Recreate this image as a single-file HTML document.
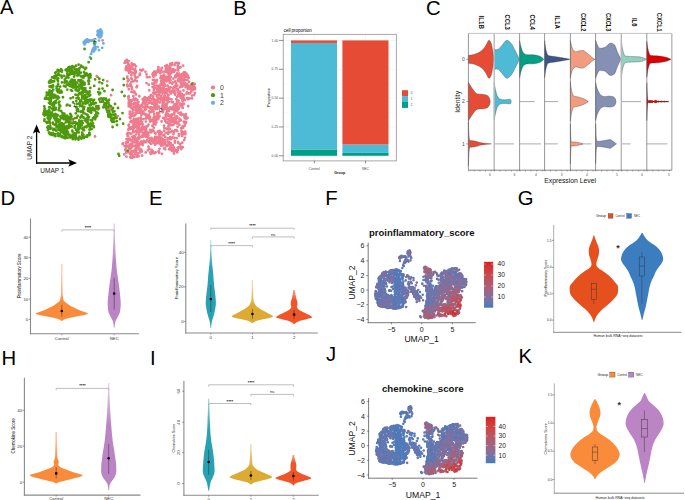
<!DOCTYPE html>
<html><head><meta charset="utf-8"><style>
html,body{margin:0;padding:0;background:#fff;width:685px;height:500px;overflow:hidden}
svg{display:block}
text{font-family:"Liberation Sans",sans-serif}
</style></head><body>
<svg width="685" height="500" viewBox="0 0 685 500" font-family='"Liberation Sans", sans-serif'>
<rect width="685" height="500" fill="#fff"/>
<text x="0" y="13.9" font-size="20.3">A</text>
<text x="233.2" y="14.5" font-size="20.3">B</text>
<text x="426" y="14.7" font-size="20.3">C</text>
<text x="0.6" y="205" font-size="20.3">D</text>
<text x="149" y="205.1" font-size="20.3">E</text>
<text x="325.3" y="205.4" font-size="20.3">F</text>
<text x="517.8" y="205.4" font-size="20.3">G</text>
<text x="1.5" y="364.8" font-size="20.3">H</text>
<text x="150" y="364.8" font-size="20.3">I</text>
<text x="326" y="361.3" font-size="20.3">J</text>
<text x="518.6" y="363.1" font-size="20.3">K</text>
<path d="M73.24 119.12h0M84.21 89.68h0M76.08 129.92h0M48.09 112.27h0M69.06 69.49h0M89.08 110.55h0M67.77 118.11h0M71.77 80.55h0M88.46 93.91h0M73.01 85.6h0M79.55 102.89h0M74.04 122.72h0M50.86 115.46h0M54.2 81.27h0M44.78 113.9h0M77.5 71.45h0M72.22 123.41h0M62.63 127.07h0M91.53 126h0M89.99 125.48h0M89.13 93.96h0M81.42 86.53h0M62.87 118.51h0M60.72 92.51h0M44.76 112.83h0M77.12 70.43h0M71.62 68.48h0M95.09 119.2h0M53.98 128.88h0M90.2 94.99h0M81.8 120.84h0M93.43 108.42h0M69.66 135.02h0M77.31 132.28h0M88.77 100.23h0M51.14 92.27h0M52.06 95.17h0M48.85 92.46h0M81.68 123.28h0M71.07 121.25h0M46.47 113.33h0M49.24 121.02h0M85.91 99.86h0M78.79 74.17h0M81.67 137.53h0M68.41 77.77h0M79.59 103.88h0M73.73 80.61h0M82.35 95.89h0M87.63 100.4h0M48.96 132.74h0M44.13 111.19h0M89.97 124.09h0M90.82 126.05h0M81.94 82.5h0M72.58 119.63h0M80.33 81.76h0M51.91 81.06h0M78.75 132.38h0M56.38 117.7h0M83.48 97.18h0M60.47 130.99h0M76.86 72.65h0M76.03 138.45h0M66.24 134.2h0M72.56 135.89h0M82.1 88.2h0M49.67 114.37h0M66.88 137.72h0M71.61 81.1h0M73 87.61h0M59.08 91.4h0M43.87 114.06h0M61.9 136.36h0M64.95 137.03h0M66.25 135.46h0M50.7 80.04h0M66.15 126.54h0M58.27 129.61h0M80.03 100.31h0M73.07 123.34h0M78.48 86.8h0M65.36 138.19h0M53.08 116.02h0M73.46 82.87h0M82.93 89.93h0M45.14 113.85h0M53.42 115.3h0M79.8 124.66h0M89.02 92.61h0M73.44 72.59h0M86.09 102.28h0M78.44 72.8h0M44.4 113.97h0M44.57 110.95h0M63.67 125.38h0M56.21 72.04h0M65.64 69.91h0M55.6 116.9h0M80.27 102.17h0M84.95 91.74h0M55.79 109.39h0M52.96 133.08h0M71.52 86.67h0M44.37 112.37h0M67.35 75.4h0M58.54 134.51h0M51.73 95.73h0M91.43 125.62h0M46.33 113.27h0M82.65 93.31h0M62.25 129.3h0M61.84 136.19h0M62.09 128.22h0M48.96 110.1h0M55.43 116.65h0M74.22 82.3h0M62.98 125.47h0M62.02 129.09h0M65.32 134.81h0M66.71 128.12h0M59.07 108.67h0M90.67 109.53h0M48.94 117.12h0M72.2 79.96h0M84.43 91.42h0M72.46 70.94h0M64.16 134.47h0M69.97 81.99h0M88.83 101.29h0M67.13 116.03h0M47.39 127.46h0M75.17 138.64h0M65.13 127.55h0M66.47 117.9h0M47.8 117.18h0M71.78 79.97h0M74.62 74.66h0M50.21 94.94h0M65.51 129.52h0M66.39 116.53h0M51.45 104.32h0M75.27 87.75h0M76.67 90.39h0M90.95 108.9h0M65.7 131.18h0M56.4 119.04h0M83.16 102.76h0M73.28 82.45h0M61.68 92.45h0M75.48 122.13h0M72.07 68.04h0M84.43 90.56h0M67.98 69.5h0M75.26 134.6h0M53.41 134.2h0M54.08 76.48h0M89.3 95.75h0M76.07 82.53h0M47.84 113.44h0M46.64 95.52h0M62.98 124.55h0M89.47 129.54h0M87.94 109.91h0M62.44 117.43h0M85.6 97.78h0M56.26 130.84h0M97.36 76.82h0M72.54 134.7h0M100.22 93.01h0M71.46 120.19h0M53.64 106.64h0M63.55 116.42h0M48.17 129.19h0M92.41 124.53h0M79.65 72.63h0M52.04 81.63h0M65.6 129.98h0M70.91 121.43h0M86.4 101.18h0M79.06 103.52h0M88.09 100.07h0M81.33 138.71h0M77.31 72.81h0M70.21 81.79h0M63.37 127.89h0M50.07 123.07h0M61.38 136.49h0M69 124.77h0M74.43 135.11h0M84.56 99.06h0M86.1 98.27h0M82.19 134.93h0M67.82 128.32h0M83.77 88.26h0M86.47 114.3h0M71.67 84.12h0M78.51 139.71h0M62.41 129.8h0M80.15 103.26h0M47.7 94.35h0M74.64 81.9h0M60.2 106.01h0M64.19 129.12h0M67.82 118.18h0M71.01 70.6h0M78.38 91.37h0M65.11 135.87h0M50.62 95.74h0M70.81 83.01h0M45.83 112.9h0M64.86 118.17h0M80.02 102.56h0M72.12 80.95h0M79.1 89.2h0M55.9 76.36h0M76.1 84.42h0M51.23 82.2h0M71.33 83.05h0M51.85 81.64h0M55.2 72.78h0M73.65 82.1h0M78.83 94.26h0M71.53 79.72h0M75.81 70.36h0M61.21 90.92h0M70.92 90.05h0M83.23 81.68h0M50.58 81.67h0M72.99 121.68h0M81.8 91.95h0M68.34 67.69h0M71.8 73.75h0M88.98 93.73h0M55.87 77.18h0M56.95 90.65h0M74.85 82.62h0M58.34 73.96h0M91.66 110.02h0M51.9 93.28h0M73.43 122.03h0M46.62 111.49h0M48.52 94.59h0M85.94 100.38h0M64.83 136.65h0M49.35 95.49h0M48.67 94.95h0M83.89 138.1h0M87.29 92.12h0M90.69 110.87h0M79.57 136.56h0M74.19 83.64h0M81.25 123.66h0M72.45 122.86h0M87.02 92.41h0M49.61 81.15h0M65.41 130.27h0M59.27 107.31h0M74.41 84.56h0M78.36 90.2h0M75.74 134.81h0M50.04 126.5h0M87.5 102.91h0M67.08 71.63h0M83.47 113.09h0M63.12 132.92h0M73.67 137.1h0M55.74 114.42h0M78.85 89.88h0M63.34 130.02h0M76.84 103.92h0M82.08 84.82h0M62.59 131.13h0M82.49 84.38h0M51.37 134.76h0M44.45 114.51h0M46.74 92.72h0M63.23 128.34h0M71.04 122.97h0M54.9 76.38h0M58.67 126.18h0M53.26 102.85h0M50.02 82.57h0M76.25 83.18h0M54.89 114.57h0M47.83 111.44h0M77.96 138.63h0M49.14 116.72h0M50.61 101.37h0M85.38 100.88h0M43.56 114.45h0M68.43 77.69h0M87.56 100.45h0M88.21 110.89h0M84.49 113.33h0M65.94 119.67h0M92.99 109.03h0M55.18 134.09h0M62.87 130.22h0M85.89 101.5h0M72.89 80.73h0M71.97 66.55h0M79.01 74.98h0M93.26 109.46h0M62.62 131.47h0M64.18 134.57h0M65.59 132.25h0M94.76 110.25h0M88.8 108.98h0M48.62 127.46h0M67.12 115.57h0M68.41 127.62h0M93.89 127.16h0M60.77 125.87h0M80.52 86.38h0M74.44 84.51h0M63.34 129.42h0M48.31 126.48h0M55.21 113.92h0M48.87 115.16h0M67.32 73.84h0M80.07 104.16h0M83.8 90.46h0M49.17 117.98h0M56.12 125.45h0M48.89 93.77h0M67.6 133.63h0M85.63 90.69h0M44.54 115.51h0M72.7 82.36h0M70.77 120.59h0M50.7 113.55h0M74.71 69.3h0M98.25 92.22h0M72.28 70.91h0M79.1 70.06h0M63.12 127.19h0M75.51 71.74h0M63.08 117.35h0M49.54 92.56h0M55.74 107.81h0M44.25 112.35h0M59.08 120.87h0M56.78 75.76h0M78.83 137.79h0M53.73 103.1h0M49.73 134.09h0M61.22 127.54h0M51.29 133.24h0M90.75 111.41h0M69.66 67.38h0M68.51 134.59h0M58.96 128.98h0M50.69 101.46h0M70.78 69.82h0M87.57 121.38h0M78.85 86.33h0M46.87 113.1h0M51.01 95.23h0M46.85 114.71h0M70.42 121.94h0M49.57 93.66h0M74.32 67.2h0M64.67 115.28h0M80.47 93.91h0M79.06 86.27h0M49.03 82.52h0M79.55 86.41h0M72.17 70.58h0M66.86 130.07h0M67.67 75.73h0M53.8 135.09h0M89.76 111.82h0M51.2 96.88h0M67.13 126.98h0M61.74 77.58h0M90.35 87.92h0M52.28 87.14h0M55.38 95.46h0M61.49 130.64h0M72.32 137.18h0M87.81 122.54h0M59.25 104.58h0M88.97 117.12h0M49.51 133.45h0M71.5 116.42h0M86.91 125.97h0M85.29 75.64h0M65.4 128.16h0M76.94 110.76h0M49.76 112.37h0M87.19 122.39h0M95.38 114.9h0M67.15 127.33h0M76.54 98.15h0M85.05 136.85h0M54.02 105.49h0M87.66 125.78h0M96.86 112.67h0M80.97 65.69h0M84.9 88.65h0M66.62 126.3h0M45.47 114.24h0M62.41 112.83h0M58.97 97.53h0M47.71 118.24h0M73.76 85.98h0M69.26 85.49h0M68.74 122.33h0M49.31 122.45h0M54.24 134.24h0M51.42 128.03h0M64.54 133.65h0M71.32 119.4h0M84.56 82.79h0M76.06 136.94h0M51.49 104.13h0M96.41 113.66h0M72.55 131.62h0M78.17 110.07h0M85.14 95.16h0M73.1 102.3h0M64.35 113.76h0M67.24 89.58h0M49.57 86.5h0M55.42 136.13h0M51.98 94.71h0M89.6 105.02h0M88.77 81.42h0M88.92 94.32h0M67.41 82.89h0M46.96 114.56h0M87.38 93.45h0M97.13 116.17h0M74.41 136.98h0M68.78 70.33h0M74.78 126.1h0M53.37 130.04h0M55.71 103.11h0M75.96 86.21h0M93.53 110.02h0M47.6 122.02h0M83.75 95.8h0M66.57 76.3h0M55.12 109.86h0M64.13 129.58h0M71.27 82.49h0M66.6 85.16h0M80.89 80.28h0M81.65 85.45h0M60.9 117.76h0M72.01 90.94h0M78.37 111.32h0M57.59 96.39h0M77.68 115.88h0M77.95 130.07h0M95.1 119.27h0M48.68 94h0M75.37 137.16h0M68.71 74.78h0M63.92 85.96h0M57.72 115.25h0M68.1 122.02h0M63.69 119.18h0M79.26 120.39h0M90.91 120.37h0M77.29 75.52h0M70.02 136.85h0M77.79 109.27h0M70.73 120.57h0M46.41 98.68h0M88.63 76.77h0M88.82 78.67h0M90.48 99.29h0M79.79 106.21h0M82.93 136.92h0M75.15 118.09h0M44.96 98.81h0M84.05 106.84h0M99.32 78.75h0M84.52 75.33h0M77.4 123.43h0M101.3 98.39h0M84.55 136.64h0M103.19 80.05h0M93.56 103.08h0M80.45 80.07h0M68.6 126.17h0M52.11 113.63h0M49.75 93.25h0M88.31 108.08h0M75.63 133.44h0M49.97 92.24h0M92.94 123.37h0M78.07 98.44h0M56.52 127.34h0M78.99 122.15h0M52.23 91.1h0M61.99 82.4h0M96.46 106.17h0M49.97 91.8h0M74.23 72.3h0M80.17 127.9h0M88.32 80.78h0M51.99 112.34h0M72.38 135.83h0M57.15 126.71h0M80.93 86.75h0M91.08 111.21h0M59.39 101.64h0M69.96 72.33h0M98.39 106.19h0M82.25 98.38h0M83.09 111.35h0M72.46 120.55h0M59.03 89.37h0M55.9 116.41h0M88.82 83.94h0M53.59 97.81h0M74.06 76.65h0M89.29 132.84h0M61.57 131.89h0M51.98 108.59h0M55.77 101.02h0M70.12 126.83h0M71.08 118.58h0M90.93 103.51h0M83.58 127.99h0M59.03 91.7h0M78.95 75.04h0M68.82 69.25h0M69.57 119.54h0M46.38 111.77h0M90.63 123.39h0M77.18 82.67h0M85.66 92.12h0M75.53 94.7h0M48.99 102.78h0M81.31 92.93h0M68.95 122.19h0M75.81 84.76h0M52.27 86.56h0M72.5 66.14h0M89.96 107.92h0M54.61 115.29h0M91.23 112.79h0M43.64 113.06h0M64.71 82.64h0M76.72 107.07h0M77.24 69.62h0M100.26 101.75h0M45.94 111.95h0M83.18 109.72h0M44.66 108.71h0M81.16 100.98h0M92.88 118.16h0M57.38 90.26h0M85.54 120.67h0M83.53 136.14h0M60.05 91.83h0M67.09 131.27h0M56.07 75.05h0M69.74 85.88h0M59.02 71.58h0M70.29 113.87h0M81.73 125.43h0M66.59 129.06h0M53.65 115.9h0M49.98 107.38h0M70.71 126.23h0M94.23 85.88h0M94.29 117.16h0M73 80.28h0M58.32 78.33h0M73.82 73.86h0M70.06 72.84h0M56.89 116.4h0M75.71 90.08h0M83.63 117.75h0M59.44 129.86h0M61.01 69.23h0M89.57 129.85h0M53.06 86.45h0M87.15 135.31h0M69.62 66.88h0M78.42 125.54h0M89.79 127.2h0M43.54 114.36h0M102.6 88.6h0M76.65 69.32h0M61.2 127.5h0M88.27 119.39h0M76.35 124.01h0M59.44 124h0M64.86 132.37h0M77.11 109.18h0M79.55 68.2h0M44.39 110.81h0M82.6 67h0M51.07 99.66h0M81.34 76.54h0M96.41 112.2h0M49.34 110.43h0M49.62 113.68h0M83.13 103.58h0M63.47 124.31h0M84.91 120.29h0M58.76 110.21h0M59.21 75.04h0M51.21 94.26h0M55.09 75.79h0M81.18 88.25h0M63.86 128.06h0M57.15 79.62h0M80.48 125.75h0M91.65 129.07h0M53.11 123.75h0M59.75 126.23h0M49.2 107.29h0M71.92 126.58h0M66.18 120.29h0M89.87 100.95h0M59.42 92.59h0M49.62 132.89h0M84.7 84.45h0M87.95 123.59h0M90.2 74.16h0M64.52 132.37h0M60.82 111.12h0M57.8 119.29h0M62.45 137.24h0M64.42 130.23h0M69.53 117.48h0M48.86 93.23h0M77.87 95.39h0M88.68 94.53h0M62.05 70.51h0M65.72 78.32h0M46.9 122.9h0M83.2 77.33h0M89.62 91.38h0M44.89 108.65h0M54.06 109.8h0M67.87 132.84h0M78.18 126.6h0M57.2 97.66h0M82.37 128.7h0M47.94 129.88h0M99.44 82.14h0M61.83 136.33h0M89.06 135.2h0M80.86 116.7h0M93.64 126.06h0M65.55 86.65h0M92.72 107.63h0M58.02 81h0M69.39 74.97h0M56.56 88.55h0M81.72 116.92h0M63.12 128.63h0M80.74 72.73h0M65.84 122.26h0M47.74 111.99h0M59.51 123.94h0M78.81 129.39h0M63.88 127.44h0M102.07 83.36h0M49.94 122.43h0M81.27 66.7h0M53.01 122.73h0M44.61 113.8h0M57.67 69.99h0M46.32 111.03h0M90.6 75.54h0M82.68 123.11h0M47.99 127.66h0M89.77 134.56h0M82.39 97.13h0M78.4 98.71h0M86.11 68.02h0M60.07 134.14h0M61.89 123.41h0M89.45 132.87h0M60.06 119.75h0M75.85 86.7h0M57.51 98.97h0M63.8 75.97h0M50.51 81.49h0M50.72 117.62h0M70.34 71.32h0M107.21 85.71h0M60.11 86.69h0M69.91 105.7h0M79.49 80.81h0M85.1 69.18h0M61.13 75.6h0M82.09 98.38h0M80.02 103.68h0M93.18 108.93h0M75.95 107.24h0M80.96 111.89h0M70.35 137.52h0M50.93 87.12h0M58.09 133.16h0M76.22 101.06h0M55.58 97.33h0M83.55 77.84h0M58.59 102.62h0M72.32 130.69h0M57.79 74.81h0M98.94 108.34h0M92.9 101.53h0M62.95 97.25h0M49.42 99.85h0M62.67 128.4h0M60.61 127.6h0M89.37 135.22h0M47.57 122.72h0M90.04 75.28h0M94.14 103.96h0M51.1 86.07h0M81.24 79.9h0M87.03 136.77h0M79.98 93.41h0M82.16 96.01h0M87.76 117.25h0M53.83 81.41h0M58.88 70.49h0M86.45 73.38h0M88.64 81.77h0M52.26 97.38h0M62.04 129.77h0M72.82 139.16h0M78.46 80.19h0M69.48 119.91h0M89.1 100.08h0M74.68 80.19h0M95.59 117.66h0M55.2 124.82h0M56.28 123.3h0M67.43 104.77h0M55.23 97.08h0M68.69 84.3h0M52.59 105.6h0M60.58 122.82h0M49.12 98.16h0M50.13 103.75h0M76.06 65.76h0M92.28 99.82h0M57.8 133.7h0M88.99 78.27h0M49.07 128.91h0M77.86 138.44h0M72.96 121.79h0M92.24 120.68h0M85.3 89.35h0M73.54 137.65h0M87.77 75.65h0M50.1 119.23h0M60.11 125.88h0M86.91 121.02h0M54.54 94.91h0M46.34 122.04h0M58.07 83.89h0M83.6 108.44h0M82.56 88.19h0M70.57 98.32h0M67.89 137.61h0M58.38 133.95h0M62.65 114.62h0M72.25 83.14h0M72.88 122.69h0M91 99.61h0M56.52 86.53h0M82.98 85.06h0M99.11 88.99h0M95.25 109.48h0M81 76.25h0M96.22 106.77h0M45.56 97.71h0M50.08 125.75h0M77.22 70.66h0M54.25 115.74h0M86.02 118.87h0M81.25 121.97h0M95.68 102.92h0M81.78 123.08h0M67.39 118.55h0M99.48 98.98h0M70.26 68.28h0M44.46 119.39h0M69.34 127.5h0M54.3 118.35h0M54.13 102.08h0M50.66 128.71h0M58.25 135.86h0M86.74 122.21h0M53.72 104.11h0M76.35 72.69h0M83.64 117.74h0M54.63 114.43h0M95.26 118.51h0M44.3 106.32h0M50.69 94.75h0M93.24 104.12h0M65.75 81.65h0M64.83 81.52h0M47.02 98.44h0M49.4 132.65h0M95.08 79.43h0M48.57 117.62h0M64.61 138.14h0M54.78 78.24h0M62.71 116.33h0M85.24 88.16h0M80.39 117.56h0M66.47 69.35h0M75.8 86.87h0M53.76 124.36h0M81.72 105.81h0M56.35 121.1h0M74.63 133.1h0M82.24 106.47h0M85.53 103.64h0M48.93 119.18h0M53.63 108.03h0M83.86 109h0M97.32 108.5h0M61.23 111.15h0M73.02 97.45h0M57.91 86.02h0M99.26 94.29h0M55.46 120.29h0M79.43 84.68h0M53.27 89.63h0M61.54 70.63h0M82.05 121.09h0M53.58 135.23h0M90.83 105.07h0M80.08 84.35h0M89.3 92.5h0M99.17 99.54h0M84.03 72.24h0M53.59 94.8h0M84.76 126.82h0M84.07 130.14h0M87.84 115.37h0M58.03 92.15h0M81.19 111.32h0M70.93 115.03h0M44.36 120.8h0M67.85 132.03h0M84.92 73.61h0M66.64 115.78h0M53.98 77.97h0M74.2 122.46h0M74.66 127.63h0M69.19 117.1h0M69.81 135.41h0M87.81 74.69h0M63.7 123.82h0M59.27 136.06h0M87.12 97.09h0M79.39 121.11h0M84.26 107.08h0M86.5 127.34h0M57.86 121.66h0M104.42 91.22h0M81.75 115.43h0M87.69 96.36h0M66.75 105.3h0M62.66 127.89h0M49.52 90.34h0M46.96 113.19h0M54.91 77.53h0M64.81 79.6h0M82.9 76.1h0M58.62 70.76h0M72.85 79.97h0M71.72 71.46h0M92.14 103.39h0M83.43 67.3h0M83.46 82.29h0M67.79 117.9h0M75.36 139.36h0M70.71 122.62h0M83.51 84.36h0M51.41 91.49h0M58.43 125.36h0M52.99 85.17h0M67.5 120.58h0M83.35 134.59h0M52.05 96.26h0M88.19 101.25h0M57 114.84h0M76.47 87.63h0M69.52 119.7h0M86.7 91.4h0M77.48 73.09h0M77.84 69.64h0M55.43 129.87h0M76.78 117.84h0M61.68 116.18h0M52.92 109.99h0M78.29 126.85h0M52.06 77.47h0M75.77 113.31h0M83.41 129.9h0M67.61 132.28h0M82.21 132.65h0M73.39 134.93h0M91.58 125.7h0M67.75 117.29h0M66.78 81.29h0M60.42 116.5h0M98.11 113.39h0M59.34 104.77h0M54.68 108.1h0M70.85 73.52h0M90.44 77.4h0M77.17 72.94h0M49.05 133.06h0M89.14 81.24h0M77.8 128h0M61.75 71.67h0M78.67 97.91h0M94.15 99.79h0M89.03 134.73h0M48.5 99.17h0M98.16 109.35h0M112.5 117.69h0M111.93 114.54h0M107.03 110.44h0M113.82 114.63h0M111.22 120.41h0M114.1 118.65h0M107.94 100.82h0M110.72 115.53h0M113.29 111.67h0M102.09 101.63h0M113.21 120.58h0M112.26 109.57h0M103.37 107.31h0M106.13 105.25h0M108.19 116.36h0M109.33 108.61h0M112.7 111.78h0M112.05 119.34h0M105.96 98.66h0M103.01 100.95h0M106.29 107.93h0M108.18 114.44h0M114.47 111.34h0M111.46 118.87h0M113.55 121.14h0M104.18 104.78h0M111.84 109.54h0M107.97 106.99h0M114.68 117.93h0M106.09 99.91h0M110.69 106.06h0M108.84 116.9h0M105.24 105.63h0M113.04 108.04h0M108.85 107.33h0M113.7 119.37h0M115.61 116.36h0M108.42 102.54h0M114.28 121.87h0M110.19 106.08h0M103.41 106.92h0M108.02 111.78h0M102.44 100.95h0M105.8 105.87h0M106.16 108.53h0M113.68 118.28h0M112.33 121.92h0M106.99 101.96h0M109.21 108.19h0M106.26 107.96h0M108.94 104.75h0M116.57 117.93h0M109.03 111.71h0M107.34 111.84h0M104.91 106.58h0M111 117.67h0M109.32 110.94h0M103.81 98.48h0M115.38 114.38h0M108.45 115.1h0M112.73 120.46h0M108.48 112.39h0M109.69 113.36h0M105.05 104.24h0M109.8 108.81h0M104.55 103.04h0M103.77 98.98h0M107.47 112.08h0M110.95 106.73h0M111.5 107.67h0M112.73 120h0M116.82 121.09h0M106.67 102.96h0M106.25 103.51h0M105.95 105.47h0" stroke="#4f9a0c" stroke-width="2.8" stroke-linecap="round" fill="none"/>
<path d="M169.17 70.51h0M157.7 87.41h0M163.34 107.89h0M161.13 141.54h0M161.67 84.03h0M181.26 79.46h0M130.72 106.66h0M145.84 127.55h0M151.96 140.48h0M126.34 143.55h0M134.19 69.58h0M192.31 89.41h0M170.6 80.35h0M170.16 71.53h0M146.05 128.5h0M149.28 100.17h0M181.49 105.22h0M158.36 99.48h0M173.88 119.94h0M180.11 93.94h0M155.67 139.75h0M130.43 118.34h0M163.33 105.93h0M168.07 70.7h0M164.06 76.59h0M130.77 105.64h0M129.55 148.87h0M174.36 119.06h0M137.75 111.32h0M180.42 77.5h0M136.48 150.27h0M135.69 72.68h0M131.62 104.14h0M167.15 99.3h0M174.26 112.72h0M162.3 139.43h0M130.81 85.07h0M158.03 137.82h0M135.91 72.1h0M164.93 78.49h0M194.79 87.76h0M186.6 75.42h0M177.36 106.64h0M135.83 71.25h0M164.89 93.48h0M154.3 103.48h0M142.39 112.49h0M146.43 101.97h0M132.93 107.87h0M146.08 129.22h0M193.64 86.74h0M147.82 133h0M155.87 117.1h0M143.9 102.78h0M165.6 98.87h0M151.33 139.85h0M148.45 135.29h0M162.64 100.38h0M155.43 102.41h0M142.04 128.03h0M145.63 106.16h0M137.07 143.9h0M154.48 102.63h0M128.67 104.06h0M154.35 102.88h0M164.58 119.07h0M162.12 90.82h0M185.28 132.48h0M172.85 120.31h0M140.18 109.11h0M164.99 71.62h0M132.33 121.59h0M142.66 112.6h0M180.73 76.9h0M144.86 126.85h0M173.6 124.53h0M169.44 79.28h0M162.66 112.21h0M159.55 136.32h0M169.02 124.22h0M130.94 107.4h0M168.84 77.82h0M144.32 113.72h0M164.95 142.73h0M167.62 119.3h0M132.46 126.81h0M150.64 140.85h0M162.63 98.26h0M156.41 122.36h0M175.77 106.56h0M131.19 78.4h0M161.24 137.72h0M164.49 89.67h0M152.15 98.66h0M176.27 77.05h0M147.64 136.07h0M134.22 150.9h0M160.92 99.9h0M129.14 105.11h0M168.67 98.72h0M175.52 75.52h0M137.34 112.63h0M159.55 70.24h0M145.92 105.29h0M131.84 79h0M166.28 89.27h0M153.49 107.52h0M166.78 81.27h0M154.08 102.62h0M138.16 144.17h0M166.46 98.46h0M163.59 142.66h0M159.7 93.06h0M157.88 97.62h0M185.59 87.33h0M195.05 88.98h0M177.68 147.7h0M162.4 142.68h0M156.45 143.33h0M131.33 100.21h0M153.03 102.93h0M181.63 131.73h0M129.83 149.28h0M142.31 110.95h0M131.78 122.2h0M154.66 141.25h0M164.24 81.32h0M166.48 106.87h0M147.06 116.35h0M128.8 67.28h0M143.99 102.2h0M179.89 75.84h0M169.24 69.13h0M152.6 109.78h0M176.28 99.18h0M158.7 107.47h0M159.31 143.51h0M159.46 92.17h0M138.54 110.87h0M154.62 121.98h0M156.75 100.22h0M166.2 91.91h0M137.14 112.47h0M143.09 111.44h0M168.75 123.88h0M127.8 142.35h0M128.86 124.74h0M169.09 72.89h0M157.02 72.23h0M186.47 86.44h0M145.78 98.79h0M134.37 126.33h0M161.41 84.63h0M156.64 142.59h0M156.34 92.02h0M161.9 107.13h0M169.29 142.08h0M167.85 144.67h0M174.3 114.09h0M181.82 95.84h0M146.65 135.52h0M147.1 100.01h0M141.36 114.12h0M166.59 104.55h0M169.73 82.79h0M136.44 113.18h0M172.53 121.51h0M157.22 119.45h0M192.84 83.34h0M167.52 101.04h0M161.01 77.8h0M175.23 111.02h0M178.6 100.54h0M164.24 105.12h0M168.8 143.94h0M128.61 79.95h0M131.04 140.61h0M170.83 115.52h0M179.03 73.75h0M172.74 121.76h0M163.99 135.09h0M162.93 80.47h0M173.07 69.36h0M165.42 97.81h0M154.02 122.18h0M183.01 97.68h0M171.22 71.78h0M146.09 135.26h0M128.62 128.76h0M167.9 98.26h0M154.51 122.12h0M154.19 103.93h0M176.57 104.99h0M140.86 128.67h0M180.48 93.46h0M133.16 137.85h0M142.82 129.48h0M157.39 100.21h0M143.89 107.4h0M132.18 139.99h0M169.96 79.57h0M175.67 106.16h0M150.4 140.9h0M179.48 94.48h0M165.15 89.03h0M159.87 142.44h0M137.24 122.53h0M130.19 105.67h0M170.32 69.18h0M143.29 103.53h0M143.34 100.65h0M183.95 73.9h0M125.34 149.75h0M164.25 100.37h0M192.65 90.04h0M158.18 117.59h0M133.95 128.15h0M175.12 94.65h0M173.68 106.07h0M148.29 107.22h0M189.8 88.66h0M130.54 102.78h0M156.55 72.5h0M153.59 124.19h0M158.75 141.52h0M150.02 102.87h0M167.98 145.58h0M180.75 79.97h0M173.76 109.91h0M155.34 118.61h0M168.91 66.55h0M136.14 148.69h0M180.36 81.65h0M164.07 105.18h0M173.95 70.6h0M153.92 138.93h0M176.9 150.08h0M154.41 105.85h0M167 69.91h0M136.23 145.77h0M160.87 88.51h0M162.2 87.83h0M177.15 100.76h0M183.83 125.85h0M162.69 93.35h0M163.6 87.52h0M159.36 98.41h0M183.21 127.65h0M160.16 143.19h0M134.7 92.78h0M180.41 114.41h0M139.02 108.16h0M141.51 115.05h0M122.58 144h0M172.76 114.57h0M153.53 98.82h0M179.08 79.57h0M132.34 114.89h0M145.73 129.42h0M184.03 103.89h0M136.61 112.8h0M178.95 107.43h0M178.24 94.95h0M184.76 100.06h0M125.76 69.49h0M150.35 140.49h0M174.12 131.38h0M165.01 140.84h0M160.43 91.56h0M137.25 138.43h0M135.94 134.39h0M160.19 87.54h0M177.4 103.52h0M152 103.05h0M154.91 93.7h0M154.44 104.3h0M128.73 103.99h0M136.13 105.81h0M158.97 140.22h0M174.55 90.74h0M166.12 80.04h0M161.81 67.9h0M145.25 134.13h0M144.6 100.14h0M181.57 98.03h0M128.4 63.91h0M164.94 71.3h0M129.55 104.19h0M151.5 137.8h0M155.59 106.05h0M169.15 76.18h0M135.37 121.03h0M157.2 101.16h0M161.14 69.81h0M170.72 65.37h0M169.18 80.44h0M163.69 81.76h0M162.09 142.18h0M166.13 122.37h0M169.71 122.92h0M172.69 131.45h0M135.11 69.12h0M176.66 62.89h0M188.26 87.44h0M181.26 128.2h0M135.03 125.69h0M166.98 122.5h0M183.27 73.91h0M131.41 81.96h0M154.88 72.72h0M194.69 83.89h0M145.94 102.17h0M156 73.09h0M156.87 96.33h0M154.13 71.57h0M182.01 106.66h0M164.82 96.21h0M188.74 77.71h0M139.71 106.37h0M179.02 79.59h0M167.09 79.08h0M134.45 120.83h0M163.59 78.47h0M154.92 102.34h0M135.66 127.15h0M184.91 137.8h0M140.73 109.23h0M175.21 150.86h0M185.32 134.22h0M150.2 119.31h0M155.53 138.64h0M173.29 106.94h0M154.06 121.83h0M126.01 61.61h0M168.14 95.47h0M164.04 76.11h0M155.41 120.74h0M163.5 79.56h0M179.31 95.78h0M136.93 145.26h0M147.31 99.7h0M131.68 101.23h0M130.42 84.18h0M153.84 107.83h0M169.48 116.38h0M173.5 134.08h0M162.4 143.51h0M131.32 114.51h0M124.52 146.07h0M135.91 104.5h0M149.15 97.08h0M139.4 108.46h0M168.61 78.51h0M181.67 74.61h0M180.32 93.82h0M184.43 84.75h0M126 151.06h0M171.42 149.77h0M182.78 75.44h0M135.01 141.33h0M162.43 141.78h0M155.68 106.81h0M164.98 100.17h0M131.31 100.29h0M146.8 126.48h0M152.15 121h0M160.23 138.66h0M171.82 125.14h0M163.44 110.55h0M135.17 146.22h0M169.91 128.79h0M134.98 137.27h0M139.38 108.26h0M166.87 77.22h0M155.36 99.82h0M180.88 77.69h0M146.85 98.14h0M157.86 100.19h0M148.73 141.75h0M165.35 107.08h0M172.4 107.41h0M173.05 124.88h0M153.79 90.05h0M162.53 76.18h0M136.67 120.76h0M177.14 96.9h0M176.6 110.77h0M154.53 105.42h0M166.61 78.28h0M146.07 118.62h0M145.12 128.82h0M148.64 132.69h0M136.96 108.04h0M159.98 98.33h0M180.67 97.74h0M159.3 142.96h0M145.29 135.7h0M161.24 89.65h0M182.61 79.77h0M173.8 109.04h0M139.99 142.92h0M137.83 119.45h0M172.16 130.84h0M133.16 107.75h0M157.09 88.49h0M157.71 107.68h0M182.39 99.92h0M145.67 104.14h0M156.92 85.71h0M177.14 63.09h0M180.86 104.21h0M137.01 106.6h0M145.12 127.4h0M178.56 76.42h0M126.73 69.39h0M183.56 74.82h0M128.79 104h0M138.38 108.34h0M158.22 119.03h0M145.1 110.01h0M178.55 113.02h0M133.31 124.89h0M152.26 99.17h0M193.61 89.05h0M176.45 88.47h0M135.08 115.23h0M159.62 132.76h0M159.49 137.56h0M184.42 74.83h0M134.08 125.73h0M142.36 126.61h0M158.34 89.95h0M176.96 101.28h0M174.5 149.19h0M183.52 97.89h0M129.75 117.51h0M138.88 110.65h0M146.56 134.01h0M186.34 84.17h0M128.78 139.07h0M131.07 116.24h0M145.16 101.8h0M178.02 90.69h0M177.98 65.98h0M157.73 91.24h0M160.9 76.37h0M175.5 110.12h0M173.16 71.62h0M184.42 76.57h0M169.79 69.8h0M164.89 97.87h0M173.26 107.48h0M175.15 77.01h0M139.46 110.1h0M166.11 76.55h0M163.74 79.1h0M141.84 110.8h0M172.51 148.34h0M128.59 69.39h0M144.96 97.3h0M136.47 119.09h0M150.55 140.52h0M154.46 118.42h0M146.18 117.81h0M153.17 96.08h0M144.41 100.88h0M155.21 121.55h0M181.59 114.49h0M145.11 136.33h0M181.96 94.11h0M178.52 108.51h0M169.11 120.62h0M133.72 127.42h0M127.51 146.26h0M154.18 102.98h0M131.16 148.02h0M159.46 98.67h0M130.44 121.88h0M160.66 142.39h0M147.25 117.61h0M142.61 107.06h0M135.6 106.7h0M145.22 98.35h0M164.55 83.87h0M143.05 99.22h0M166.95 89.4h0M155.67 152.31h0M162.77 103.07h0M137.89 119.54h0M152.66 152.98h0M136.26 113.31h0M138.36 146.78h0M130.52 104.03h0M157.24 142.47h0M172.03 117.58h0M162.05 89.76h0M130.7 128.96h0M187.16 84.09h0M148.48 98.19h0M130.68 68.02h0M182.12 135.94h0M169.04 111.06h0M126.15 147.65h0M136.05 118.78h0M147.32 135.76h0M127.12 62.52h0M127.66 141.24h0M132.51 65.69h0M146.4 131.25h0M143.97 102.95h0M178.81 95.55h0M174.2 132.05h0M131.59 143.65h0M171.11 121.59h0M130.34 69.27h0M162.11 82.9h0M182.42 105.54h0M155.39 141.3h0M157.8 99.48h0M143.5 119.13h0M148.6 98.47h0M162.32 108.99h0M153.07 121.51h0M178.52 79.25h0M146.04 115.71h0M136.07 122.65h0M134.25 103.05h0M137.45 110.46h0M162.73 106.34h0M143.28 128.06h0M154.83 119.44h0M162.18 100.43h0M132.65 64.1h0M154.37 122.19h0M174.79 122.77h0M129.62 100.62h0M153.58 111.74h0M139.08 144.87h0M160.42 78.12h0M163.76 78.45h0M155.45 103.66h0M169.67 79.51h0M161.13 80.95h0M154.47 116.37h0M126.55 152.55h0M156.51 104.15h0M133.17 115.72h0M145.6 108.78h0M162.76 71.85h0M133.84 156.91h0M155.5 109.14h0M176.48 103.65h0M145.56 101.84h0M187.3 76.56h0M183.85 72.39h0M164.92 99.81h0M182.77 74.25h0M160.18 139.94h0M169.98 69.47h0M164.29 96.16h0M138.19 108.4h0M183.21 79.07h0M152.12 121.06h0M177.48 88.57h0M187.81 89.2h0M163.24 107.02h0M169.72 116.94h0M129.62 139.97h0M156.77 116.66h0M168.08 78.34h0M163.81 98.07h0M165.88 69.23h0M182.98 103.96h0M129.05 104.29h0M135.5 119.76h0M154.91 121.33h0M165.07 92.42h0M153.75 87.99h0M185.98 75.01h0M165.4 96.78h0M170.97 124.57h0M158.77 140.52h0M158.22 116.23h0M131.49 108.1h0M129.13 65.26h0M156.72 101.71h0M162.59 144.71h0M172.79 107.89h0M191.88 90.12h0M136.56 87.27h0M183.74 84.96h0M154.19 153.16h0M161.27 137.81h0M165.08 120.04h0M157.03 106.04h0M171.08 148.68h0M159.55 71.96h0M128.82 68.06h0M135.45 138.16h0M180.2 91.61h0M164.71 77.85h0M182.18 74.22h0M173.83 118.33h0M168.94 70.37h0M156.66 102.94h0M167.5 80.7h0M168.83 68.59h0M170.14 63.88h0M154.77 105.88h0M155.5 71.6h0M144.1 102.33h0M170.9 145.8h0M158.16 142.9h0M135.62 148.86h0M135.68 140.74h0M161.29 134.1h0M163.5 90.62h0M172.36 102.1h0M182.5 126.57h0M130.36 67.46h0M167.05 72.32h0M133.87 119.07h0M182.38 135.35h0M185.99 85.88h0M192.22 85.12h0M165.37 144.39h0M128.79 102.73h0M152.39 109.87h0M130.31 144.79h0M165.45 79.23h0M152.64 152.49h0M154.77 103.26h0M152.18 103.86h0M133.43 104.4h0M125.68 146.02h0M179.26 76.72h0M170.52 65.76h0M143.92 135.39h0M155.26 117.29h0M147.24 140.26h0M161.23 142.69h0M128.96 147.06h0M158.16 92.01h0M177.89 75.83h0M137.12 86.02h0M166.24 66.96h0M181.36 74.8h0M182.7 114.49h0M165.24 140.16h0M163.37 85.06h0M180.12 95.28h0M133.59 150.93h0M129.28 67.71h0M152.8 151.18h0M171.1 69.21h0M129.99 127.38h0M170.66 125.18h0M128.65 106.35h0M161.33 95.71h0M189.98 86.4h0M131.34 108h0M137.31 156.85h0M162.11 140.77h0M141.78 135.96h0M137.59 125.47h0M133.94 124.24h0M156.26 139.91h0M186.37 76.77h0M157.24 106.86h0M131.79 64.88h0M144.53 133.15h0M156.76 106.31h0M133.38 156.32h0M174.47 108.31h0M142.19 111.68h0M180.35 103.62h0M157.3 117.83h0M134.45 92.26h0M135.22 122.43h0M171.19 73h0M144.4 135.24h0M180.49 76.72h0M163.85 107.77h0M178.24 102h0M135.65 112.66h0M135.71 114.15h0M181.52 130.58h0M146.7 100.38h0M154.47 108.25h0M178.33 102.35h0M132.28 108.08h0M183.47 97h0M166.88 81.23h0M155.98 121.09h0M137.37 108.19h0M174.74 150.57h0M128.38 129.7h0M160.79 141.23h0M134.33 138.84h0M182.58 101.2h0M135.71 124.91h0M187.03 98.18h0M167.67 141.89h0M170.19 108.53h0M128.81 97.37h0M126.8 59.89h0M135.36 121.88h0M166.51 128.66h0M140.1 124.35h0M133.84 142.38h0M145.38 141.73h0M175.09 86.95h0M154.74 122.51h0M181.49 115.02h0M147.73 107.11h0M184.53 77.82h0M148.84 84.68h0M151.11 111.93h0M130.17 152.99h0M175.72 77.07h0M153.74 101.2h0M158.9 151.76h0M139.07 121.6h0M171.9 150.68h0M186.54 93.76h0M133.5 99.44h0M155.1 133.13h0M152.54 74.77h0M194.05 95.12h0M139.65 75h0M135.57 110.09h0M150.05 129.99h0M180.24 87.2h0M163.65 78.17h0M172.65 90.45h0M136.94 131.31h0M154.66 100.63h0M177.95 63.62h0M161.55 144.34h0M175 120.18h0M171.47 99.36h0M131.33 153.75h0M172.24 83.72h0M175.46 116.63h0M172.83 82.52h0M148.91 114.8h0M179.44 124.87h0M167.69 132.34h0M178.08 142.09h0M160.82 140.82h0M170.78 77.02h0M169.26 123.63h0M130.47 144.13h0M131.73 154.87h0M168.55 115.71h0M185.77 114.16h0M128.66 96.23h0M159.18 117.06h0M181.35 105.96h0M163.15 139.72h0M157.23 89.87h0M170.5 149.03h0M133.19 130.53h0M132.3 157.86h0M132.28 108.49h0M141.32 149.67h0M157.08 102.26h0M147.68 126.05h0M178.17 70.56h0M171.13 93.41h0M159.5 148.79h0M130.05 154.11h0M174.6 104.35h0M126.12 142.5h0M177.75 80.75h0M138.25 104.75h0M152.94 79.96h0M170.79 91.71h0M140.79 137.19h0M156.48 104.03h0M134.78 76.15h0M130.53 121.82h0M167.84 139.3h0M178.21 122.71h0M155.5 133.64h0M157.81 70.19h0M166.43 68.31h0M176.42 130.07h0M157.91 88.79h0M151.46 149.88h0M139.57 122.37h0M162.77 103.45h0M125.44 61.26h0M159.35 134.2h0M138.35 155.79h0M155.09 144.84h0M171.24 114.73h0M173.58 151.17h0M135.06 92.87h0M148.63 117.98h0M138.99 134.64h0M170 137.14h0M170.09 67.47h0M132.18 136.78h0M147.25 106.47h0M149.09 102.76h0M150.28 152.34h0M167.59 129.21h0M162.67 92.69h0M160.8 142.59h0M164.65 105.63h0M133.39 116.09h0M162.73 139.07h0M164.3 117.86h0M184.83 83.44h0M185.81 123.07h0M178.66 121.53h0M191.29 84.58h0M178.62 108.89h0M163.16 107.38h0M183.83 95.21h0M178.92 134.17h0M135.13 80.44h0M168.63 74.51h0M154.69 99.62h0M132.54 68.44h0M127.43 86.25h0M153.82 127.65h0M172.95 102.08h0M134.75 64.55h0M123.08 143.48h0M138.58 111.43h0M156.95 80.03h0M151.17 132.34h0M127.73 81.47h0M134.18 64.8h0M156.65 104.96h0M169.49 88.33h0M178.52 62.99h0M146.51 100.54h0M185.24 118.49h0M137.03 139.33h0M174.91 81.51h0M139.59 110.39h0M165.22 149.3h0M185.04 131.53h0M131.48 75.35h0M130.88 133.74h0M166.29 108.94h0M164 74.62h0M143.93 140.88h0M137.29 99.82h0M157.13 113.24h0M169.23 120.05h0M186.15 121.92h0M187.5 117.98h0M151.19 143.96h0M177.97 89.01h0M183.52 90.56h0M177.04 73.37h0M147.3 104.72h0M154.28 79.89h0M164.43 148.08h0M169.46 89.01h0M130.72 68.82h0M174.86 142.69h0M147.83 150.27h0M179.12 118.62h0M169.14 138.63h0M124.66 62.91h0M163.15 100.59h0M140.83 105.71h0M134.94 69.13h0M176.24 111.14h0M132.85 112.92h0M182.29 86.58h0M166.47 146.01h0M156.81 117.97h0M125.63 61.62h0M173.35 88.23h0M177.66 68.75h0M133.98 98.8h0M136.54 111.21h0M134.98 70.12h0M146.99 136.91h0M135.99 94.49h0M134.52 157.05h0M166.9 65.2h0M159.91 87.91h0M130.21 71.46h0M132.89 126.41h0M153.54 131.01h0M181.02 84.07h0M150.14 117h0M170.52 93.14h0M179.97 119.1h0M186.39 73.65h0M145.46 71.83h0M140.52 120.87h0M159.71 85.38h0M184.67 117.89h0M180.63 86.52h0M140.64 117.73h0M128.25 64.76h0M175.17 130.17h0M173.34 78.7h0M130.83 100.4h0M191.3 91.49h0M168.67 101.73h0M138.19 118.67h0M188.55 98.88h0M135.52 107.38h0M127.97 132.84h0M156.04 88.13h0M128.79 89.27h0M144.29 114.02h0M135.05 145.69h0M138.65 156.21h0M167.04 98.68h0M176.93 123.6h0M189.88 88.37h0M160.58 96.5h0M152.87 83.66h0M180.26 144.21h0M180.13 113.79h0M167.18 93.5h0M169.62 91.33h0M128.25 96.81h0M166.16 103.9h0M131.56 147.24h0M153.63 117.67h0M137.08 132.21h0M177.68 66.09h0M174.63 65.1h0M142.76 124.41h0M166.32 67.67h0M167.73 138.37h0M156.96 142.71h0M135.02 153.72h0M159.79 102.52h0M137.59 77.22h0M173.01 91.52h0M159.53 90.71h0M138.6 121.58h0M173.56 119.91h0M139.42 96.24h0M162.02 153.82h0M128.08 136.31h0M142.68 142.45h0M185.13 80.17h0M144.69 97.16h0M152.66 119.67h0M142.73 145.07h0M153.83 143h0M177.05 116.4h0M173.91 86.98h0M174.79 140.87h0M168.22 109.08h0M188.28 98.72h0M131.26 75.17h0M168.41 95.26h0M173.8 151.93h0M141.34 131.37h0M155.07 136.87h0M153.16 93.21h0M188.92 85.86h0M174.01 153.56h0M136.39 113.3h0M194.91 93.1h0M182.83 147.07h0M149.61 118.44h0M157.06 80.27h0M186.4 118.6h0M136.5 155.34h0M148.38 146.56h0M180.55 67.32h0M175.03 105.09h0M163.56 143.05h0M149.35 119.37h0M163.03 117.81h0M182.88 76.39h0M168.08 98.01h0M143.34 142.79h0M153.09 96.59h0M172.82 148.4h0M157.88 86.01h0M138.77 138.34h0M182.07 86.48h0M147.32 116.18h0M171.22 63.5h0M191.76 86.95h0M134.48 74.33h0M160.33 73.3h0M129.01 133.23h0M131.99 89.04h0M162.84 145.35h0M170.23 107.36h0M129.96 116.96h0M187.74 85.84h0M153.04 141.91h0M182.72 107.96h0M170.4 68.55h0M181.35 94.93h0M167.43 145.37h0M166.12 117h0M158.53 151.39h0M138.68 148.1h0M180.82 112.64h0M158.36 114.92h0M135.1 100.13h0M131.62 151.22h0M177.5 90.53h0M166.12 115.36h0M184.68 116.89h0M125.93 67.7h0M170.75 87.3h0M182.28 75.78h0M184.24 75.23h0M194.09 86.69h0M155.22 102.58h0M127.13 84.71h0M167.01 111.43h0M153.44 76.69h0M154.54 85.52h0M153.13 75.11h0M134.63 106.98h0M163.07 102.58h0M170.59 146.65h0M127.31 76.73h0M161.13 145.63h0M126.38 66.51h0M157.26 95.08h0M143.81 101.36h0M170.88 119.19h0M146.47 83.03h0M130.99 154.79h0M150.13 119.54h0M152.98 73.19h0M177.69 74.83h0M138.08 128.89h0M178.39 142.99h0M138.35 137.49h0M139.21 132.7h0M142.84 133.23h0M161.47 84.68h0M175.43 63.07h0M126.59 139.13h0M179.79 75.61h0M159.73 131h0M182.44 82.52h0M133.33 96.23h0M179.42 67.48h0M133.03 141.82h0M164.97 143.18h0M180.13 119.59h0M133.93 91.39h0M131.63 63.36h0M165.2 66.08h0M149.09 111.3h0M178.98 63.32h0M139.1 126.35h0M188.81 93.46h0M124.23 154.4h0M145.86 121.54h0M138.39 101.88h0M161.57 121.41h0M136.55 146.92h0M165.74 133.03h0M145.65 106.12h0M139.79 128.81h0M150.51 108.74h0M126.47 156.7h0M129.8 138.55h0M148.6 137.84h0M132.26 121.08h0M146.83 132.86h0M168.95 119.6h0M158.75 106.55h0M183.52 76.7h0M128.45 98.28h0M173.65 69.44h0M176.91 122.98h0M168.97 69.9h0M164.47 83.91h0M159.55 135.54h0M174.01 150.58h0M132.7 107.7h0M176.8 118.05h0M139.84 144.87h0M185.74 77.2h0M148.52 124.54h0M170.98 143.5h0M177.56 126.82h0M164.26 127.8h0M169.45 98.63h0M136.24 144.54h0M155.65 75.15h0M175.43 93.02h0M159.24 152.76h0M150.29 143.07h0M145.79 109.28h0M186.97 92.45h0M128.85 100.22h0M171.92 109.29h0M152.6 86.84h0M170.68 132.22h0M175.78 120.4h0M134.66 74.33h0M163.82 76.9h0M138.51 137.31h0M139.78 148.77h0M158.49 98.93h0M151.13 107.32h0M155.46 124.39h0M138.23 118.74h0M135.7 98.56h0M142.55 111.59h0M188.17 106.24h0M146.4 114.7h0M184.4 116.75h0M134.44 103.15h0M165.68 85.59h0M162.94 108.7h0M175.21 70.47h0M135.97 139.09h0M133.05 128.89h0M189.08 81.82h0M181.36 149.01h0M167.66 85.67h0M157.49 117.71h0M159.54 115.96h0M179.02 147.49h0M142.14 105.13h0M179.84 76.04h0M133.81 136.25h0M128.37 70.76h0M165.53 114.99h0M177.49 110.03h0M170.89 63.89h0M176.18 83.48h0M166.49 112.9h0M189.9 93.46h0M125.36 61.9h0M153.8 92.29h0M158.41 67.27h0M165.95 71.49h0M163.21 82.76h0M163.22 135.31h0M136.95 127.79h0M157 104.67h0M130.01 85.57h0M154.83 81.19h0M159.25 87.6h0M136.47 143.08h0M156.35 140.72h0M137.68 141.37h0M183.99 132.14h0M185.92 116.55h0M146.86 126.37h0M128.61 125.6h0M182.77 134.33h0M184.79 125.53h0M185.19 123.23h0M183.83 121.94h0M165.28 121h0M165.93 91.93h0M136.07 152.54h0M140.63 122.51h0M141.79 151.4h0M145.79 103.91h0M141.28 143.81h0M145.48 105.76h0M129.61 144.53h0M137.33 127.84h0M168.76 131.65h0M172.66 120.38h0M129.51 85.53h0M139.22 138.87h0M142.65 103.28h0M127.98 70.53h0M154.24 142.25h0M167.73 108.06h0M131.87 72.66h0M184.04 121.77h0M171.35 125.18h0M150.51 101.16h0M169.07 149.26h0M134.63 123.12h0M142.41 136.54h0M136.91 81.13h0M139.42 121.63h0M146.17 114.46h0M184.55 123.07h0M167.96 102.28h0M162.68 104.49h0M192 98.4h0M177.79 150.07h0M136.69 102.96h0M130.39 101.97h0M130.12 157.11h0M139.46 149.64h0M185.16 72.39h0M169.58 69.19h0M177.2 131.19h0M169.46 149.34h0M158.66 94.78h0M142.18 155.53h0M168.52 90.83h0M131.34 133.59h0M168.8 87.4h0M130.82 116.47h0M168.29 110.76h0M127.36 67.81h0M154.14 100.45h0M174.33 137.81h0M168.35 126.51h0M156.3 82.54h0M172.73 149.96h0M187.33 79.95h0M166.09 89.34h0M135.63 78.2h0M172.84 145.38h0M182.5 85.26h0M130.99 145.6h0M157.27 108.9h0M132.74 152.11h0M187.75 75.56h0M164.44 92.58h0M184.09 80.68h0M133.44 115.82h0M129.67 113.9h0M132.62 112.21h0M144.64 129.27h0M145.73 136.52h0M171.19 139.22h0M136.29 130.72h0M150.04 121.52h0M132.85 109.93h0M164.1 91.35h0M136.22 131.16h0M134.99 137.28h0M192.85 88.03h0M143.88 136.26h0M130.75 127.61h0M164.33 92.92h0M135.54 149.2h0M150.27 139.65h0M168.2 133.73h0M140.99 119.25h0M153.9 83.34h0M176.4 108.44h0M142.05 122.22h0M140.26 69.9h0M175.02 104.73h0M166.57 106.24h0M169.79 77.63h0M176.75 138.05h0M173.8 71.94h0M155.38 92.9h0M180.47 104.48h0M134.13 131.85h0M128.46 152.19h0M160.75 87.93h0M161.74 132.44h0M146.57 74.36h0M133.17 155.65h0M154.61 74.8h0M135.94 66.33h0M156.55 136.84h0M192.03 95.54h0M191.57 88.86h0M175.08 108.73h0M177.54 105.9h0M128.63 61.09h0M161.63 78.5h0M154.73 118.09h0M149.92 112.35h0M170.24 148.02h0M157.29 101.18h0M177.19 152.37h0M177.33 85.69h0M140.75 111.93h0M165.22 136.96h0M169.74 137.92h0M149.27 90.45h0M133.61 145.78h0M174.06 92.64h0M166.42 107.4h0M133.69 81.14h0M138.8 123.57h0M150.59 107.43h0M184.15 140.08h0M126.67 146.65h0M184.62 114.83h0M139.86 152.38h0M125.85 70.09h0M158.48 68.91h0M145.63 152.47h0M169.85 74.02h0M183.9 83.62h0M141.34 110.05h0M182.83 147.12h0M164.15 148.59h0M134.87 141.6h0M178.31 81.14h0M178.51 63.37h0M143.09 69.65h0M138.99 106.05h0M144.63 131.99h0M163.92 109.18h0M182.93 85.7h0M129.14 148.07h0M139.88 73.63h0M133.12 145.58h0M159.1 92.02h0M193.74 86.15h0M150.84 95.07h0M181.79 134.39h0M150.87 95.58h0M175.12 85.77h0M171.56 102h0M154.15 140.42h0M159.1 141.6h0M164.02 125.71h0M181.76 133.17h0M127.65 135.97h0M137.97 108.48h0M133.11 92.22h0M141.55 70.64h0M160.86 83.62h0M139.62 131.07h0M189.53 98.47h0M143.08 113.14h0M178.82 135.84h0M149.56 77.18h0M134.51 99.84h0M159.25 112.54h0M133.1 109.04h0M142.67 99.26h0M183.14 65.6h0M162.21 89.92h0M182.27 142.69h0M139 112.72h0M167.27 97.8h0M153.22 75.84h0M163.74 102.44h0M137.05 142.92h0M141.41 141.33h0M183.5 90.45h0M129.1 72.77h0M159.9 71.71h0M135.21 71.12h0M152.49 130.17h0M178.7 80.4h0M137.25 148.11h0M164.23 130.65h0M157.55 91.44h0M166.55 103.66h0M180.1 104.64h0M152.24 83.57h0M180.55 146.51h0M145.67 142.23h0M150.68 153.94h0M174.04 118.96h0M147.02 77.16h0M149.86 97.71h0M187.83 99.35h0M160.42 90.61h0M127.3 78.18h0M154.26 114.05h0M133.52 72.95h0M131.8 87.41h0M131.47 91.87h0M130.92 157.71h0M178.35 92.58h0M183.87 72.78h0M174.11 108.78h0M162.46 105.56h0M126.14 152.29h0M168.31 114.49h0M172.16 63.17h0M131.85 121.1h0M157.82 131.49h0M173.95 147.41h0M129.86 111.74h0M167.55 97.68h0M147.53 133.88h0M172.6 137.39h0M135.08 138.91h0M132.85 69.15h0M171.99 64.81h0M180.82 120.46h0M133.2 131.89h0M127.11 133.98h0M131.82 86.94h0M157.42 115.37h0M137.97 153.28h0M152.39 125.96h0M149.06 148.52h0M172.05 91.54h0" stroke="#ef7b8f" stroke-width="2.8" stroke-linecap="round" fill="none"/>
<path d="M100.04 36.62h0M97.87 34.97h0M100.36 29.65h0M99.36 35.98h0M100.48 29.64h0M101.41 35.78h0M97.33 34.89h0M100.64 30.26h0M100.4 37.45h0M98.83 37.16h0M98.51 36.1h0M99.7 33.9h0M101.58 31.3h0M98.19 32.26h0M100.89 29.87h0M97.86 32.52h0M99.6 33.94h0M99.56 33.96h0M100.48 32.65h0M99.77 34.33h0M99.95 33.24h0M98.39 31.03h0M98.65 35.88h0M98.15 33.81h0M100.42 34.77h0M98.96 33.29h0M100.97 36.59h0M98.28 30.7h0M102.05 33.39h0M97.63 31.14h0M84.59 41.49h0M84.57 44.39h0M85 41.02h0M93.04 40.76h0M92.04 40.43h0M85.9 40.13h0M83.83 41.88h0M89.62 40.34h0M91.07 40.81h0M88.52 41.74h0M88.21 40.25h0M86.37 42.05h0M83.94 43.46h0M87.33 40.79h0M86.7 40.61h0M83.81 42.97h0M93.39 40.04h0M93.35 40.7h0M85.11 43.44h0M84.42 43.45h0M87.28 41.19h0M87.26 39.36h0M94.89 45.17h0M89.95 57.14h0M95.51 49.25h0M94.53 46.7h0M91.03 53.9h0M93.27 48.4h0M94.34 49.58h0M94.24 50.69h0M92.34 50.97h0M92.7 49.56h0M95.09 47.13h0M94.17 48.29h0M92.13 51.4h0M94.67 46.92h0M97.65 47.1h0M93.33 51.72h0M99 40.6h0M103.4 43.4h0M102.2 47.8h0M99 50.2h0M95.5 42.5h0" stroke="#6aaee0" stroke-width="2.8" stroke-linecap="round" fill="none"/>
<path d="M84.6 49h0M94.2 43.4h0M91 58.6h0M88.6 62.2h0M78.6 64.6h0M123.8 78.9h0M123.8 85.2h0M112.6 90h0M121.8 92h0M124.5 96h0M122.5 113.1h0M123.1 123.7h0M112.6 127h0M127.7 150.6h0M118.5 153.9h0M119.2 155.8h0M192.1 83.9h0M109 100h0M115 104h0M118 108h0M120 119h0M117 125h0" stroke="#4f9a0c" stroke-width="2.8" stroke-linecap="round" fill="none"/>
<path d="M102.6 40.4h0M107.2 81.3h0M111.1 95.2h0M110.3 108.5h0M117.9 116.1h0M72 120.9h0M95 136.5h0M96.7 76.2h0" stroke="#ef7b8f" stroke-width="2.8" stroke-linecap="round" fill="none"/>
<text x="160.6" y="112" font-size="6" text-anchor="middle" fill="#111">0</text>
<text x="74.5" y="106.7" font-size="6" text-anchor="middle" fill="#111">1</text>
<text x="95" y="41.7" font-size="6" text-anchor="middle" fill="#111">2</text>
<circle cx="213" cy="87.5" r="2.1" fill="#ef7b8f"/>
<text x="220" y="89.95" font-size="6.9" fill="#3a3a3a">0</text>
<circle cx="213" cy="95.15" r="2.1" fill="#4f9a0c"/>
<text x="220" y="97.6" font-size="6.9" fill="#3a3a3a">1</text>
<circle cx="213" cy="102.8" r="2.1" fill="#6aaee0"/>
<text x="220" y="105.25" font-size="6.9" fill="#3a3a3a">2</text>
<line x1="36.6" y1="163.6" x2="36.6" y2="131" stroke="#000" stroke-width="1.3"/>
<line x1="36" y1="163" x2="70" y2="163" stroke="#000" stroke-width="1.3"/>
<path d="M36.6 124.6 L32.9 133.4 L36.6 131.4 L40.3 133.4Z" fill="#000"/>
<path d="M77 163 L68.2 159.3 L70.2 163 L68.2 166.7Z" fill="#000"/>
<text transform="translate(31.9,147.7) rotate(-90)" font-size="6.5" text-anchor="middle" fill="#222">UMAP 2</text>
<text x="52.4" y="173" font-size="6.5" text-anchor="middle" fill="#222">UMAP 1</text>
<rect x="283.2" y="34.3" width="113.1" height="126.6" fill="#fff"/>
<line x1="283.2" y1="141.38" x2="396.3" y2="141.38" stroke="#f2f2f2" stroke-width="0.3"/>
<line x1="283.2" y1="112.53" x2="396.3" y2="112.53" stroke="#f2f2f2" stroke-width="0.3"/>
<line x1="283.2" y1="83.68" x2="396.3" y2="83.68" stroke="#f2f2f2" stroke-width="0.3"/>
<line x1="283.2" y1="54.83" x2="396.3" y2="54.83" stroke="#f2f2f2" stroke-width="0.3"/>
<line x1="283.2" y1="155.8" x2="396.3" y2="155.8" stroke="#e8e8e8" stroke-width="0.5"/>
<line x1="283.2" y1="126.95" x2="396.3" y2="126.95" stroke="#e8e8e8" stroke-width="0.5"/>
<line x1="283.2" y1="98.1" x2="396.3" y2="98.1" stroke="#e8e8e8" stroke-width="0.5"/>
<line x1="283.2" y1="69.25" x2="396.3" y2="69.25" stroke="#e8e8e8" stroke-width="0.5"/>
<line x1="283.2" y1="40.4" x2="396.3" y2="40.4" stroke="#e8e8e8" stroke-width="0.5"/>
<line x1="314.3" y1="34.3" x2="314.3" y2="160.9" stroke="#e8e8e8" stroke-width="0.5"/>
<line x1="365.5" y1="34.3" x2="365.5" y2="160.9" stroke="#e8e8e8" stroke-width="0.5"/>
<rect x="291" y="149.45" width="46" height="6.35" fill="#00a087"/>
<rect x="291" y="42.94" width="46" height="106.51" fill="#4dbbd5"/>
<rect x="291" y="40.4" width="46" height="2.54" fill="#e64b35"/>
<rect x="342.4" y="152.92" width="46.1" height="2.88" fill="#00a087"/>
<rect x="342.4" y="144.49" width="46.1" height="8.42" fill="#4dbbd5"/>
<rect x="342.4" y="40.4" width="46.1" height="104.09" fill="#e64b35"/>
<rect x="283.2" y="34.3" width="113.1" height="126.6" fill="none" stroke="#8c8c8c" stroke-width="0.75"/>
<text x="283.7" y="32" font-size="4.6" textLength="28" lengthAdjust="spacingAndGlyphs">cell proportion</text>
<text x="278.2" y="41.6" font-size="3.4" text-anchor="end" fill="#4d4d4d">1.00</text>
<line x1="279" y1="40.4" x2="283.2" y2="40.4" stroke="#333" stroke-width="0.55"/>
<text x="278.2" y="70.45" font-size="3.4" text-anchor="end" fill="#4d4d4d">0.75</text>
<line x1="279" y1="69.25" x2="283.2" y2="69.25" stroke="#333" stroke-width="0.55"/>
<text x="278.2" y="99.3" font-size="3.4" text-anchor="end" fill="#4d4d4d">0.50</text>
<line x1="279" y1="98.1" x2="283.2" y2="98.1" stroke="#333" stroke-width="0.55"/>
<text x="278.2" y="128.15" font-size="3.4" text-anchor="end" fill="#4d4d4d">0.25</text>
<line x1="279" y1="126.95" x2="283.2" y2="126.95" stroke="#333" stroke-width="0.55"/>
<text x="278.2" y="157" font-size="3.4" text-anchor="end" fill="#4d4d4d">0.00</text>
<line x1="279" y1="155.8" x2="283.2" y2="155.8" stroke="#333" stroke-width="0.55"/>
<line x1="314.3" y1="160.9" x2="314.3" y2="163.4" stroke="#333" stroke-width="0.55"/>
<text x="314.3" y="169.6" font-size="3.4" text-anchor="middle" fill="#4d4d4d">Control</text>
<line x1="365.5" y1="160.9" x2="365.5" y2="163.4" stroke="#333" stroke-width="0.55"/>
<text x="365.5" y="169.6" font-size="3.4" text-anchor="middle" fill="#4d4d4d">NEC</text>
<text x="339.7" y="174" font-size="3.6" text-anchor="middle" font-weight="bold" fill="#111">Group</text>
<text transform="translate(269.8,97.5) rotate(-90)" font-size="4.1" text-anchor="middle" fill="#111">Proportion</text>
<rect x="402" y="90.2" width="6" height="5.9" fill="#e64b35"/>
<text x="410.8" y="94.2" font-size="3" fill="#4d4d4d">0</text>
<rect x="402" y="96.1" width="6" height="5.9" fill="#4dbbd5"/>
<text x="410.8" y="100.1" font-size="3" fill="#4d4d4d">1</text>
<rect x="402" y="102" width="6" height="5.9" fill="#00a087"/>
<text x="410.8" y="106" font-size="3" fill="#4d4d4d">2</text>
<line x1="468.4" y1="33.4" x2="671.8" y2="33.4" stroke="#9a9a9a" stroke-width="0.6"/>
<path d="M468.4 55.3 L468.83 55.28 L469.26 55.26 L469.69 55.22 L470.12 55.17 L470.55 55.12 L470.98 55.06 L471.41 54.99 L471.84 54.92 L472.27 54.85 L472.71 54.77 L473.14 54.66 L473.57 54.55 L474 54.42 L474.43 54.28 L474.86 54.14 L475.29 53.98 L475.72 53.82 L476.15 53.65 L476.58 53.47 L477.01 53.3 L477.44 53.11 L477.87 52.91 L478.3 52.7 L478.73 52.48 L479.16 52.25 L479.59 52 L480.02 51.73 L480.45 51.45 L480.88 51.15 L481.32 50.84 L481.75 50.51 L482.18 50.15 L482.61 49.74 L483.04 49.28 L483.47 48.78 L483.9 48.24 L484.33 47.67 L484.76 47.08 L485.19 46.47 L485.62 45.85 L486.05 45.23 L486.48 44.47 L486.91 43.56 L487.34 42.6 L487.77 41.7 L488.2 40.95 L488.63 40.45 L489.06 40.3 L489.49 40.5 L489.93 40.93 L490.36 41.55 L490.79 42.28 L491.22 43.36 L491.65 45.04 L492.08 47.17 L492.51 49.58 L492.94 52.18 L493.37 55.48 L493.8 59.3 L493.8 59.3 L493.37 63.12 L492.94 66.42 L492.51 69.02 L492.08 71.43 L491.65 73.56 L491.22 75.24 L490.79 76.32 L490.36 77.05 L489.93 77.67 L489.49 78.1 L489.06 78.3 L488.63 78.15 L488.2 77.65 L487.77 76.9 L487.34 76 L486.91 75.04 L486.48 74.13 L486.05 73.37 L485.62 72.75 L485.19 72.13 L484.76 71.52 L484.33 70.93 L483.9 70.36 L483.47 69.82 L483.04 69.32 L482.61 68.86 L482.18 68.45 L481.75 68.09 L481.32 67.76 L480.88 67.45 L480.45 67.15 L480.02 66.87 L479.59 66.6 L479.16 66.35 L478.73 66.12 L478.3 65.9 L477.87 65.69 L477.44 65.49 L477.01 65.3 L476.58 65.13 L476.15 64.95 L475.72 64.78 L475.29 64.62 L474.86 64.46 L474.43 64.32 L474 64.18 L473.57 64.05 L473.14 63.94 L472.71 63.83 L472.27 63.75 L471.84 63.68 L471.41 63.61 L470.98 63.54 L470.55 63.48 L470.12 63.43 L469.69 63.38 L469.26 63.34 L468.83 63.32 L468.4 63.3Z" fill="#e64b35" stroke="#333" stroke-width="0.35" stroke-linejoin="round"/>
<path d="M468.4 82.2 L468.77 82.85 L469.14 83.5 L469.51 84.13 L469.88 84.75 L470.25 85.35 L470.62 85.95 L470.99 86.55 L471.36 87.15 L471.73 87.74 L472.09 88.3 L472.46 88.83 L472.83 89.32 L473.2 89.78 L473.57 90.25 L473.94 90.73 L474.31 91.21 L474.68 91.67 L475.05 92.12 L475.42 92.53 L475.79 92.91 L476.16 93.24 L476.53 93.52 L476.9 93.73 L477.27 93.87 L477.64 93.94 L478.01 94 L478.38 94.06 L478.75 94.1 L479.12 94.14 L479.48 94.18 L479.85 94.21 L480.22 94.23 L480.59 94.26 L480.96 94.28 L481.33 94.3 L481.7 94.32 L482.07 94.35 L482.44 94.37 L482.81 94.4 L483.18 94.44 L483.55 94.48 L483.92 94.53 L484.29 94.58 L484.66 94.65 L485.03 94.72 L485.4 94.81 L485.77 94.91 L486.14 95.04 L486.51 95.18 L486.87 95.34 L487.24 95.52 L487.61 95.73 L487.98 96.02 L488.35 96.4 L488.72 96.89 L489.09 97.5 L489.46 98.25 L489.83 99.68 L490.2 101.6 L490.2 101.6 L489.83 103.52 L489.46 104.95 L489.09 105.7 L488.72 106.31 L488.35 106.8 L487.98 107.18 L487.61 107.47 L487.24 107.68 L486.87 107.86 L486.51 108.02 L486.14 108.16 L485.77 108.29 L485.4 108.39 L485.03 108.48 L484.66 108.55 L484.29 108.62 L483.92 108.67 L483.55 108.72 L483.18 108.76 L482.81 108.8 L482.44 108.83 L482.07 108.85 L481.7 108.88 L481.33 108.9 L480.96 108.92 L480.59 108.94 L480.22 108.97 L479.85 108.99 L479.48 109.02 L479.12 109.06 L478.75 109.1 L478.38 109.14 L478.01 109.2 L477.64 109.26 L477.27 109.33 L476.9 109.47 L476.53 109.68 L476.16 109.96 L475.79 110.29 L475.42 110.67 L475.05 111.08 L474.68 111.53 L474.31 111.99 L473.94 112.47 L473.57 112.95 L473.2 113.42 L472.83 113.88 L472.46 114.37 L472.09 114.9 L471.73 115.46 L471.36 116.05 L470.99 116.65 L470.62 117.25 L470.25 117.85 L469.88 118.45 L469.51 119.07 L469.14 119.7 L468.77 120.35 L468.4 121Z" fill="#e64b35" stroke="#333" stroke-width="0.35" stroke-linejoin="round"/>
<path d="M468.4 121.9 L468.79 132.4 L469.18 137.83 L469.56 140.37 L469.95 140.48 L470.34 140.54 L470.73 140.58 L471.12 140.6 L471.51 140.63 L471.89 140.65 L472.28 140.69 L472.67 140.74 L473.06 140.79 L473.45 140.85 L473.83 140.91 L474.22 140.97 L474.61 141.04 L475 141.11 L475.39 141.19 L475.77 141.27 L476.16 141.35 L476.55 141.43 L476.94 141.54 L477.33 141.65 L477.72 141.78 L478.1 141.91 L478.49 142.05 L478.88 142.18 L479.27 142.31 L479.66 142.42 L480.04 142.52 L480.43 142.61 L480.82 142.68 L481.21 142.74 L481.6 142.81 L481.98 142.87 L482.37 142.92 L482.76 142.97 L483.15 143.02 L483.54 143.07 L483.93 143.12 L484.31 143.16 L484.7 143.21 L485.09 143.25 L485.48 143.3 L485.87 143.34 L486.25 143.38 L486.64 143.43 L487.03 143.47 L487.42 143.51 L487.81 143.56 L488.19 143.6 L488.58 143.64 L488.97 143.68 L489.36 143.72 L489.75 143.76 L490.14 143.79 L490.52 143.83 L490.91 143.87 L491.3 143.9 L491.3 143.9 L490.91 143.93 L490.52 143.97 L490.14 144.01 L489.75 144.04 L489.36 144.08 L488.97 144.12 L488.58 144.16 L488.19 144.2 L487.81 144.24 L487.42 144.29 L487.03 144.33 L486.64 144.37 L486.25 144.42 L485.87 144.46 L485.48 144.5 L485.09 144.55 L484.7 144.59 L484.31 144.64 L483.93 144.68 L483.54 144.73 L483.15 144.78 L482.76 144.83 L482.37 144.88 L481.98 144.93 L481.6 144.99 L481.21 145.06 L480.82 145.12 L480.43 145.19 L480.04 145.28 L479.66 145.38 L479.27 145.49 L478.88 145.62 L478.49 145.75 L478.1 145.89 L477.72 146.02 L477.33 146.15 L476.94 146.26 L476.55 146.37 L476.16 146.45 L475.77 146.53 L475.39 146.61 L475 146.69 L474.61 146.76 L474.22 146.83 L473.83 146.89 L473.45 146.95 L473.06 147.01 L472.67 147.06 L472.28 147.11 L471.89 147.15 L471.51 147.17 L471.12 147.2 L470.73 147.22 L470.34 147.26 L469.95 147.32 L469.56 147.43 L469.18 149.97 L468.79 155.4 L468.4 165.9Z" fill="#e64b35" stroke="#333" stroke-width="0.35" stroke-linejoin="round"/>
<text transform="translate(481.7,22.2) rotate(90)" font-size="6.6" text-anchor="middle" font-weight="bold" fill="#111" textLength="13.4" lengthAdjust="spacingAndGlyphs" dominant-baseline="central">IL1B</text>
<path d="M494.2 48.3 L494.63 48.85 L495.05 49.31 L495.48 49.64 L495.91 49.79 L496.34 49.78 L496.76 49.7 L497.19 49.59 L497.62 49.44 L498.04 49.28 L498.47 49.06 L498.9 48.74 L499.33 48.34 L499.75 47.89 L500.18 47.4 L500.61 46.89 L501.03 46.38 L501.46 45.88 L501.89 45.41 L502.32 44.97 L502.74 44.46 L503.17 43.92 L503.6 43.36 L504.02 42.79 L504.45 42.24 L504.88 41.72 L505.31 41.25 L505.73 40.86 L506.16 40.56 L506.59 40.37 L507.01 40.3 L507.44 40.36 L507.87 40.51 L508.29 40.74 L508.72 41.05 L509.15 41.41 L509.58 41.81 L510 42.24 L510.43 42.7 L510.86 43.15 L511.28 43.62 L511.71 44.2 L512.14 44.86 L512.57 45.59 L512.99 46.38 L513.42 47.2 L513.85 48.05 L514.27 48.9 L514.7 49.73 L515.13 50.54 L515.56 51.36 L515.98 52.19 L516.41 53.04 L516.84 53.91 L517.26 54.78 L517.69 55.66 L518.12 56.55 L518.55 57.45 L518.97 58.37 L519.4 59.3 L519.4 59.3 L518.97 60.23 L518.55 61.15 L518.12 62.05 L517.69 62.94 L517.26 63.82 L516.84 64.69 L516.41 65.56 L515.98 66.41 L515.56 67.24 L515.13 68.06 L514.7 68.87 L514.27 69.7 L513.85 70.55 L513.42 71.4 L512.99 72.22 L512.57 73.01 L512.14 73.74 L511.71 74.4 L511.28 74.98 L510.86 75.45 L510.43 75.9 L510 76.36 L509.58 76.79 L509.15 77.19 L508.72 77.55 L508.29 77.86 L507.87 78.09 L507.44 78.24 L507.01 78.3 L506.59 78.23 L506.16 78.04 L505.73 77.74 L505.31 77.35 L504.88 76.88 L504.45 76.36 L504.02 75.81 L503.6 75.24 L503.17 74.68 L502.74 74.14 L502.32 73.63 L501.89 73.19 L501.46 72.72 L501.03 72.22 L500.61 71.71 L500.18 71.2 L499.75 70.71 L499.33 70.26 L498.9 69.86 L498.47 69.54 L498.04 69.32 L497.62 69.16 L497.19 69.01 L496.76 68.9 L496.34 68.82 L495.91 68.81 L495.48 68.96 L495.05 69.29 L494.63 69.75 L494.2 70.3Z" fill="#4dbbd5" stroke="#333" stroke-width="0.35" stroke-linejoin="round"/>
<path d="M494.2 83 L494.49 84.67 L494.78 86.26 L495.06 87.75 L495.35 89.13 L495.64 90.36 L495.93 91.5 L496.22 92.61 L496.51 93.67 L496.79 94.64 L497.08 95.49 L497.37 96.18 L497.66 96.69 L497.95 97.1 L498.23 97.48 L498.52 97.82 L498.81 98.12 L499.1 98.4 L499.39 98.63 L499.67 98.83 L499.96 98.99 L500.25 99.12 L500.54 99.23 L500.83 99.34 L501.12 99.44 L501.4 99.53 L501.69 99.61 L501.98 99.68 L502.27 99.74 L502.56 99.78 L502.84 99.8 L503.13 99.8 L503.42 99.8 L503.71 99.8 L504 99.8 L504.28 99.8 L504.57 99.8 L504.86 99.8 L505.15 99.8 L505.44 99.8 L505.73 99.8 L506.01 99.8 L506.3 99.8 L506.59 99.76 L506.88 99.69 L507.17 99.6 L507.45 99.5 L507.74 99.41 L508.03 99.34 L508.32 99.3 L508.61 99.3 L508.89 99.31 L509.18 99.33 L509.47 99.35 L509.76 99.39 L510.05 99.44 L510.34 99.5 L510.62 99.58 L510.91 100.15 L511.2 101.6 L511.2 101.6 L510.91 103.05 L510.62 103.62 L510.34 103.7 L510.05 103.76 L509.76 103.81 L509.47 103.85 L509.18 103.87 L508.89 103.89 L508.61 103.9 L508.32 103.9 L508.03 103.86 L507.74 103.79 L507.45 103.7 L507.17 103.6 L506.88 103.51 L506.59 103.44 L506.3 103.4 L506.01 103.4 L505.73 103.4 L505.44 103.4 L505.15 103.4 L504.86 103.4 L504.57 103.4 L504.28 103.4 L504 103.4 L503.71 103.4 L503.42 103.4 L503.13 103.4 L502.84 103.4 L502.56 103.42 L502.27 103.46 L501.98 103.52 L501.69 103.59 L501.4 103.67 L501.12 103.76 L500.83 103.86 L500.54 103.97 L500.25 104.08 L499.96 104.21 L499.67 104.37 L499.39 104.57 L499.1 104.8 L498.81 105.08 L498.52 105.38 L498.23 105.72 L497.95 106.1 L497.66 106.51 L497.37 107.02 L497.08 107.71 L496.79 108.56 L496.51 109.53 L496.22 110.59 L495.93 111.7 L495.64 112.84 L495.35 114.07 L495.06 115.45 L494.78 116.94 L494.49 118.53 L494.2 120.2Z" fill="#4dbbd5" stroke="#333" stroke-width="0.35" stroke-linejoin="round"/>
<line x1="494.2" y1="143.9" x2="514" y2="143.9" stroke="#444" stroke-width="0.45"/>
<text transform="translate(507.3,22.2) rotate(90)" font-size="6.6" text-anchor="middle" font-weight="bold" fill="#111" textLength="15.3" lengthAdjust="spacingAndGlyphs" dominant-baseline="central">CCL3</text>
<path d="M519.6 40.7 L520.01 42.78 L520.42 44.69 L520.83 46.37 L521.24 47.74 L521.65 49.01 L522.06 50.2 L522.47 51.24 L522.88 52.09 L523.29 52.69 L523.7 53.07 L524.11 53.41 L524.52 53.71 L524.93 53.99 L525.34 54.22 L525.75 54.41 L526.16 54.56 L526.57 54.66 L526.98 54.7 L527.39 54.71 L527.8 54.72 L528.21 54.73 L528.62 54.74 L529.03 54.74 L529.44 54.75 L529.85 54.75 L530.26 54.76 L530.67 54.76 L531.08 54.76 L531.49 54.77 L531.91 54.77 L532.32 54.78 L532.73 54.79 L533.14 54.8 L533.55 54.83 L533.96 54.86 L534.37 54.9 L534.78 54.95 L535.19 55.01 L535.6 55.08 L536.01 55.15 L536.42 55.24 L536.83 55.33 L537.24 55.42 L537.65 55.53 L538.06 55.64 L538.47 55.75 L538.88 55.86 L539.29 56 L539.7 56.16 L540.11 56.37 L540.52 56.6 L540.93 56.85 L541.34 57.12 L541.75 57.4 L542.16 57.72 L542.57 58.07 L542.98 58.46 L543.39 58.87 L543.8 59.3 L543.8 59.3 L543.39 59.73 L542.98 60.14 L542.57 60.53 L542.16 60.88 L541.75 61.2 L541.34 61.48 L540.93 61.75 L540.52 62 L540.11 62.23 L539.7 62.44 L539.29 62.6 L538.88 62.74 L538.47 62.85 L538.06 62.96 L537.65 63.07 L537.24 63.18 L536.83 63.27 L536.42 63.36 L536.01 63.45 L535.6 63.52 L535.19 63.59 L534.78 63.65 L534.37 63.7 L533.96 63.74 L533.55 63.77 L533.14 63.8 L532.73 63.81 L532.32 63.82 L531.91 63.83 L531.49 63.83 L531.08 63.84 L530.67 63.84 L530.26 63.84 L529.85 63.85 L529.44 63.85 L529.03 63.86 L528.62 63.86 L528.21 63.87 L527.8 63.88 L527.39 63.89 L526.98 63.9 L526.57 63.94 L526.16 64.04 L525.75 64.19 L525.34 64.38 L524.93 64.61 L524.52 64.89 L524.11 65.19 L523.7 65.53 L523.29 65.91 L522.88 66.51 L522.47 67.36 L522.06 68.4 L521.65 69.59 L521.24 70.86 L520.83 72.23 L520.42 73.91 L520.01 75.82 L519.6 77.9Z" fill="#00a087" stroke="#333" stroke-width="0.35" stroke-linejoin="round"/>
<line x1="519.6" y1="101.6" x2="534.6" y2="101.6" stroke="#444" stroke-width="0.45"/>
<line x1="519.6" y1="143.9" x2="541" y2="143.9" stroke="#444" stroke-width="0.45"/>
<text transform="translate(532.5,22.2) rotate(90)" font-size="6.6" text-anchor="middle" font-weight="bold" fill="#111" textLength="15.3" lengthAdjust="spacingAndGlyphs" dominant-baseline="central">CCL4</text>
<path d="M544.6 40.7 L545.02 44 L545.45 46.93 L545.87 49.31 L546.29 51.03 L546.72 52.56 L547.14 53.86 L547.57 54.82 L547.99 55.3 L548.41 55.46 L548.84 55.6 L549.26 55.72 L549.68 55.82 L550.11 55.91 L550.53 55.98 L550.96 56.05 L551.38 56.1 L551.8 56.15 L552.23 56.2 L552.65 56.25 L553.07 56.29 L553.5 56.34 L553.92 56.4 L554.35 56.46 L554.77 56.53 L555.19 56.6 L555.62 56.67 L556.04 56.74 L556.46 56.81 L556.89 56.88 L557.31 56.95 L557.74 57.01 L558.16 57.08 L558.58 57.15 L559.01 57.21 L559.43 57.28 L559.85 57.35 L560.28 57.41 L560.7 57.48 L561.13 57.55 L561.55 57.62 L561.97 57.69 L562.4 57.76 L562.82 57.84 L563.24 57.91 L563.67 57.99 L564.09 58.06 L564.52 58.14 L564.94 58.22 L565.36 58.29 L565.79 58.37 L566.21 58.45 L566.63 58.53 L567.06 58.61 L567.48 58.69 L567.91 58.77 L568.33 58.85 L568.75 58.93 L569.18 59.02 L569.6 59.1 L569.6 59.5 L569.18 59.58 L568.75 59.67 L568.33 59.75 L567.91 59.83 L567.48 59.91 L567.06 59.99 L566.63 60.07 L566.21 60.15 L565.79 60.23 L565.36 60.31 L564.94 60.38 L564.52 60.46 L564.09 60.54 L563.67 60.61 L563.24 60.69 L562.82 60.76 L562.4 60.84 L561.97 60.91 L561.55 60.98 L561.13 61.05 L560.7 61.12 L560.28 61.19 L559.85 61.25 L559.43 61.32 L559.01 61.39 L558.58 61.45 L558.16 61.52 L557.74 61.59 L557.31 61.65 L556.89 61.72 L556.46 61.79 L556.04 61.86 L555.62 61.93 L555.19 62 L554.77 62.07 L554.35 62.14 L553.92 62.2 L553.5 62.26 L553.07 62.31 L552.65 62.35 L552.23 62.4 L551.8 62.45 L551.38 62.5 L550.96 62.55 L550.53 62.62 L550.11 62.69 L549.68 62.78 L549.26 62.88 L548.84 63 L548.41 63.14 L547.99 63.3 L547.57 63.78 L547.14 64.74 L546.72 66.04 L546.29 67.57 L545.87 69.29 L545.45 71.67 L545.02 74.6 L544.6 77.9Z" fill="#3c5488" stroke="#333" stroke-width="0.35" stroke-linejoin="round"/>
<line x1="544.6" y1="101.6" x2="558" y2="101.6" stroke="#444" stroke-width="0.45"/>
<line x1="544.6" y1="143.9" x2="557.8" y2="143.9" stroke="#444" stroke-width="0.45"/>
<text transform="translate(557.9,22.2) rotate(90)" font-size="6.6" text-anchor="middle" font-weight="bold" fill="#111" textLength="13.4" lengthAdjust="spacingAndGlyphs" dominant-baseline="central">IL1A</text>
<path d="M570.4 40.7 L570.82 42.83 L571.23 44.67 L571.65 46.19 L572.07 47.59 L572.48 48.73 L572.9 49.44 L573.32 49.97 L573.74 50.45 L574.15 50.87 L574.57 51.22 L574.99 51.48 L575.4 51.65 L575.82 51.7 L576.24 51.67 L576.65 51.59 L577.07 51.48 L577.49 51.34 L577.91 51.2 L578.32 51.06 L578.74 50.93 L579.16 50.84 L579.57 50.78 L579.99 50.73 L580.41 50.68 L580.82 50.63 L581.24 50.59 L581.66 50.55 L582.07 50.53 L582.49 50.51 L582.91 50.5 L583.33 50.54 L583.74 50.7 L584.16 50.94 L584.58 51.25 L584.99 51.59 L585.41 51.93 L585.83 52.25 L586.24 52.54 L586.66 52.84 L587.08 53.16 L587.49 53.48 L587.91 53.81 L588.33 54.15 L588.75 54.49 L589.16 54.84 L589.58 55.21 L590 55.6 L590.41 55.99 L590.83 56.39 L591.25 56.76 L591.66 57.12 L592.08 57.44 L592.5 57.74 L592.92 58.03 L593.33 58.31 L593.75 58.58 L594.17 58.84 L594.58 59.08 L595 59.3 L595 59.3 L594.58 59.52 L594.17 59.76 L593.75 60.02 L593.33 60.29 L592.92 60.57 L592.5 60.86 L592.08 61.16 L591.66 61.48 L591.25 61.84 L590.83 62.21 L590.41 62.61 L590 63 L589.58 63.39 L589.16 63.76 L588.75 64.11 L588.33 64.45 L587.91 64.79 L587.49 65.12 L587.08 65.44 L586.66 65.76 L586.24 66.06 L585.83 66.35 L585.41 66.67 L584.99 67.01 L584.58 67.35 L584.16 67.66 L583.74 67.9 L583.33 68.06 L582.91 68.1 L582.49 68.09 L582.07 68.07 L581.66 68.05 L581.24 68.01 L580.82 67.97 L580.41 67.92 L579.99 67.87 L579.57 67.82 L579.16 67.76 L578.74 67.67 L578.32 67.54 L577.91 67.4 L577.49 67.26 L577.07 67.12 L576.65 67.01 L576.24 66.93 L575.82 66.9 L575.4 66.95 L574.99 67.12 L574.57 67.38 L574.15 67.73 L573.74 68.15 L573.32 68.63 L572.9 69.16 L572.48 69.87 L572.07 71.01 L571.65 72.41 L571.23 73.93 L570.82 75.77 L570.4 77.9Z" fill="#f39b7f" stroke="#333" stroke-width="0.35" stroke-linejoin="round"/>
<path d="M570.4 82.2 L570.7 84.73 L571 87.08 L571.29 89.09 L571.59 90.57 L571.89 91.7 L572.19 92.75 L572.49 93.71 L572.79 94.54 L573.08 95.22 L573.38 95.73 L573.68 96.04 L573.98 96.16 L574.28 96.25 L574.58 96.31 L574.87 96.36 L575.17 96.41 L575.47 96.45 L575.77 96.49 L576.07 96.54 L576.37 96.59 L576.66 96.66 L576.96 96.72 L577.26 96.79 L577.56 96.86 L577.86 96.93 L578.16 97 L578.45 97.07 L578.75 97.15 L579.05 97.22 L579.35 97.3 L579.65 97.38 L579.95 97.47 L580.24 97.55 L580.54 97.64 L580.84 97.74 L581.14 97.83 L581.44 97.93 L581.74 98.03 L582.03 98.13 L582.33 98.24 L582.63 98.35 L582.93 98.47 L583.23 98.59 L583.53 98.71 L583.82 98.84 L584.12 98.97 L584.42 99.11 L584.72 99.25 L585.02 99.41 L585.32 99.57 L585.61 99.73 L585.91 99.91 L586.21 100.09 L586.51 100.28 L586.81 100.47 L587.11 100.67 L587.4 100.88 L587.7 101.09 L588 101.3 L588 101.9 L587.7 102.11 L587.4 102.32 L587.11 102.53 L586.81 102.73 L586.51 102.92 L586.21 103.11 L585.91 103.29 L585.61 103.47 L585.32 103.63 L585.02 103.79 L584.72 103.95 L584.42 104.09 L584.12 104.23 L583.82 104.36 L583.53 104.49 L583.23 104.61 L582.93 104.73 L582.63 104.85 L582.33 104.96 L582.03 105.07 L581.74 105.17 L581.44 105.27 L581.14 105.37 L580.84 105.46 L580.54 105.56 L580.24 105.65 L579.95 105.73 L579.65 105.82 L579.35 105.9 L579.05 105.98 L578.75 106.05 L578.45 106.13 L578.16 106.2 L577.86 106.27 L577.56 106.34 L577.26 106.41 L576.96 106.48 L576.66 106.54 L576.37 106.61 L576.07 106.66 L575.77 106.71 L575.47 106.75 L575.17 106.79 L574.87 106.84 L574.58 106.89 L574.28 106.95 L573.98 107.04 L573.68 107.16 L573.38 107.47 L573.08 107.98 L572.79 108.66 L572.49 109.49 L572.19 110.45 L571.89 111.5 L571.59 112.63 L571.29 114.11 L571 116.12 L570.7 118.47 L570.4 121Z" fill="#f39b7f" stroke="#333" stroke-width="0.35" stroke-linejoin="round"/>
<line x1="570.4" y1="143.9" x2="591.4" y2="143.9" stroke="#444" stroke-width="0.45"/>
<path d="M570.4 123.9 L570.6 131.84 L570.81 137.51 L571.01 139.94 L571.21 141.4 L571.42 141.9 L571.62 141.9 L571.82 141.9 L572.03 141.9 L572.23 141.9 L572.43 141.9 L572.64 141.9 L572.84 141.9 L573.04 141.9 L573.25 141.9 L573.45 141.9 L573.65 141.9 L573.86 141.9 L574.06 141.9 L574.26 141.9 L574.47 141.9 L574.67 141.9 L574.87 141.91 L575.08 141.93 L575.28 141.94 L575.48 141.97 L575.69 141.99 L575.89 142.02 L576.09 142.05 L576.3 142.08 L576.5 142.12 L576.71 142.16 L576.91 142.2 L577.11 142.24 L577.32 142.29 L577.52 142.34 L577.72 142.38 L577.93 142.43 L578.13 142.48 L578.33 142.53 L578.54 142.58 L578.74 142.62 L578.94 142.67 L579.15 142.72 L579.35 142.76 L579.55 142.81 L579.76 142.85 L579.96 142.89 L580.16 142.93 L580.37 142.97 L580.57 143.01 L580.77 143.05 L580.98 143.1 L581.18 143.14 L581.38 143.18 L581.59 143.22 L581.79 143.27 L581.99 143.31 L582.2 143.36 L582.4 143.4 L582.4 144.4 L582.2 144.44 L581.99 144.49 L581.79 144.53 L581.59 144.58 L581.38 144.62 L581.18 144.66 L580.98 144.7 L580.77 144.75 L580.57 144.79 L580.37 144.83 L580.16 144.87 L579.96 144.91 L579.76 144.95 L579.55 144.99 L579.35 145.04 L579.15 145.08 L578.94 145.13 L578.74 145.18 L578.54 145.22 L578.33 145.27 L578.13 145.32 L577.93 145.37 L577.72 145.42 L577.52 145.46 L577.32 145.51 L577.11 145.56 L576.91 145.6 L576.71 145.64 L576.5 145.68 L576.3 145.72 L576.09 145.75 L575.89 145.78 L575.69 145.81 L575.48 145.83 L575.28 145.86 L575.08 145.87 L574.87 145.89 L574.67 145.9 L574.47 145.9 L574.26 145.9 L574.06 145.9 L573.86 145.9 L573.65 145.9 L573.45 145.9 L573.25 145.9 L573.04 145.9 L572.84 145.9 L572.64 145.9 L572.43 145.9 L572.23 145.9 L572.03 145.9 L571.82 145.9 L571.62 145.9 L571.42 145.9 L571.21 146.4 L571.01 147.86 L570.81 150.29 L570.6 155.96 L570.4 163.9Z" fill="#f39b7f" stroke="#333" stroke-width="0.35" stroke-linejoin="round"/>
<text transform="translate(583.4,22.2) rotate(90)" font-size="6.6" text-anchor="middle" font-weight="bold" fill="#111" textLength="18.5" lengthAdjust="spacingAndGlyphs" dominant-baseline="central">CXCL2</text>
<path d="M595.6 40.3 L596.03 41.57 L596.46 42.76 L596.89 43.83 L597.32 44.77 L597.75 45.58 L598.18 46.38 L598.61 47.15 L599.04 47.78 L599.47 48.2 L599.91 48.3 L600.34 48.29 L600.77 48.26 L601.2 48.21 L601.63 48.15 L602.06 48.08 L602.49 48 L602.92 47.91 L603.35 47.82 L603.78 47.71 L604.21 47.6 L604.64 47.49 L605.07 47.32 L605.5 47.06 L605.93 46.73 L606.36 46.35 L606.79 45.93 L607.22 45.49 L607.65 45.04 L608.08 44.61 L608.52 44.2 L608.95 43.83 L609.38 43.52 L609.81 43.29 L610.24 43.14 L610.67 43.1 L611.1 43.13 L611.53 43.21 L611.96 43.34 L612.39 43.5 L612.82 43.69 L613.25 43.92 L613.68 44.17 L614.11 44.44 L614.54 44.84 L614.97 45.53 L615.4 46.47 L615.83 47.57 L616.26 48.78 L616.69 50.03 L617.13 51.24 L617.56 52.34 L617.99 53.3 L618.42 54.21 L618.85 55.1 L619.28 55.98 L619.71 56.84 L620.14 57.68 L620.57 58.5 L621 59.3 L621 59.3 L620.57 60.1 L620.14 60.92 L619.71 61.76 L619.28 62.62 L618.85 63.5 L618.42 64.39 L617.99 65.3 L617.56 66.26 L617.13 67.36 L616.69 68.57 L616.26 69.82 L615.83 71.03 L615.4 72.13 L614.97 73.07 L614.54 73.76 L614.11 74.16 L613.68 74.43 L613.25 74.68 L612.82 74.91 L612.39 75.1 L611.96 75.26 L611.53 75.39 L611.1 75.47 L610.67 75.5 L610.24 75.46 L609.81 75.31 L609.38 75.08 L608.95 74.77 L608.52 74.4 L608.08 73.99 L607.65 73.56 L607.22 73.11 L606.79 72.67 L606.36 72.25 L605.93 71.87 L605.5 71.54 L605.07 71.28 L604.64 71.11 L604.21 71 L603.78 70.89 L603.35 70.78 L602.92 70.69 L602.49 70.6 L602.06 70.52 L601.63 70.45 L601.2 70.39 L600.77 70.34 L600.34 70.31 L599.91 70.3 L599.47 70.4 L599.04 70.82 L598.61 71.45 L598.18 72.22 L597.75 73.02 L597.32 73.83 L596.89 74.77 L596.46 75.84 L596.03 77.03 L595.6 78.3Z" fill="#8491b4" stroke="#333" stroke-width="0.35" stroke-linejoin="round"/>
<path d="M595.6 82.6 L595.95 84.03 L596.29 85.42 L596.64 86.72 L596.98 87.9 L597.33 88.93 L597.67 89.77 L598.02 90.53 L598.37 91.25 L598.71 91.94 L599.06 92.59 L599.4 93.19 L599.75 93.74 L600.09 94.23 L600.44 94.66 L600.79 95.01 L601.13 95.29 L601.48 95.5 L601.82 95.7 L602.17 95.88 L602.52 96.05 L602.86 96.2 L603.21 96.34 L603.55 96.45 L603.9 96.53 L604.24 96.58 L604.59 96.6 L604.94 96.59 L605.28 96.57 L605.63 96.53 L605.97 96.48 L606.32 96.43 L606.66 96.37 L607.01 96.31 L607.36 96.26 L607.7 96.2 L608.05 96.16 L608.39 96.13 L608.74 96.11 L609.08 96.1 L609.43 96.11 L609.78 96.13 L610.12 96.16 L610.47 96.19 L610.81 96.24 L611.16 96.3 L611.51 96.36 L611.85 96.43 L612.2 96.5 L612.54 96.59 L612.89 96.68 L613.23 96.82 L613.58 97 L613.93 97.23 L614.27 97.51 L614.62 97.86 L614.96 98.27 L615.31 98.81 L615.65 100.03 L616 101.6 L616 101.6 L615.65 103.17 L615.31 104.39 L614.96 104.93 L614.62 105.34 L614.27 105.69 L613.93 105.97 L613.58 106.2 L613.23 106.38 L612.89 106.52 L612.54 106.61 L612.2 106.7 L611.85 106.77 L611.51 106.84 L611.16 106.9 L610.81 106.96 L610.47 107.01 L610.12 107.04 L609.78 107.07 L609.43 107.09 L609.08 107.1 L608.74 107.09 L608.39 107.07 L608.05 107.04 L607.7 107 L607.36 106.94 L607.01 106.89 L606.66 106.83 L606.32 106.77 L605.97 106.72 L605.63 106.67 L605.28 106.63 L604.94 106.61 L604.59 106.6 L604.24 106.62 L603.9 106.67 L603.55 106.75 L603.21 106.86 L602.86 107 L602.52 107.15 L602.17 107.32 L601.82 107.5 L601.48 107.7 L601.13 107.91 L600.79 108.19 L600.44 108.54 L600.09 108.97 L599.75 109.46 L599.4 110.01 L599.06 110.61 L598.71 111.26 L598.37 111.95 L598.02 112.67 L597.67 113.43 L597.33 114.27 L596.98 115.3 L596.64 116.48 L596.29 117.78 L595.95 119.17 L595.6 120.6Z" fill="#8491b4" stroke="#333" stroke-width="0.35" stroke-linejoin="round"/>
<path d="M595.6 123.9 L595.96 134.08 L596.31 138.63 L596.67 140.44 L597.02 141.27 L597.38 141.3 L597.74 141.29 L598.09 141.28 L598.45 141.26 L598.8 141.24 L599.16 141.21 L599.52 141.19 L599.87 141.16 L600.23 141.13 L600.58 141.1 L600.94 141.07 L601.29 141.03 L601.65 140.98 L602.01 140.93 L602.36 140.87 L602.72 140.81 L603.07 140.75 L603.43 140.69 L603.79 140.62 L604.14 140.56 L604.5 140.49 L604.85 140.43 L605.21 140.36 L605.57 140.31 L605.92 140.25 L606.28 140.18 L606.63 140.11 L606.99 140.04 L607.35 139.96 L607.7 139.89 L608.06 139.82 L608.41 139.76 L608.77 139.7 L609.13 139.66 L609.48 139.62 L609.84 139.6 L610.19 139.6 L610.55 139.67 L610.91 139.81 L611.26 140 L611.62 140.23 L611.97 140.47 L612.33 140.72 L612.68 140.95 L613.04 141.21 L613.4 141.49 L613.75 141.79 L614.11 142.09 L614.46 142.4 L614.82 142.69 L615.18 142.95 L615.53 143.2 L615.89 143.45 L616.24 143.68 L616.6 143.9 L616.6 143.9 L616.24 144.12 L615.89 144.35 L615.53 144.6 L615.18 144.85 L614.82 145.11 L614.46 145.4 L614.11 145.71 L613.75 146.01 L613.4 146.31 L613.04 146.59 L612.68 146.85 L612.33 147.08 L611.97 147.33 L611.62 147.57 L611.26 147.8 L610.91 147.99 L610.55 148.13 L610.19 148.2 L609.84 148.2 L609.48 148.18 L609.13 148.14 L608.77 148.1 L608.41 148.04 L608.06 147.98 L607.7 147.91 L607.35 147.84 L606.99 147.76 L606.63 147.69 L606.28 147.62 L605.92 147.55 L605.57 147.49 L605.21 147.44 L604.85 147.37 L604.5 147.31 L604.14 147.24 L603.79 147.18 L603.43 147.11 L603.07 147.05 L602.72 146.99 L602.36 146.93 L602.01 146.87 L601.65 146.82 L601.29 146.77 L600.94 146.73 L600.58 146.7 L600.23 146.67 L599.87 146.64 L599.52 146.61 L599.16 146.59 L598.8 146.56 L598.45 146.54 L598.09 146.52 L597.74 146.51 L597.38 146.5 L597.02 146.53 L596.67 147.36 L596.31 149.17 L595.96 153.72 L595.6 163.9Z" fill="#8491b4" stroke="#333" stroke-width="0.35" stroke-linejoin="round"/>
<text transform="translate(608.85,22.2) rotate(90)" font-size="6.6" text-anchor="middle" font-weight="bold" fill="#111" textLength="18.5" lengthAdjust="spacingAndGlyphs" dominant-baseline="central">CXCL3</text>
<path d="M621.3 40.3 L621.73 43.78 L622.15 46.9 L622.58 49.38 L623.01 51.04 L623.44 52.48 L623.86 53.75 L624.29 54.79 L624.72 55.52 L625.14 55.88 L625.57 55.98 L626 56.05 L626.43 56.12 L626.85 56.18 L627.28 56.23 L627.71 56.28 L628.13 56.31 L628.56 56.35 L628.99 56.37 L629.42 56.4 L629.84 56.42 L630.27 56.45 L630.7 56.47 L631.12 56.49 L631.55 56.51 L631.98 56.53 L632.41 56.55 L632.83 56.57 L633.26 56.58 L633.69 56.6 L634.11 56.61 L634.54 56.62 L634.97 56.63 L635.39 56.64 L635.82 56.65 L636.25 56.67 L636.68 56.68 L637.1 56.7 L637.53 56.72 L637.96 56.74 L638.38 56.76 L638.81 56.79 L639.24 56.82 L639.67 56.87 L640.09 56.94 L640.52 57.02 L640.95 57.12 L641.37 57.23 L641.8 57.34 L642.23 57.47 L642.66 57.6 L643.08 57.73 L643.51 57.87 L643.94 58.03 L644.36 58.2 L644.79 58.4 L645.22 58.61 L645.65 58.83 L646.07 59.06 L646.5 59.3 L646.5 59.3 L646.07 59.54 L645.65 59.77 L645.22 59.99 L644.79 60.2 L644.36 60.4 L643.94 60.57 L643.51 60.73 L643.08 60.87 L642.66 61 L642.23 61.13 L641.8 61.26 L641.37 61.37 L640.95 61.48 L640.52 61.58 L640.09 61.66 L639.67 61.73 L639.24 61.78 L638.81 61.81 L638.38 61.84 L637.96 61.86 L637.53 61.88 L637.1 61.9 L636.68 61.92 L636.25 61.93 L635.82 61.95 L635.39 61.96 L634.97 61.97 L634.54 61.98 L634.11 61.99 L633.69 62 L633.26 62.02 L632.83 62.03 L632.41 62.05 L631.98 62.07 L631.55 62.09 L631.12 62.11 L630.7 62.13 L630.27 62.15 L629.84 62.18 L629.42 62.2 L628.99 62.23 L628.56 62.25 L628.13 62.29 L627.71 62.32 L627.28 62.37 L626.85 62.42 L626.43 62.48 L626 62.55 L625.57 62.62 L625.14 62.72 L624.72 63.08 L624.29 63.81 L623.86 64.85 L623.44 66.12 L623.01 67.56 L622.58 69.22 L622.15 71.7 L621.73 74.82 L621.3 78.3Z" fill="#91d1c2" stroke="#333" stroke-width="0.35" stroke-linejoin="round"/>
<line x1="621.3" y1="101.6" x2="641" y2="101.6" stroke="#444" stroke-width="0.45"/>
<line x1="621.3" y1="143.9" x2="630.6" y2="143.9" stroke="#444" stroke-width="0.45"/>
<text transform="translate(634.45,22.2) rotate(90)" font-size="6.6" text-anchor="middle" font-weight="bold" fill="#111" textLength="8.6" lengthAdjust="spacingAndGlyphs" dominant-baseline="central">IL6</text>
<path d="M646.8 41.3 L647.21 44.32 L647.63 47.03 L648.04 49.24 L648.45 50.84 L648.87 52.23 L649.28 53.48 L649.69 54.48 L650.11 55.12 L650.52 55.32 L650.94 55.39 L651.35 55.45 L651.76 55.5 L652.18 55.54 L652.59 55.57 L653 55.6 L653.42 55.63 L653.83 55.65 L654.24 55.67 L654.66 55.69 L655.07 55.71 L655.48 55.72 L655.9 55.74 L656.31 55.76 L656.73 55.78 L657.14 55.81 L657.55 55.84 L657.97 55.88 L658.38 55.92 L658.79 55.97 L659.21 56.01 L659.62 56.07 L660.03 56.12 L660.45 56.18 L660.86 56.24 L661.27 56.3 L661.69 56.37 L662.1 56.43 L662.52 56.51 L662.93 56.58 L663.34 56.66 L663.76 56.74 L664.17 56.83 L664.58 56.92 L665 57.01 L665.41 57.1 L665.82 57.21 L666.24 57.32 L666.65 57.44 L667.06 57.58 L667.48 57.72 L667.89 57.87 L668.31 58.03 L668.72 58.19 L669.13 58.37 L669.55 58.54 L669.96 58.73 L670.37 58.91 L670.79 59.11 L671.2 59.3 L671.2 59.3 L670.79 59.49 L670.37 59.69 L669.96 59.87 L669.55 60.06 L669.13 60.23 L668.72 60.41 L668.31 60.57 L667.89 60.73 L667.48 60.88 L667.06 61.02 L666.65 61.16 L666.24 61.28 L665.82 61.39 L665.41 61.5 L665 61.59 L664.58 61.68 L664.17 61.77 L663.76 61.86 L663.34 61.94 L662.93 62.02 L662.52 62.09 L662.1 62.17 L661.69 62.23 L661.27 62.3 L660.86 62.36 L660.45 62.42 L660.03 62.48 L659.62 62.53 L659.21 62.59 L658.79 62.63 L658.38 62.68 L657.97 62.72 L657.55 62.76 L657.14 62.79 L656.73 62.82 L656.31 62.84 L655.9 62.86 L655.48 62.88 L655.07 62.89 L654.66 62.91 L654.24 62.93 L653.83 62.95 L653.42 62.97 L653 63 L652.59 63.03 L652.18 63.06 L651.76 63.1 L651.35 63.15 L650.94 63.21 L650.52 63.28 L650.11 63.48 L649.69 64.12 L649.28 65.12 L648.87 66.37 L648.45 67.76 L648.04 69.36 L647.63 71.57 L647.21 74.28 L646.8 77.3Z" fill="#dc0000" stroke="#333" stroke-width="0.35" stroke-linejoin="round"/>
<line x1="646.8" y1="101.6" x2="668.5" y2="101.6" stroke="#444" stroke-width="0.45"/>
<path d="M646.8 82.6 L647.17 92.27 L647.54 98.18 L647.9 99.87 L648.27 100.72 L648.64 100.82 L649.01 100.84 L649.37 100.87 L649.74 100.89 L650.11 100.91 L650.48 100.93 L650.85 100.95 L651.21 100.97 L651.58 100.99 L651.95 101.01 L652.32 101.03 L652.68 101.05 L653.05 101.06 L653.42 101.08 L653.79 101.09 L654.16 101.11 L654.52 101.12 L654.89 101.13 L655.26 101.15 L655.63 101.16 L655.99 101.17 L656.36 101.18 L656.73 101.19 L657.1 101.2 L657.47 101.21 L657.83 101.21 L658.2 101.22 L658.57 101.23 L658.94 101.24 L659.31 101.24 L659.67 101.25 L660.04 101.25 L660.41 101.26 L660.78 101.26 L661.14 101.27 L661.51 101.27 L661.88 101.28 L662.25 101.28 L662.62 101.28 L662.98 101.29 L663.35 101.29 L663.72 101.29 L664.09 101.29 L664.45 101.29 L664.82 101.29 L665.19 101.3 L665.56 101.3 L665.93 101.3 L666.29 101.3 L666.66 101.3 L667.03 101.3 L667.4 101.3 L667.76 101.3 L668.13 101.3 L668.5 101.3 L668.5 101.9 L668.13 101.9 L667.76 101.9 L667.4 101.9 L667.03 101.9 L666.66 101.9 L666.29 101.9 L665.93 101.9 L665.56 101.9 L665.19 101.9 L664.82 101.91 L664.45 101.91 L664.09 101.91 L663.72 101.91 L663.35 101.91 L662.98 101.91 L662.62 101.92 L662.25 101.92 L661.88 101.92 L661.51 101.93 L661.14 101.93 L660.78 101.94 L660.41 101.94 L660.04 101.95 L659.67 101.95 L659.31 101.96 L658.94 101.96 L658.57 101.97 L658.2 101.98 L657.83 101.99 L657.47 101.99 L657.1 102 L656.73 102.01 L656.36 102.02 L655.99 102.03 L655.63 102.04 L655.26 102.05 L654.89 102.07 L654.52 102.08 L654.16 102.09 L653.79 102.11 L653.42 102.12 L653.05 102.14 L652.68 102.15 L652.32 102.17 L651.95 102.19 L651.58 102.21 L651.21 102.23 L650.85 102.25 L650.48 102.27 L650.11 102.29 L649.74 102.31 L649.37 102.33 L649.01 102.36 L648.64 102.38 L648.27 102.48 L647.9 103.33 L647.54 105.02 L647.17 110.93 L646.8 120.6Z" fill="#dc0000" stroke="#333" stroke-width="0.35" stroke-linejoin="round"/>
<line x1="646.8" y1="143.9" x2="667.4" y2="143.9" stroke="#444" stroke-width="0.45"/>
<text transform="translate(659.7,22.2) rotate(90)" font-size="6.6" text-anchor="middle" font-weight="bold" fill="#111" textLength="18.8" lengthAdjust="spacingAndGlyphs" dominant-baseline="central">CXCL1</text>
<circle cx="650" cy="101.6" r="1.4" fill="#dc0000" stroke="#333" stroke-width="0.25"/>
<circle cx="652" cy="101.6" r="1.2" fill="#dc0000" stroke="#333" stroke-width="0.25"/>
<circle cx="655.6" cy="101.6" r="1.5" fill="#dc0000" stroke="#333" stroke-width="0.25"/>
<circle cx="658.3" cy="101.6" r="0.8" fill="#dc0000" stroke="#333" stroke-width="0.25"/>
<circle cx="661.3" cy="101.6" r="0.7" fill="#dc0000" stroke="#333" stroke-width="0.25"/>
<circle cx="664.3" cy="101.6" r="0.6" fill="#dc0000" stroke="#333" stroke-width="0.25"/>
<line x1="468.4" y1="33.4" x2="468.4" y2="170.2" stroke="#6a6a6a" stroke-width="0.7"/>
<line x1="494.2" y1="33.4" x2="494.2" y2="170.2" stroke="#b8b8b8" stroke-width="1.4"/>
<line x1="519.6" y1="33.4" x2="519.6" y2="170.2" stroke="#6a6a6a" stroke-width="0.7"/>
<line x1="544.6" y1="33.4" x2="544.6" y2="170.2" stroke="#6a6a6a" stroke-width="0.7"/>
<line x1="570.4" y1="33.4" x2="570.4" y2="170.2" stroke="#6a6a6a" stroke-width="0.7"/>
<line x1="595.6" y1="33.4" x2="595.6" y2="170.2" stroke="#6a6a6a" stroke-width="0.7"/>
<line x1="621.3" y1="33.4" x2="621.3" y2="170.2" stroke="#b8b8b8" stroke-width="1.4"/>
<line x1="646.8" y1="33.4" x2="646.8" y2="170.2" stroke="#6a6a6a" stroke-width="0.7"/>
<line x1="671.8" y1="33.4" x2="671.8" y2="170.2" stroke="#b8b8b8" stroke-width="1.4"/>
<line x1="468.4" y1="170.2" x2="671.8" y2="170.2" stroke="#333" stroke-width="0.6"/>
<line x1="468.7" y1="170.2" x2="468.7" y2="171.5" stroke="#333" stroke-width="0.4"/>
<line x1="474.3" y1="170.2" x2="474.3" y2="171.5" stroke="#333" stroke-width="0.4"/>
<line x1="479.9" y1="170.2" x2="479.9" y2="171.5" stroke="#333" stroke-width="0.4"/>
<line x1="485.5" y1="170.2" x2="485.5" y2="171.5" stroke="#333" stroke-width="0.4"/>
<line x1="491.1" y1="170.2" x2="491.1" y2="171.5" stroke="#333" stroke-width="0.4"/>
<line x1="494.5" y1="170.2" x2="494.5" y2="171.5" stroke="#333" stroke-width="0.4"/>
<line x1="500.1" y1="170.2" x2="500.1" y2="171.5" stroke="#333" stroke-width="0.4"/>
<line x1="505.7" y1="170.2" x2="505.7" y2="171.5" stroke="#333" stroke-width="0.4"/>
<line x1="511.3" y1="170.2" x2="511.3" y2="171.5" stroke="#333" stroke-width="0.4"/>
<line x1="516.9" y1="170.2" x2="516.9" y2="171.5" stroke="#333" stroke-width="0.4"/>
<line x1="519.9" y1="170.2" x2="519.9" y2="171.5" stroke="#333" stroke-width="0.4"/>
<line x1="525.5" y1="170.2" x2="525.5" y2="171.5" stroke="#333" stroke-width="0.4"/>
<line x1="531.1" y1="170.2" x2="531.1" y2="171.5" stroke="#333" stroke-width="0.4"/>
<line x1="536.7" y1="170.2" x2="536.7" y2="171.5" stroke="#333" stroke-width="0.4"/>
<line x1="542.3" y1="170.2" x2="542.3" y2="171.5" stroke="#333" stroke-width="0.4"/>
<line x1="544.9" y1="170.2" x2="544.9" y2="171.5" stroke="#333" stroke-width="0.4"/>
<line x1="550.5" y1="170.2" x2="550.5" y2="171.5" stroke="#333" stroke-width="0.4"/>
<line x1="556.1" y1="170.2" x2="556.1" y2="171.5" stroke="#333" stroke-width="0.4"/>
<line x1="561.7" y1="170.2" x2="561.7" y2="171.5" stroke="#333" stroke-width="0.4"/>
<line x1="567.3" y1="170.2" x2="567.3" y2="171.5" stroke="#333" stroke-width="0.4"/>
<line x1="570.7" y1="170.2" x2="570.7" y2="171.5" stroke="#333" stroke-width="0.4"/>
<line x1="576.3" y1="170.2" x2="576.3" y2="171.5" stroke="#333" stroke-width="0.4"/>
<line x1="581.9" y1="170.2" x2="581.9" y2="171.5" stroke="#333" stroke-width="0.4"/>
<line x1="587.5" y1="170.2" x2="587.5" y2="171.5" stroke="#333" stroke-width="0.4"/>
<line x1="593.1" y1="170.2" x2="593.1" y2="171.5" stroke="#333" stroke-width="0.4"/>
<line x1="595.9" y1="170.2" x2="595.9" y2="171.5" stroke="#333" stroke-width="0.4"/>
<line x1="601.5" y1="170.2" x2="601.5" y2="171.5" stroke="#333" stroke-width="0.4"/>
<line x1="607.1" y1="170.2" x2="607.1" y2="171.5" stroke="#333" stroke-width="0.4"/>
<line x1="612.7" y1="170.2" x2="612.7" y2="171.5" stroke="#333" stroke-width="0.4"/>
<line x1="618.3" y1="170.2" x2="618.3" y2="171.5" stroke="#333" stroke-width="0.4"/>
<line x1="621.6" y1="170.2" x2="621.6" y2="171.5" stroke="#333" stroke-width="0.4"/>
<line x1="627.2" y1="170.2" x2="627.2" y2="171.5" stroke="#333" stroke-width="0.4"/>
<line x1="632.8" y1="170.2" x2="632.8" y2="171.5" stroke="#333" stroke-width="0.4"/>
<line x1="638.4" y1="170.2" x2="638.4" y2="171.5" stroke="#333" stroke-width="0.4"/>
<line x1="644" y1="170.2" x2="644" y2="171.5" stroke="#333" stroke-width="0.4"/>
<line x1="647.1" y1="170.2" x2="647.1" y2="171.5" stroke="#333" stroke-width="0.4"/>
<line x1="652.7" y1="170.2" x2="652.7" y2="171.5" stroke="#333" stroke-width="0.4"/>
<line x1="658.3" y1="170.2" x2="658.3" y2="171.5" stroke="#333" stroke-width="0.4"/>
<line x1="663.9" y1="170.2" x2="663.9" y2="171.5" stroke="#333" stroke-width="0.4"/>
<line x1="669.5" y1="170.2" x2="669.5" y2="171.5" stroke="#333" stroke-width="0.4"/>
<text x="490" y="175.8" font-size="3.3" text-anchor="middle" fill="#4d4d4d">6</text>
<text x="514.4" y="175.8" font-size="3.3" text-anchor="middle" fill="#4d4d4d">6</text>
<text x="535.8" y="175.8" font-size="3.3" text-anchor="middle" fill="#4d4d4d">4</text>
<text x="561.6" y="175.8" font-size="3.3" text-anchor="middle" fill="#4d4d4d">3</text>
<text x="587" y="175.8" font-size="3.3" text-anchor="middle" fill="#4d4d4d">4</text>
<text x="617" y="175.8" font-size="3.3" text-anchor="middle" fill="#4d4d4d">5</text>
<text x="642" y="175.8" font-size="3.3" text-anchor="middle" fill="#4d4d4d">4</text>
<text x="668.9" y="175.8" font-size="3.3" text-anchor="middle" fill="#4d4d4d">5</text>
<text x="570.1" y="183.3" font-size="6.8" text-anchor="middle" fill="#111">Expression Level</text>
<text x="464.8" y="61.1" font-size="5" text-anchor="end" fill="#4d4d4d">0</text>
<line x1="466" y1="59.3" x2="468.4" y2="59.3" stroke="#333" stroke-width="0.4"/>
<text x="464.8" y="103.4" font-size="5" text-anchor="end" fill="#4d4d4d">2</text>
<line x1="466" y1="101.6" x2="468.4" y2="101.6" stroke="#333" stroke-width="0.4"/>
<text x="464.8" y="145.7" font-size="5" text-anchor="end" fill="#4d4d4d">1</text>
<line x1="466" y1="143.9" x2="468.4" y2="143.9" stroke="#333" stroke-width="0.4"/>
<text transform="translate(460.4,101.8) rotate(-90)" font-size="6.8" text-anchor="middle" fill="#111">Identity</text>
<line x1="30.5" y1="218.4" x2="30.5" y2="334.35" stroke="#8a8a8a" stroke-width="1.1"/>
<line x1="29.95" y1="333.8" x2="138.9" y2="333.8" stroke="#8a8a8a" stroke-width="1.1"/>
<line x1="28.7" y1="237.2" x2="30.5" y2="237.2" stroke="#444" stroke-width="0.5"/>
<text x="28.3" y="238.78" font-size="4.4" text-anchor="end" fill="#333">40</text>
<line x1="28.7" y1="257.6" x2="30.5" y2="257.6" stroke="#444" stroke-width="0.5"/>
<text x="28.3" y="259.18" font-size="4.4" text-anchor="end" fill="#333">30</text>
<line x1="28.7" y1="278.4" x2="30.5" y2="278.4" stroke="#444" stroke-width="0.5"/>
<text x="28.3" y="279.98" font-size="4.4" text-anchor="end" fill="#333">20</text>
<line x1="28.7" y1="299.1" x2="30.5" y2="299.1" stroke="#444" stroke-width="0.5"/>
<text x="28.3" y="300.68" font-size="4.4" text-anchor="end" fill="#333">10</text>
<line x1="28.7" y1="319.3" x2="30.5" y2="319.3" stroke="#444" stroke-width="0.5"/>
<text x="28.3" y="320.88" font-size="4.4" text-anchor="end" fill="#333">0</text>
<line x1="61.8" y1="333.8" x2="61.8" y2="335.3" stroke="#444" stroke-width="0.5"/>
<text x="61.8" y="339.9" font-size="4.3" text-anchor="middle" fill="#333">Control</text>
<line x1="114.2" y1="333.8" x2="114.2" y2="335.3" stroke="#444" stroke-width="0.5"/>
<text x="114.2" y="339.9" font-size="4.3" text-anchor="middle" fill="#333">NEC</text>
<text transform="translate(21.4,276) rotate(-90)" font-size="4.6" text-anchor="middle" fill="#111" textLength="44.7" lengthAdjust="spacingAndGlyphs">Proinflammatory Score</text>
<defs><linearGradient id="vf1" gradientUnits="userSpaceOnUse" x1="0" y1="275" x2="0" y2="302"><stop offset="0" stop-color="#f98b3a" stop-opacity="0.5"/><stop offset="1" stop-color="#f98b3a"/></linearGradient></defs>
<path d="M61.2 264.1 L61.2 265.06 L61.2 266.02 L61.2 266.98 L61.2 267.94 L61.2 268.91 L61.2 269.87 L61.2 270.83 L61.2 271.79 L61.2 272.75 L61.19 273.71 L61.19 274.67 L61.19 275.63 L61.19 276.59 L61.19 277.55 L61.19 278.52 L61.18 279.48 L61.18 280.44 L61.18 281.4 L61.17 282.36 L61.17 283.32 L61.17 284.28 L61.16 285.24 L61.16 286.2 L61.15 287.16 L61.14 288.13 L61.14 289.09 L61.13 290.05 L61.13 291.01 L61.12 291.97 L61.11 292.93 L61.1 293.89 L61.05 294.85 L60.86 295.81 L60.64 296.77 L60.48 297.74 L60.33 298.7 L60.14 299.66 L59.85 300.62 L59.06 301.58 L57.83 302.54 L56.54 303.5 L55.18 304.46 L53.67 305.42 L52.04 306.38 L50.28 307.35 L48.32 308.31 L46.22 309.27 L44.06 310.23 L41.43 311.19 L38.41 312.15 L36.1 313.11 L35.72 314.07 L39.18 315.03 L44.64 315.99 L49.54 316.96 L54.62 317.92 L58.03 318.88 L60.06 319.84 L61 320.8 L62.6 320.8 L63.54 319.84 L65.57 318.88 L68.98 317.92 L74.06 316.96 L78.96 315.99 L84.42 315.03 L87.88 314.07 L87.5 313.11 L85.19 312.15 L82.17 311.19 L79.54 310.23 L77.38 309.27 L75.28 308.31 L73.32 307.35 L71.56 306.38 L69.93 305.42 L68.42 304.46 L67.06 303.5 L65.77 302.54 L64.54 301.58 L63.75 300.62 L63.46 299.66 L63.27 298.7 L63.12 297.74 L62.96 296.77 L62.74 295.81 L62.55 294.85 L62.5 293.89 L62.49 292.93 L62.48 291.97 L62.47 291.01 L62.47 290.05 L62.46 289.09 L62.46 288.13 L62.45 287.16 L62.44 286.2 L62.44 285.24 L62.43 284.28 L62.43 283.32 L62.43 282.36 L62.42 281.4 L62.42 280.44 L62.42 279.48 L62.41 278.52 L62.41 277.55 L62.41 276.59 L62.41 275.63 L62.41 274.67 L62.41 273.71 L62.4 272.75 L62.4 271.79 L62.4 270.83 L62.4 269.87 L62.4 268.91 L62.4 267.94 L62.4 266.98 L62.4 266.02 L62.4 265.06 L62.4 264.1Z" fill="url(#vf1)"/>
<defs><linearGradient id="vf2" gradientUnits="userSpaceOnUse" x1="0" y1="230" x2="0" y2="262"><stop offset="0" stop-color="#bb84c5" stop-opacity="0.5"/><stop offset="1" stop-color="#bb84c5"/></linearGradient></defs>
<path d="M113.7 223.4 L113.67 225.17 L113.64 226.93 L113.61 228.7 L113.57 230.46 L113.53 232.23 L113.48 234 L113.44 235.76 L113.39 237.53 L113.34 239.29 L113.28 241.06 L113.23 242.83 L113.17 244.59 L113.11 246.36 L113.05 248.13 L112.97 249.89 L112.9 251.66 L112.82 253.42 L112.73 255.19 L112.63 256.96 L112.52 258.72 L112.41 260.49 L112.28 262.25 L112.15 264.02 L112 265.79 L111.84 267.55 L111.67 269.32 L111.48 271.08 L111.24 272.85 L110.98 274.62 L110.7 276.38 L110.42 278.15 L110.17 279.92 L109.93 281.68 L109.69 283.45 L109.46 285.21 L109.23 286.98 L109.01 288.75 L108.81 290.51 L108.63 292.28 L108.44 294.04 L108.24 295.81 L108.05 297.58 L107.89 299.34 L107.77 301.11 L107.71 302.87 L107.71 304.64 L107.79 306.41 L107.92 308.17 L108.1 309.94 L108.37 311.71 L109.01 313.47 L109.85 315.24 L110.69 317 L111.68 318.77 L112.64 320.54 L113.15 322.3 L113.48 324.07 L113.71 325.83 L113.8 327.6 L114.6 327.6 L114.69 325.83 L114.92 324.07 L115.25 322.3 L115.76 320.54 L116.72 318.77 L117.71 317 L118.55 315.24 L119.39 313.47 L120.03 311.71 L120.3 309.94 L120.48 308.17 L120.61 306.41 L120.69 304.64 L120.69 302.87 L120.63 301.11 L120.51 299.34 L120.35 297.58 L120.16 295.81 L119.96 294.04 L119.77 292.28 L119.59 290.51 L119.39 288.75 L119.17 286.98 L118.94 285.21 L118.71 283.45 L118.47 281.68 L118.23 279.92 L117.98 278.15 L117.7 276.38 L117.42 274.62 L117.16 272.85 L116.92 271.08 L116.73 269.32 L116.56 267.55 L116.4 265.79 L116.25 264.02 L116.12 262.25 L115.99 260.49 L115.88 258.72 L115.77 256.96 L115.67 255.19 L115.58 253.42 L115.5 251.66 L115.43 249.89 L115.35 248.13 L115.29 246.36 L115.23 244.59 L115.17 242.83 L115.12 241.06 L115.06 239.29 L115.01 237.53 L114.96 235.76 L114.92 234 L114.87 232.23 L114.83 230.46 L114.79 228.7 L114.76 226.93 L114.73 225.17 L114.7 223.4Z" fill="url(#vf2)"/>
<line x1="61.8" y1="304.7" x2="61.8" y2="316.6" stroke="#222" stroke-width="0.45"/>
<circle cx="61.8" cy="311" r="1.3" fill="#000"/>
<line x1="114.2" y1="277.8" x2="114.2" y2="309.6" stroke="#222" stroke-width="0.45"/>
<circle cx="114.2" cy="293.6" r="1.3" fill="#000"/>
<path d="M61.8 231.7V229.9H114.2V231.7" fill="none" stroke="#a3a3a3" stroke-width="0.7"/>
<text x="88" y="228.9" font-size="4.2" text-anchor="middle" font-weight="bold" fill="#111">****</text>
<line x1="24.4" y1="377.8" x2="24.4" y2="495.65" stroke="#8a8a8a" stroke-width="1.1"/>
<line x1="23.85" y1="495.1" x2="140.5" y2="495.1" stroke="#8a8a8a" stroke-width="1.1"/>
<line x1="22.6" y1="410.3" x2="24.4" y2="410.3" stroke="#444" stroke-width="0.5"/>
<text x="22.2" y="411.88" font-size="4.4" text-anchor="end" fill="#333">40</text>
<line x1="22.6" y1="446.1" x2="24.4" y2="446.1" stroke="#444" stroke-width="0.5"/>
<text x="22.2" y="447.68" font-size="4.4" text-anchor="end" fill="#333">20</text>
<line x1="22.6" y1="482.2" x2="24.4" y2="482.2" stroke="#444" stroke-width="0.5"/>
<text x="22.2" y="483.78" font-size="4.4" text-anchor="end" fill="#333">0</text>
<line x1="56.2" y1="495.1" x2="56.2" y2="496.6" stroke="#444" stroke-width="0.5"/>
<text x="56.2" y="500.4" font-size="4.3" text-anchor="middle" fill="#333">Control</text>
<line x1="108.7" y1="495.1" x2="108.7" y2="496.6" stroke="#444" stroke-width="0.5"/>
<text x="108.7" y="500.4" font-size="4.3" text-anchor="middle" fill="#333">NEC</text>
<text transform="translate(14.6,435.9) rotate(-90)" font-size="4.6" text-anchor="middle" fill="#111" textLength="35.2" lengthAdjust="spacingAndGlyphs">Chemokine Score</text>
<defs><linearGradient id="vf3" gradientUnits="userSpaceOnUse" x1="0" y1="440" x2="0" y2="460"><stop offset="0" stop-color="#f98b3a" stop-opacity="0.5"/><stop offset="1" stop-color="#f98b3a"/></linearGradient></defs>
<path d="M55.4 432.3 L55.4 433.17 L55.4 434.04 L55.4 434.9 L55.39 435.77 L55.39 436.64 L55.39 437.51 L55.38 438.37 L55.38 439.24 L55.37 440.11 L55.37 440.98 L55.36 441.85 L55.35 442.71 L55.34 443.58 L55.33 444.45 L55.32 445.32 L55.31 446.18 L55.3 447.05 L55.29 447.92 L55.28 448.79 L55.26 449.66 L55.25 450.52 L55.23 451.39 L55.21 452.26 L55.2 453.13 L55.17 453.99 L55.13 454.86 L55.07 455.73 L55 456.6 L54.91 457.47 L54.8 458.33 L54.65 459.2 L54.22 460.07 L53.81 460.94 L53.65 461.81 L53.61 462.67 L53.92 463.54 L54.2 464.41 L53.93 465.28 L53.28 466.14 L52.18 467.01 L50.53 467.88 L48.42 468.75 L46.17 469.62 L43.94 470.48 L41.58 471.35 L39.15 472.22 L36.11 473.09 L32.75 473.95 L30.28 474.82 L29.84 475.69 L31.6 476.56 L34.66 477.43 L38.08 478.29 L41.36 479.16 L45.02 480.03 L48.68 480.9 L52.37 481.76 L54.75 482.63 L55.7 483.5 L56.7 483.5 L57.65 482.63 L60.03 481.76 L63.72 480.9 L67.38 480.03 L71.04 479.16 L74.32 478.29 L77.74 477.43 L80.8 476.56 L82.56 475.69 L82.12 474.82 L79.65 473.95 L76.29 473.09 L73.25 472.22 L70.82 471.35 L68.46 470.48 L66.23 469.62 L63.98 468.75 L61.87 467.88 L60.22 467.01 L59.12 466.14 L58.47 465.28 L58.2 464.41 L58.48 463.54 L58.79 462.67 L58.75 461.81 L58.59 460.94 L58.18 460.07 L57.75 459.2 L57.6 458.33 L57.49 457.47 L57.4 456.6 L57.33 455.73 L57.27 454.86 L57.23 453.99 L57.2 453.13 L57.19 452.26 L57.17 451.39 L57.15 450.52 L57.14 449.66 L57.12 448.79 L57.11 447.92 L57.1 447.05 L57.09 446.18 L57.08 445.32 L57.07 444.45 L57.06 443.58 L57.05 442.71 L57.04 441.85 L57.03 440.98 L57.03 440.11 L57.02 439.24 L57.02 438.37 L57.01 437.51 L57.01 436.64 L57.01 435.77 L57 434.9 L57 434.04 L57 433.17 L57 432.3Z" fill="url(#vf3)"/>
<defs><linearGradient id="vf4" gradientUnits="userSpaceOnUse" x1="0" y1="390" x2="0" y2="425"><stop offset="0" stop-color="#bb84c5" stop-opacity="0.45"/><stop offset="1" stop-color="#bb84c5"/></linearGradient></defs>
<path d="M108.2 383 L108.16 384.81 L108.12 386.62 L108.07 388.44 L108.02 390.25 L107.96 392.06 L107.9 393.87 L107.83 395.68 L107.76 397.49 L107.69 399.31 L107.61 401.12 L107.54 402.93 L107.46 404.74 L107.37 406.55 L107.28 408.37 L107.18 410.18 L107.07 411.99 L106.96 413.8 L106.84 415.61 L106.72 417.43 L106.6 419.24 L106.47 421.05 L106.34 422.86 L106.2 424.67 L106.06 426.48 L105.92 428.3 L105.77 430.11 L105.61 431.92 L105.45 433.73 L105.27 435.54 L105.09 437.36 L104.89 439.17 L104.68 440.98 L104.44 442.79 L104.17 444.6 L103.87 446.42 L103.57 448.23 L103.27 450.04 L102.97 451.85 L102.69 453.66 L102.43 455.47 L102.18 457.29 L101.92 459.1 L101.66 460.91 L101.44 462.72 L101.27 464.53 L101.19 466.35 L101.14 468.16 L101.11 469.97 L101.11 471.78 L101.42 473.59 L101.99 475.41 L102.79 477.22 L104.02 479.03 L105.33 480.84 L106.82 482.65 L107.61 484.46 L107.97 486.28 L108.21 488.09 L108.3 489.9 L109.1 489.9 L109.19 488.09 L109.43 486.28 L109.79 484.46 L110.58 482.65 L112.07 480.84 L113.38 479.03 L114.61 477.22 L115.41 475.41 L115.98 473.59 L116.29 471.78 L116.29 469.97 L116.26 468.16 L116.21 466.35 L116.13 464.53 L115.96 462.72 L115.74 460.91 L115.48 459.1 L115.22 457.29 L114.97 455.47 L114.71 453.66 L114.43 451.85 L114.13 450.04 L113.83 448.23 L113.53 446.42 L113.23 444.6 L112.96 442.79 L112.72 440.98 L112.51 439.17 L112.31 437.36 L112.13 435.54 L111.95 433.73 L111.79 431.92 L111.63 430.11 L111.48 428.3 L111.34 426.48 L111.2 424.67 L111.06 422.86 L110.93 421.05 L110.8 419.24 L110.68 417.43 L110.56 415.61 L110.44 413.8 L110.33 411.99 L110.22 410.18 L110.12 408.37 L110.03 406.55 L109.94 404.74 L109.86 402.93 L109.79 401.12 L109.71 399.31 L109.64 397.49 L109.57 395.68 L109.5 393.87 L109.44 392.06 L109.38 390.25 L109.33 388.44 L109.28 386.62 L109.24 384.81 L109.2 383Z" fill="url(#vf4)"/>
<line x1="56.2" y1="467.4" x2="56.2" y2="478.6" stroke="#222" stroke-width="0.45"/>
<circle cx="56.2" cy="473.4" r="1.3" fill="#000"/>
<line x1="108.7" y1="444" x2="108.7" y2="473.9" stroke="#222" stroke-width="0.45"/>
<circle cx="108.7" cy="458.3" r="1.3" fill="#000"/>
<path d="M56.2 390.2V388.4H108.7V390.2" fill="none" stroke="#a3a3a3" stroke-width="0.7"/>
<text x="82.45" y="387.4" font-size="4.2" text-anchor="middle" font-weight="bold" fill="#111">****</text>
<line x1="185.8" y1="223.4" x2="185.8" y2="333.55" stroke="#8a8a8a" stroke-width="1.1"/>
<line x1="185.25" y1="333" x2="317.8" y2="333" stroke="#8a8a8a" stroke-width="1.1"/>
<line x1="184" y1="252.3" x2="185.8" y2="252.3" stroke="#444" stroke-width="0.5"/>
<text x="183.6" y="253.88" font-size="4.4" text-anchor="end" fill="#333">40</text>
<line x1="184" y1="286.9" x2="185.8" y2="286.9" stroke="#444" stroke-width="0.5"/>
<text x="183.6" y="288.48" font-size="4.4" text-anchor="end" fill="#333">20</text>
<line x1="184" y1="321.4" x2="185.8" y2="321.4" stroke="#444" stroke-width="0.5"/>
<text x="183.6" y="322.98" font-size="4.4" text-anchor="end" fill="#333">0</text>
<line x1="210.8" y1="333" x2="210.8" y2="334.5" stroke="#444" stroke-width="0.5"/>
<text x="210.8" y="339.1" font-size="4.3" text-anchor="middle" fill="#333">0</text>
<line x1="252.4" y1="333" x2="252.4" y2="334.5" stroke="#444" stroke-width="0.5"/>
<text x="252.4" y="339.1" font-size="4.3" text-anchor="middle" fill="#333">1</text>
<line x1="294.1" y1="333" x2="294.1" y2="334.5" stroke="#444" stroke-width="0.5"/>
<text x="294.1" y="339.1" font-size="4.3" text-anchor="middle" fill="#333">2</text>
<text transform="translate(177.6,278.2) rotate(-90)" font-size="4.4" text-anchor="middle" fill="#111" textLength="42.3" lengthAdjust="spacingAndGlyphs">Proinflammatory Score</text>
<defs><linearGradient id="vf5" gradientUnits="userSpaceOnUse" x1="0" y1="245" x2="0" y2="268"><stop offset="0" stop-color="#28a2b2" stop-opacity="0.5"/><stop offset="1" stop-color="#28a2b2"/></linearGradient></defs>
<path d="M210.4 240 L210.39 241.49 L210.38 242.98 L210.35 244.47 L210.32 245.97 L210.27 247.46 L210.23 248.95 L210.18 250.44 L210.12 251.93 L210.06 253.42 L210 254.92 L209.93 256.41 L209.85 257.9 L209.75 259.39 L209.64 260.88 L209.52 262.37 L209.39 263.86 L209.27 265.36 L209.13 266.85 L208.98 268.34 L208.83 269.83 L208.67 271.32 L208.51 272.81 L208.36 274.31 L208.23 275.8 L208.11 277.29 L208 278.78 L207.89 280.27 L207.78 281.76 L207.66 283.25 L207.52 284.75 L207.37 286.24 L207.19 287.73 L207 289.22 L206.8 290.71 L206.61 292.2 L206.43 293.69 L206.28 295.19 L206.14 296.68 L205.99 298.17 L205.85 299.66 L205.75 301.15 L205.7 302.64 L205.74 304.14 L205.87 305.63 L206.09 307.12 L206.35 308.61 L206.63 310.1 L206.91 311.59 L207.24 313.08 L207.62 314.58 L208.04 316.07 L208.47 317.56 L209.02 319.05 L209.5 320.54 L209.8 322.03 L210.06 323.53 L210.29 325.02 L210.44 326.51 L210.5 328 L211.1 328 L211.16 326.51 L211.31 325.02 L211.54 323.53 L211.8 322.03 L212.1 320.54 L212.58 319.05 L213.13 317.56 L213.56 316.07 L213.98 314.58 L214.36 313.08 L214.69 311.59 L214.97 310.1 L215.25 308.61 L215.51 307.12 L215.73 305.63 L215.86 304.14 L215.9 302.64 L215.85 301.15 L215.75 299.66 L215.61 298.17 L215.46 296.68 L215.32 295.19 L215.17 293.69 L214.99 292.2 L214.8 290.71 L214.6 289.22 L214.41 287.73 L214.23 286.24 L214.08 284.75 L213.94 283.25 L213.82 281.76 L213.71 280.27 L213.6 278.78 L213.49 277.29 L213.37 275.8 L213.24 274.31 L213.09 272.81 L212.93 271.32 L212.77 269.83 L212.62 268.34 L212.47 266.85 L212.33 265.36 L212.21 263.86 L212.08 262.37 L211.96 260.88 L211.85 259.39 L211.75 257.9 L211.67 256.41 L211.6 254.92 L211.54 253.42 L211.48 251.93 L211.42 250.44 L211.37 248.95 L211.33 247.46 L211.28 245.97 L211.25 244.47 L211.22 242.98 L211.21 241.49 L211.2 240Z" fill="url(#vf5)"/>
<defs><linearGradient id="vf6" gradientUnits="userSpaceOnUse" x1="0" y1="285" x2="0" y2="306"><stop offset="0" stop-color="#ddaa33" stop-opacity="0.5"/><stop offset="1" stop-color="#ddaa33"/></linearGradient></defs>
<path d="M251.9 280 L251.9 280.73 L251.9 281.46 L251.89 282.19 L251.89 282.92 L251.88 283.64 L251.88 284.37 L251.87 285.1 L251.86 285.83 L251.85 286.56 L251.83 287.29 L251.82 288.02 L251.8 288.75 L251.79 289.47 L251.77 290.2 L251.75 290.93 L251.72 291.66 L251.7 292.39 L251.67 293.12 L251.65 293.85 L251.62 294.58 L251.59 295.31 L251.55 296.03 L251.52 296.76 L251.48 297.49 L251.44 298.22 L251.4 298.95 L251.34 299.68 L251.21 300.41 L251.04 301.14 L250.81 301.86 L250.55 302.59 L250.24 303.32 L249.9 304.05 L249.52 304.78 L249.05 305.51 L248.32 306.24 L247.4 306.97 L246.36 307.69 L245.26 308.42 L244.17 309.15 L243 309.88 L241.72 310.61 L240.37 311.34 L239.03 312.07 L237.74 312.8 L236.43 313.53 L234.92 314.25 L233.45 314.98 L232.3 315.71 L231.72 316.44 L232.56 317.17 L235.39 317.9 L238.85 318.63 L241.8 319.36 L244.93 320.08 L247.8 320.81 L249.67 321.54 L250.91 322.27 L251.6 323 L253.2 323 L253.89 322.27 L255.13 321.54 L257 320.81 L259.87 320.08 L263 319.36 L265.95 318.63 L269.41 317.9 L272.24 317.17 L273.08 316.44 L272.5 315.71 L271.35 314.98 L269.88 314.25 L268.37 313.53 L267.06 312.8 L265.77 312.07 L264.43 311.34 L263.08 310.61 L261.8 309.88 L260.63 309.15 L259.54 308.42 L258.44 307.69 L257.4 306.97 L256.48 306.24 L255.75 305.51 L255.28 304.78 L254.9 304.05 L254.56 303.32 L254.25 302.59 L253.99 301.86 L253.76 301.14 L253.59 300.41 L253.46 299.68 L253.4 298.95 L253.36 298.22 L253.32 297.49 L253.28 296.76 L253.25 296.03 L253.21 295.31 L253.18 294.58 L253.15 293.85 L253.13 293.12 L253.1 292.39 L253.08 291.66 L253.05 290.93 L253.03 290.2 L253.01 289.47 L253 288.75 L252.98 288.02 L252.97 287.29 L252.95 286.56 L252.94 285.83 L252.93 285.1 L252.92 284.37 L252.92 283.64 L252.91 282.92 L252.91 282.19 L252.9 281.46 L252.9 280.73 L252.9 280Z" fill="url(#vf6)"/>
<defs><linearGradient id="vf7" gradientUnits="userSpaceOnUse" x1="0" y1="291" x2="0" y2="300"><stop offset="0" stop-color="#f05528" stop-opacity="0.6"/><stop offset="1" stop-color="#f05528"/></linearGradient></defs>
<path d="M293.3 290 L293.24 290.58 L293.18 291.15 L293.11 291.73 L293.03 292.31 L292.95 292.88 L292.86 293.46 L292.76 294.03 L292.67 294.61 L292.57 295.19 L292.46 295.76 L292.33 296.34 L292.21 296.92 L292.07 297.49 L291.93 298.07 L291.79 298.64 L291.64 299.22 L291.47 299.8 L291.29 300.37 L291.12 300.95 L290.98 301.53 L290.89 302.1 L290.82 302.68 L290.76 303.25 L290.72 303.83 L290.7 304.41 L290.79 304.98 L291.03 305.56 L291.25 306.14 L291.29 306.71 L291.16 307.29 L290.93 307.86 L290.63 308.44 L290.18 309.02 L289.47 309.59 L288.61 310.17 L287.7 310.75 L286.59 311.32 L285.36 311.9 L284.15 312.47 L282.95 313.05 L281.72 313.63 L280.52 314.2 L279.46 314.78 L278.53 315.36 L277.56 315.93 L276.71 316.51 L276.19 317.08 L276.33 317.66 L278.04 318.24 L280.4 318.81 L282.63 319.39 L285.12 319.97 L287.23 320.54 L288.89 321.12 L290.36 321.69 L291.56 322.27 L292.45 322.85 L293.14 323.42 L293.6 324 L294.6 324 L295.06 323.42 L295.75 322.85 L296.64 322.27 L297.84 321.69 L299.31 321.12 L300.97 320.54 L303.08 319.97 L305.57 319.39 L307.8 318.81 L310.16 318.24 L311.87 317.66 L312.01 317.08 L311.49 316.51 L310.64 315.93 L309.67 315.36 L308.74 314.78 L307.68 314.2 L306.48 313.63 L305.25 313.05 L304.05 312.47 L302.84 311.9 L301.61 311.32 L300.5 310.75 L299.59 310.17 L298.73 309.59 L298.02 309.02 L297.57 308.44 L297.27 307.86 L297.04 307.29 L296.91 306.71 L296.95 306.14 L297.17 305.56 L297.41 304.98 L297.5 304.41 L297.48 303.83 L297.44 303.25 L297.38 302.68 L297.31 302.1 L297.22 301.53 L297.08 300.95 L296.91 300.37 L296.73 299.8 L296.56 299.22 L296.41 298.64 L296.27 298.07 L296.13 297.49 L295.99 296.92 L295.87 296.34 L295.74 295.76 L295.63 295.19 L295.53 294.61 L295.44 294.03 L295.34 293.46 L295.25 292.88 L295.17 292.31 L295.09 291.73 L295.02 291.15 L294.96 290.58 L294.9 290Z" fill="url(#vf7)"/>
<line x1="210.8" y1="285" x2="210.8" y2="312" stroke="#222" stroke-width="0.45"/>
<circle cx="210.8" cy="299" r="1.3" fill="#000"/>
<line x1="252.4" y1="309" x2="252.4" y2="319" stroke="#222" stroke-width="0.45"/>
<circle cx="252.4" cy="314" r="1.3" fill="#000"/>
<line x1="294.1" y1="310" x2="294.1" y2="319" stroke="#222" stroke-width="0.45"/>
<circle cx="294.1" cy="314.6" r="1.3" fill="#000"/>
<path d="M210.8 230V228.2H294.1V230" fill="none" stroke="#a3a3a3" stroke-width="0.7"/>
<text x="252.45" y="227.2" font-size="4.2" text-anchor="middle" font-weight="bold" fill="#111">****</text>
<path d="M252.4 238.7V236.9H294.1V238.7" fill="none" stroke="#a3a3a3" stroke-width="0.7"/>
<text x="273.25" y="235.9" font-size="4.2" text-anchor="middle" fill="#111">ns</text>
<path d="M210.8 247.4V245.6H252.4V247.4" fill="none" stroke="#a3a3a3" stroke-width="0.7"/>
<text x="231.6" y="244.6" font-size="4.2" text-anchor="middle" font-weight="bold" fill="#111">****</text>
<line x1="183.9" y1="381" x2="183.9" y2="495.85" stroke="#8a8a8a" stroke-width="1.1"/>
<line x1="183.35" y1="495.3" x2="318.7" y2="495.3" stroke="#8a8a8a" stroke-width="1.1"/>
<line x1="182.1" y1="391.2" x2="183.9" y2="391.2" stroke="#444" stroke-width="0.5"/>
<text transform="translate(180.3,391.2) rotate(-90)" font-size="4.3" text-anchor="middle" fill="#333">60</text>
<line x1="182.1" y1="422.3" x2="183.9" y2="422.3" stroke="#444" stroke-width="0.5"/>
<text transform="translate(180.3,422.3) rotate(-90)" font-size="4.3" text-anchor="middle" fill="#333">40</text>
<line x1="182.1" y1="452.7" x2="183.9" y2="452.7" stroke="#444" stroke-width="0.5"/>
<text transform="translate(180.3,452.7) rotate(-90)" font-size="4.3" text-anchor="middle" fill="#333">20</text>
<line x1="182.1" y1="483.5" x2="183.9" y2="483.5" stroke="#444" stroke-width="0.5"/>
<text transform="translate(180.3,483.5) rotate(-90)" font-size="4.3" text-anchor="middle" fill="#333">0</text>
<line x1="208.7" y1="495.3" x2="208.7" y2="496.8" stroke="#444" stroke-width="0.5"/>
<text x="208.7" y="500.6" font-size="4.3" text-anchor="middle" fill="#333">0</text>
<line x1="250.9" y1="495.3" x2="250.9" y2="496.8" stroke="#444" stroke-width="0.5"/>
<text x="250.9" y="500.6" font-size="4.3" text-anchor="middle" fill="#333">1</text>
<line x1="293.4" y1="495.3" x2="293.4" y2="496.8" stroke="#444" stroke-width="0.5"/>
<text x="293.4" y="500.6" font-size="4.3" text-anchor="middle" fill="#333">2</text>
<text transform="translate(175.3,438.1) rotate(-90)" font-size="3.9" text-anchor="middle" fill="#222" textLength="28.8" lengthAdjust="spacingAndGlyphs">Chemokine Score</text>
<defs><linearGradient id="vf8" gradientUnits="userSpaceOnUse" x1="0" y1="403" x2="0" y2="430"><stop offset="0" stop-color="#28a2b2" stop-opacity="0.5"/><stop offset="1" stop-color="#28a2b2"/></linearGradient></defs>
<path d="M208.2 398.7 L208.16 400.26 L208.13 401.82 L208.09 403.38 L208.04 404.94 L208 406.51 L207.95 408.07 L207.91 409.63 L207.86 411.19 L207.81 412.75 L207.76 414.31 L207.7 415.87 L207.65 417.43 L207.6 418.99 L207.55 420.55 L207.5 422.12 L207.44 423.68 L207.38 425.24 L207.32 426.8 L207.24 428.36 L207.17 429.92 L207.08 431.48 L206.98 433.04 L206.86 434.6 L206.7 436.16 L206.52 437.73 L206.32 439.29 L206.11 440.85 L205.9 442.41 L205.66 443.97 L205.4 445.53 L205.11 447.09 L204.83 448.65 L204.56 450.21 L204.33 451.77 L204.13 453.34 L203.94 454.9 L203.77 456.46 L203.6 458.02 L203.46 459.58 L203.33 461.14 L203.22 462.7 L203.11 464.26 L203 465.82 L202.91 467.38 L202.84 468.95 L202.8 470.51 L202.86 472.07 L203.2 473.63 L203.74 475.19 L204.34 476.75 L204.97 478.31 L205.78 479.87 L206.51 481.43 L206.96 482.99 L207.29 484.56 L207.57 486.12 L207.86 487.68 L208.14 489.24 L208.4 490.8 L209 490.8 L209.26 489.24 L209.54 487.68 L209.83 486.12 L210.11 484.56 L210.44 482.99 L210.89 481.43 L211.62 479.87 L212.43 478.31 L213.06 476.75 L213.66 475.19 L214.2 473.63 L214.54 472.07 L214.6 470.51 L214.56 468.95 L214.49 467.38 L214.4 465.82 L214.29 464.26 L214.18 462.7 L214.07 461.14 L213.94 459.58 L213.8 458.02 L213.63 456.46 L213.46 454.9 L213.27 453.34 L213.07 451.77 L212.84 450.21 L212.57 448.65 L212.29 447.09 L212 445.53 L211.74 443.97 L211.5 442.41 L211.29 440.85 L211.08 439.29 L210.88 437.73 L210.7 436.16 L210.54 434.6 L210.42 433.04 L210.32 431.48 L210.23 429.92 L210.16 428.36 L210.08 426.8 L210.02 425.24 L209.96 423.68 L209.9 422.12 L209.85 420.55 L209.8 418.99 L209.75 417.43 L209.7 415.87 L209.64 414.31 L209.59 412.75 L209.54 411.19 L209.49 409.63 L209.45 408.07 L209.4 406.51 L209.36 404.94 L209.31 403.38 L209.27 401.82 L209.24 400.26 L209.2 398.7Z" fill="url(#vf8)"/>
<defs><linearGradient id="vf9" gradientUnits="userSpaceOnUse" x1="0" y1="448" x2="0" y2="467"><stop offset="0" stop-color="#ddaa33" stop-opacity="0.5"/><stop offset="1" stop-color="#ddaa33"/></linearGradient></defs>
<path d="M250.2 444.3 L250.2 444.98 L250.2 445.66 L250.19 446.34 L250.19 447.02 L250.18 447.7 L250.17 448.38 L250.16 449.06 L250.15 449.74 L250.14 450.42 L250.12 451.1 L250.11 451.78 L250.09 452.46 L250.07 453.14 L250.04 453.82 L250.02 454.49 L249.99 455.17 L249.96 455.85 L249.93 456.53 L249.89 457.21 L249.86 457.89 L249.82 458.57 L249.77 459.25 L249.73 459.93 L249.68 460.61 L249.63 461.29 L249.58 461.97 L249.52 462.65 L249.46 463.33 L249.4 464.01 L249.25 464.69 L248.94 465.37 L248.51 466.05 L247.97 466.73 L247.35 467.41 L246.66 468.09 L245.93 468.77 L245.01 469.45 L243.77 470.13 L242.33 470.81 L240.82 471.49 L239.36 472.17 L237.97 472.85 L236.35 473.53 L234.62 474.21 L232.94 474.88 L231.47 475.56 L230.35 476.24 L229.76 476.92 L229.97 477.6 L231.46 478.28 L233.8 478.96 L236.47 479.64 L238.97 480.32 L241.63 481 L244.55 481.68 L247.03 482.36 L248.58 483.04 L249.73 483.72 L250.4 484.4 L251.4 484.4 L252.07 483.72 L253.22 483.04 L254.77 482.36 L257.25 481.68 L260.17 481 L262.83 480.32 L265.33 479.64 L268 478.96 L270.34 478.28 L271.83 477.6 L272.04 476.92 L271.45 476.24 L270.33 475.56 L268.86 474.88 L267.18 474.21 L265.45 473.53 L263.83 472.85 L262.44 472.17 L260.98 471.49 L259.47 470.81 L258.03 470.13 L256.79 469.45 L255.87 468.77 L255.14 468.09 L254.45 467.41 L253.83 466.73 L253.29 466.05 L252.86 465.37 L252.55 464.69 L252.4 464.01 L252.34 463.33 L252.28 462.65 L252.22 461.97 L252.17 461.29 L252.12 460.61 L252.07 459.93 L252.03 459.25 L251.98 458.57 L251.94 457.89 L251.91 457.21 L251.87 456.53 L251.84 455.85 L251.81 455.17 L251.78 454.49 L251.76 453.82 L251.73 453.14 L251.71 452.46 L251.69 451.78 L251.68 451.1 L251.66 450.42 L251.65 449.74 L251.64 449.06 L251.63 448.38 L251.62 447.7 L251.61 447.02 L251.61 446.34 L251.6 445.66 L251.6 444.98 L251.6 444.3Z" fill="url(#vf9)"/>
<defs><linearGradient id="vf10" gradientUnits="userSpaceOnUse" x1="0" y1="456" x2="0" y2="463"><stop offset="0" stop-color="#f05528" stop-opacity="0.6"/><stop offset="1" stop-color="#f05528"/></linearGradient></defs>
<path d="M292.6 454.9 L292.55 455.42 L292.48 455.94 L292.41 456.46 L292.33 456.98 L292.24 457.5 L292.14 458.02 L292.04 458.54 L291.93 459.06 L291.81 459.58 L291.66 460.1 L291.5 460.62 L291.34 461.14 L291.19 461.66 L291.06 462.18 L290.92 462.71 L290.78 463.23 L290.65 463.75 L290.56 464.27 L290.51 464.79 L290.5 465.31 L290.5 465.83 L290.5 466.35 L290.5 466.87 L290.5 467.39 L290.53 467.91 L290.63 468.43 L290.74 468.95 L290.8 469.47 L290.68 469.99 L290.35 470.51 L289.88 471.03 L289.35 471.55 L288.61 472.07 L287.61 472.59 L286.48 473.11 L285.33 473.63 L284.08 474.15 L282.7 474.67 L281.3 475.19 L280.02 475.71 L278.91 476.23 L277.75 476.75 L276.65 477.27 L275.81 477.79 L275.41 478.32 L275.9 478.84 L277.49 479.36 L279.68 479.88 L281.94 480.4 L283.77 480.92 L285.49 481.44 L287.26 481.96 L288.92 482.48 L290.31 483 L291.29 483.52 L291.92 484.04 L292.47 484.56 L292.85 485.08 L293 485.6 L293.8 485.6 L293.95 485.08 L294.33 484.56 L294.88 484.04 L295.51 483.52 L296.49 483 L297.88 482.48 L299.54 481.96 L301.31 481.44 L303.03 480.92 L304.86 480.4 L307.12 479.88 L309.31 479.36 L310.9 478.84 L311.39 478.32 L310.99 477.79 L310.15 477.27 L309.05 476.75 L307.89 476.23 L306.78 475.71 L305.5 475.19 L304.1 474.67 L302.72 474.15 L301.47 473.63 L300.32 473.11 L299.19 472.59 L298.19 472.07 L297.45 471.55 L296.92 471.03 L296.45 470.51 L296.12 469.99 L296 469.47 L296.06 468.95 L296.17 468.43 L296.27 467.91 L296.3 467.39 L296.3 466.87 L296.3 466.35 L296.3 465.83 L296.3 465.31 L296.29 464.79 L296.24 464.27 L296.15 463.75 L296.02 463.23 L295.88 462.71 L295.74 462.18 L295.61 461.66 L295.46 461.14 L295.3 460.62 L295.14 460.1 L294.99 459.58 L294.87 459.06 L294.76 458.54 L294.66 458.02 L294.56 457.5 L294.47 456.98 L294.39 456.46 L294.32 455.94 L294.25 455.42 L294.2 454.9Z" fill="url(#vf10)"/>
<line x1="208.7" y1="449.6" x2="208.7" y2="474.8" stroke="#222" stroke-width="0.45"/>
<circle cx="208.7" cy="462" r="1.3" fill="#000"/>
<line x1="250.9" y1="471" x2="250.9" y2="480" stroke="#222" stroke-width="0.45"/>
<circle cx="250.9" cy="475.5" r="1.3" fill="#000"/>
<line x1="293.4" y1="472" x2="293.4" y2="481" stroke="#222" stroke-width="0.45"/>
<circle cx="293.4" cy="476" r="1.3" fill="#000"/>
<path d="M208.7 386.6V384.8H293.4V386.6" fill="none" stroke="#a3a3a3" stroke-width="0.7"/>
<text x="251.05" y="383.8" font-size="4.2" text-anchor="middle" font-weight="bold" fill="#111">****</text>
<path d="M250.9 396.2V394.4H293.4V396.2" fill="none" stroke="#a3a3a3" stroke-width="0.7"/>
<text x="272.15" y="393.4" font-size="4.2" text-anchor="middle" fill="#111">ns</text>
<path d="M208.7 405.3V403.5H250.9V405.3" fill="none" stroke="#a3a3a3" stroke-width="0.7"/>
<text x="229.8" y="402.5" font-size="4.2" text-anchor="middle" font-weight="bold" fill="#111">****</text>
<line x1="553.7" y1="225" x2="553.7" y2="332.8" stroke="#b0b0b0" stroke-width="1"/>
<line x1="553.2" y1="332.3" x2="681.5" y2="332.3" stroke="#8a8a8a" stroke-width="1"/>
<line x1="551.9" y1="240.4" x2="553.7" y2="240.4" stroke="#444" stroke-width="0.5"/>
<text x="551.7" y="241.59" font-size="3.3" text-anchor="end" fill="#333">1.5</text>
<line x1="551.9" y1="267.3" x2="553.7" y2="267.3" stroke="#444" stroke-width="0.5"/>
<text x="551.7" y="268.49" font-size="3.3" text-anchor="end" fill="#333">1.0</text>
<line x1="551.9" y1="293.8" x2="553.7" y2="293.8" stroke="#444" stroke-width="0.5"/>
<text x="551.7" y="294.99" font-size="3.3" text-anchor="end" fill="#333">0.5</text>
<line x1="551.9" y1="320.1" x2="553.7" y2="320.1" stroke="#444" stroke-width="0.5"/>
<text x="551.7" y="321.29" font-size="3.3" text-anchor="end" fill="#333">0.0</text>
<text x="618" y="337.2" font-size="3.5" text-anchor="middle" fill="#222">Human bulk RNA−seq datasets</text>
<text transform="translate(547.2,278) rotate(-90)" font-size="3.9" text-anchor="middle" fill="#222" textLength="37.2" lengthAdjust="spacingAndGlyphs">Proinflammatory Score</text>
<text x="595.9" y="217.1" font-size="3.6" fill="#222">Group</text>
<rect x="608.2" y="213.6" width="4.8" height="4.6" fill="#e6501f" stroke="#333" stroke-width="0.3"/>
<text x="615.4" y="216.9" font-size="2.9" fill="#333">Control</text>
<rect x="626.7" y="213.6" width="4.8" height="4.6" fill="#3c7dbf" stroke="#333" stroke-width="0.3"/>
<text x="633.9" y="216.9" font-size="2.9" fill="#333">NEC</text>
<path d="M593.6 235.3 L593.18 236.77 L592.72 238.24 L592.2 239.71 L591.62 241.18 L590.96 242.66 L590.35 244.13 L589.8 245.6 L589.32 247.07 L589 248.54 L588.76 250.01 L588.71 251.48 L588.82 252.95 L589.01 254.43 L589.29 255.9 L589.76 257.37 L590.25 258.84 L590.73 260.31 L591.17 261.78 L591.39 263.25 L591.49 264.72 L591.08 266.19 L589.73 267.67 L587.96 269.14 L585.68 270.61 L583.55 272.08 L581.48 273.55 L579.64 275.02 L577.96 276.49 L576.44 277.96 L575.04 279.44 L573.76 280.91 L572.61 282.38 L571.36 283.85 L570.26 285.32 L569.71 286.79 L569.7 288.26 L569.7 289.73 L569.7 291.21 L569.95 292.68 L570.43 294.15 L571.11 295.62 L572.21 297.09 L573.51 298.56 L574.86 300.03 L576.4 301.5 L578.05 302.97 L579.71 304.45 L581.45 305.92 L583.2 307.39 L584.86 308.86 L586.47 310.33 L587.88 311.8 L589.14 313.27 L590.31 314.74 L591.31 316.22 L592.08 317.69 L592.72 319.16 L593.24 320.63 L593.6 322.1 L594.2 322.1 L594.56 320.63 L595.08 319.16 L595.72 317.69 L596.49 316.22 L597.49 314.74 L598.66 313.27 L599.92 311.8 L601.33 310.33 L602.94 308.86 L604.6 307.39 L606.35 305.92 L608.09 304.45 L609.75 302.97 L611.4 301.5 L612.94 300.03 L614.29 298.56 L615.59 297.09 L616.69 295.62 L617.37 294.15 L617.85 292.68 L618.1 291.21 L618.1 289.73 L618.1 288.26 L618.09 286.79 L617.54 285.32 L616.44 283.85 L615.19 282.38 L614.04 280.91 L612.76 279.44 L611.36 277.96 L609.84 276.49 L608.16 275.02 L606.32 273.55 L604.25 272.08 L602.12 270.61 L599.84 269.14 L598.07 267.67 L596.72 266.19 L596.31 264.72 L596.41 263.25 L596.63 261.78 L597.07 260.31 L597.55 258.84 L598.04 257.37 L598.51 255.9 L598.79 254.43 L598.98 252.95 L599.09 251.48 L599.04 250.01 L598.8 248.54 L598.48 247.07 L598 245.6 L597.45 244.13 L596.84 242.66 L596.18 241.18 L595.6 239.71 L595.08 238.24 L594.62 236.77 L594.2 235.3Z" fill="#e6501f"/>
<path d="M641.8 232.8 L640.97 234.28 L640.06 235.76 L639.11 237.23 L638.06 238.71 L636.68 240.19 L634.75 241.67 L632.7 243.15 L630.57 244.62 L628.57 246.1 L626.74 247.58 L625.31 249.06 L624.14 250.54 L623.2 252.01 L622.39 253.49 L621.81 254.97 L621.39 256.45 L621.08 257.93 L621.02 259.4 L621.41 260.88 L622.04 262.36 L622.88 263.84 L624.03 265.32 L625.17 266.79 L626.26 268.27 L627.32 269.75 L628.22 271.23 L628.94 272.71 L629.57 274.18 L630.18 275.66 L630.84 277.14 L631.54 278.62 L632.22 280.09 L632.83 281.57 L633.4 283.05 L633.93 284.53 L634.38 286.01 L634.74 287.48 L635.05 288.96 L635.33 290.44 L635.6 291.92 L635.86 293.4 L636.12 294.87 L636.41 296.35 L636.69 297.83 L636.96 299.31 L637.24 300.79 L637.53 302.26 L637.82 303.74 L638.14 305.22 L638.48 306.7 L638.86 308.18 L639.26 309.65 L639.66 311.13 L640.05 312.61 L640.42 314.09 L640.77 315.57 L641.12 317.04 L641.47 318.52 L641.8 320 L642.4 320 L642.73 318.52 L643.08 317.04 L643.43 315.57 L643.78 314.09 L644.15 312.61 L644.54 311.13 L644.94 309.65 L645.34 308.18 L645.72 306.7 L646.06 305.22 L646.38 303.74 L646.67 302.26 L646.96 300.79 L647.24 299.31 L647.51 297.83 L647.79 296.35 L648.08 294.87 L648.34 293.4 L648.6 291.92 L648.87 290.44 L649.15 288.96 L649.46 287.48 L649.82 286.01 L650.27 284.53 L650.8 283.05 L651.37 281.57 L651.98 280.09 L652.66 278.62 L653.36 277.14 L654.02 275.66 L654.63 274.18 L655.26 272.71 L655.98 271.23 L656.88 269.75 L657.94 268.27 L659.03 266.79 L660.17 265.32 L661.32 263.84 L662.16 262.36 L662.79 260.88 L663.18 259.4 L663.12 257.93 L662.81 256.45 L662.39 254.97 L661.81 253.49 L661 252.01 L660.06 250.54 L658.89 249.06 L657.46 247.58 L655.63 246.1 L653.63 244.62 L651.5 243.15 L649.45 241.67 L647.52 240.19 L646.14 238.71 L645.09 237.23 L644.14 235.76 L643.23 234.28 L642.4 232.8Z" fill="#3c7dbf"/>
<line x1="593.75" y1="283.2" x2="593.75" y2="283.2" stroke="#333" stroke-width="0.45"/>
<line x1="593.75" y1="299.3" x2="593.75" y2="304" stroke="#333" stroke-width="0.45"/>
<rect x="591.2" y="283.2" width="5.1" height="16.1" fill="none" stroke="#333" stroke-width="0.45"/>
<line x1="591.2" y1="289.2" x2="596.3" y2="289.2" stroke="#333" stroke-width="0.45"/>
<line x1="641.9" y1="252.2" x2="641.9" y2="257" stroke="#333" stroke-width="0.45"/>
<line x1="641.9" y1="276" x2="641.9" y2="303.5" stroke="#333" stroke-width="0.45"/>
<rect x="639.2" y="257" width="5.4" height="19" fill="none" stroke="#333" stroke-width="0.45"/>
<line x1="639.2" y1="266.1" x2="644.6" y2="266.1" stroke="#333" stroke-width="0.45"/>
<text x="617.9" y="250.8" font-size="9" text-anchor="middle" font-weight="bold" fill="#333">*</text>
<line x1="554.3" y1="383.4" x2="554.3" y2="493.7" stroke="#b0b0b0" stroke-width="1"/>
<line x1="553.8" y1="493.2" x2="684" y2="493.2" stroke="#8a8a8a" stroke-width="1"/>
<line x1="552.5" y1="394.9" x2="554.3" y2="394.9" stroke="#444" stroke-width="0.5"/>
<text x="552.3" y="396.09" font-size="3.3" text-anchor="end" fill="#333">1.5</text>
<line x1="552.5" y1="423.2" x2="554.3" y2="423.2" stroke="#444" stroke-width="0.5"/>
<text x="552.3" y="424.39" font-size="3.3" text-anchor="end" fill="#333">1.0</text>
<line x1="552.5" y1="451.2" x2="554.3" y2="451.2" stroke="#444" stroke-width="0.5"/>
<text x="552.3" y="452.39" font-size="3.3" text-anchor="end" fill="#333">0.5</text>
<line x1="552.5" y1="479.5" x2="554.3" y2="479.5" stroke="#444" stroke-width="0.5"/>
<text x="552.3" y="480.69" font-size="3.3" text-anchor="end" fill="#333">0.0</text>
<text x="620" y="498.8" font-size="3.5" text-anchor="middle" fill="#222">Human bulk RNA−seq datasets</text>
<text transform="translate(547.2,438.8) rotate(-90)" font-size="3.9" text-anchor="middle" fill="#222" textLength="31.2" lengthAdjust="spacingAndGlyphs">Chemokines Score</text>
<text x="597.4" y="375.9" font-size="3.89" fill="#222">Group</text>
<rect x="609.85" y="372.12" width="5.18" height="4.97" fill="#f98b3a" stroke="#333" stroke-width="0.3"/>
<text x="617.2" y="375.68" font-size="3.13" fill="#333">Control</text>
<rect x="628.65" y="372.12" width="5.18" height="4.97" fill="#bb84c5" stroke="#333" stroke-width="0.3"/>
<text x="636" y="375.68" font-size="3.13" fill="#333">NEC</text>
<path d="M594.7 399.1 L593.87 400.46 L593.11 401.82 L592.42 403.17 L591.76 404.53 L591.14 405.89 L590.62 407.25 L590.24 408.6 L589.89 409.96 L589.62 411.32 L589.5 412.68 L589.59 414.03 L589.83 415.39 L590.14 416.75 L590.55 418.11 L591.14 419.46 L591.73 420.82 L592.23 422.18 L592.71 423.54 L593.12 424.89 L593.51 426.25 L593.58 427.61 L593.41 428.97 L593.09 430.33 L592.1 431.68 L590.58 433.04 L588.87 434.4 L586.69 435.76 L584.56 437.11 L582.5 438.47 L580.64 439.83 L578.97 441.19 L577.46 442.54 L576.14 443.9 L574.94 445.26 L573.88 446.62 L572.91 447.97 L572.02 449.33 L571.32 450.69 L570.83 452.05 L570.44 453.41 L570.3 454.76 L570.55 456.12 L571.05 457.48 L571.66 458.84 L572.49 460.19 L573.59 461.55 L575.01 462.91 L576.93 464.27 L578.9 465.62 L580.94 466.98 L583.05 468.34 L585.25 469.7 L587.35 471.05 L589.39 472.41 L590.96 473.77 L592.21 475.13 L593.32 476.48 L594.17 477.84 L594.7 479.2 L595.3 479.2 L595.83 477.84 L596.68 476.48 L597.79 475.13 L599.04 473.77 L600.61 472.41 L602.65 471.05 L604.75 469.7 L606.95 468.34 L609.06 466.98 L611.1 465.62 L613.07 464.27 L614.99 462.91 L616.41 461.55 L617.51 460.19 L618.34 458.84 L618.95 457.48 L619.45 456.12 L619.7 454.76 L619.56 453.41 L619.17 452.05 L618.68 450.69 L617.98 449.33 L617.09 447.97 L616.12 446.62 L615.06 445.26 L613.86 443.9 L612.54 442.54 L611.03 441.19 L609.36 439.83 L607.5 438.47 L605.44 437.11 L603.31 435.76 L601.13 434.4 L599.42 433.04 L597.9 431.68 L596.91 430.33 L596.59 428.97 L596.42 427.61 L596.49 426.25 L596.88 424.89 L597.29 423.54 L597.77 422.18 L598.27 420.82 L598.86 419.46 L599.45 418.11 L599.86 416.75 L600.17 415.39 L600.41 414.03 L600.5 412.68 L600.38 411.32 L600.11 409.96 L599.76 408.6 L599.38 407.25 L598.86 405.89 L598.24 404.53 L597.58 403.17 L596.89 401.82 L596.13 400.46 L595.3 399.1Z" fill="#f98b3a"/>
<path d="M644.3 393 L643.51 394.53 L642.78 396.05 L642.17 397.58 L641.57 399.1 L640.66 400.63 L639.16 402.15 L637.45 403.68 L635.74 405.2 L633.94 406.73 L632.36 408.25 L631.04 409.78 L629.88 411.31 L628.85 412.83 L627.9 414.36 L627.15 415.88 L626.56 417.41 L626.1 418.93 L625.85 420.46 L625.69 421.98 L625.61 423.51 L625.72 425.03 L626.21 426.56 L626.83 428.08 L627.61 429.61 L628.56 431.14 L629.5 432.66 L630.45 434.19 L631.42 435.71 L632.41 437.24 L633.41 438.76 L634.24 440.29 L634.93 441.81 L635.56 443.34 L636.13 444.86 L636.64 446.39 L637.08 447.92 L637.45 449.44 L637.78 450.97 L638.07 452.49 L638.35 454.02 L638.62 455.54 L638.91 457.07 L639.22 458.59 L639.55 460.12 L639.88 461.64 L640.22 463.17 L640.56 464.69 L640.9 466.22 L641.24 467.75 L641.59 469.27 L641.95 470.8 L642.3 472.32 L642.65 473.85 L642.98 475.37 L643.27 476.9 L643.55 478.42 L643.82 479.95 L644.07 481.47 L644.3 483 L644.9 483 L645.13 481.47 L645.38 479.95 L645.65 478.42 L645.93 476.9 L646.22 475.37 L646.55 473.85 L646.9 472.32 L647.25 470.8 L647.61 469.27 L647.96 467.75 L648.3 466.22 L648.64 464.69 L648.98 463.17 L649.32 461.64 L649.65 460.12 L649.98 458.59 L650.29 457.07 L650.58 455.54 L650.85 454.02 L651.13 452.49 L651.42 450.97 L651.75 449.44 L652.12 447.92 L652.56 446.39 L653.07 444.86 L653.64 443.34 L654.27 441.81 L654.96 440.29 L655.79 438.76 L656.79 437.24 L657.78 435.71 L658.75 434.19 L659.7 432.66 L660.64 431.14 L661.59 429.61 L662.37 428.08 L662.99 426.56 L663.48 425.03 L663.59 423.51 L663.51 421.98 L663.35 420.46 L663.1 418.93 L662.64 417.41 L662.05 415.88 L661.3 414.36 L660.35 412.83 L659.32 411.31 L658.16 409.78 L656.84 408.25 L655.26 406.73 L653.46 405.2 L651.75 403.68 L650.04 402.15 L648.54 400.63 L647.63 399.1 L647.03 397.58 L646.42 396.05 L645.69 394.53 L644.9 393Z" fill="#bb84c5"/>
<line x1="595" y1="444.1" x2="595" y2="447" stroke="#333" stroke-width="0.45"/>
<line x1="595" y1="460.2" x2="595" y2="464" stroke="#333" stroke-width="0.45"/>
<rect x="592.2" y="447" width="5.6" height="13.2" fill="none" stroke="#333" stroke-width="0.45"/>
<line x1="592.2" y1="452.1" x2="597.8" y2="452.1" stroke="#333" stroke-width="0.45"/>
<line x1="644.4" y1="410.4" x2="644.4" y2="419.6" stroke="#333" stroke-width="0.45"/>
<line x1="644.4" y1="437" x2="644.4" y2="452" stroke="#333" stroke-width="0.45"/>
<rect x="641.4" y="419.6" width="6" height="17.4" fill="none" stroke="#333" stroke-width="0.45"/>
<line x1="641.4" y1="428.6" x2="647.4" y2="428.6" stroke="#333" stroke-width="0.45"/>
<text x="619.2" y="408.4" font-size="9" text-anchor="middle" font-weight="bold" fill="#333">*</text>
<line x1="368.2" y1="242.6" x2="368.2" y2="323.15" stroke="#6a6a6a" stroke-width="0.9"/>
<line x1="367.75" y1="322.7" x2="475.8" y2="322.7" stroke="#6a6a6a" stroke-width="0.9"/>
<line x1="366.3" y1="245.8" x2="368" y2="245.8" stroke="#222" stroke-width="0.5"/>
<text x="364.4" y="248.3" font-size="7" text-anchor="end" fill="#222">6</text>
<line x1="366.3" y1="260.8" x2="368" y2="260.8" stroke="#222" stroke-width="0.5"/>
<text x="364.4" y="263.3" font-size="7" text-anchor="end" fill="#222">4</text>
<line x1="366.3" y1="275.6" x2="368" y2="275.6" stroke="#222" stroke-width="0.5"/>
<text x="364.4" y="278.1" font-size="7" text-anchor="end" fill="#222">2</text>
<line x1="366.3" y1="290" x2="368" y2="290" stroke="#222" stroke-width="0.5"/>
<text x="364.4" y="292.5" font-size="7" text-anchor="end" fill="#222">0</text>
<line x1="366.3" y1="304.7" x2="368" y2="304.7" stroke="#222" stroke-width="0.5"/>
<text x="364.4" y="307.2" font-size="7" text-anchor="end" fill="#222">−2</text>
<line x1="366.3" y1="319.4" x2="368" y2="319.4" stroke="#222" stroke-width="0.5"/>
<text x="364.4" y="321.9" font-size="7" text-anchor="end" fill="#222">−4</text>
<line x1="391.4" y1="322.6" x2="391.4" y2="324.3" stroke="#222" stroke-width="0.5"/>
<text x="391.4" y="331.6" font-size="7" text-anchor="middle" fill="#222">−5</text>
<line x1="421.8" y1="322.6" x2="421.8" y2="324.3" stroke="#222" stroke-width="0.5"/>
<text x="421.8" y="331.6" font-size="7" text-anchor="middle" fill="#222">0</text>
<line x1="452.5" y1="322.6" x2="452.5" y2="324.3" stroke="#222" stroke-width="0.5"/>
<text x="452.5" y="331.6" font-size="7" text-anchor="middle" fill="#222">5</text>
<text x="421.6" y="341.6" font-size="8.6" text-anchor="middle" fill="#111">UMAP_1</text>
<text transform="translate(354.6,282.6) rotate(-90)" font-size="8.6" text-anchor="middle" fill="#111">UMAP_2</text>
<path d="M394.8 303.59h0M392.21 277.6h0M396.89 289.36h0M375.99 295.16h0M392.12 271.24h0M390.94 306.28h0M391.79 299.03h0M396.43 274.24h0M396.91 289.88h0M393.39 277.63h0M403.66 301.56h0M396.41 304.89h0M382.96 297.16h0M394.77 308.09h0M392.11 277.89h0M384.59 283.31h0M375.45 295.24h0M384.1 303.43h0M398.92 282.54h0M381.18 295.9h0M397.04 300.82h0M382.49 296.74h0M398.75 284.32h0M386.24 306.9h0M382.39 296.61h0M393.68 278.52h0M399.82 283.32h0M402.47 288.52h0M388.98 296.54h0M394.32 281.39h0M394.44 299.49h0M394.8 278.64h0M400.82 286.93h0M399.43 281.66h0M396.18 283.3h0M382.68 275.4h0M380.24 278.18h0M396.45 284.82h0M399.1 278.19h0M404.17 293.12h0M396.17 282.68h0M389.39 272.9h0M396.47 282.51h0M398.41 279.85h0M382.07 295.51h0M392.88 277.7h0M397.2 290.03h0M377.25 294.74h0M379.73 285.33h0M393.75 270.57h0M397.44 284.63h0M378.55 278.64h0M396.89 280.69h0M381.41 306.31h0M403.03 294.07h0M401.48 299.63h0M401.76 301.42h0M397.74 269.78h0M402.52 284.85h0M393.8 307.31h0M394.02 301.58h0M395.76 296.2h0M403.72 298.57h0M391.16 307.24h0M391.59 298.67h0M402.35 275.61h0M394.24 297.37h0M399.9 307.13h0M378.98 284.29h0M396.55 299.5h0M397.26 302.53h0M402.16 277.72h0M398.51 286.99h0M402.46 279.39h0M391.22 301.97h0M394.47 285.05h0M394.64 279.82h0M399.28 306.87h0M385.17 283.54h0M381.32 296.21h0M390.92 270.41h0M402.13 298.05h0M394.96 300.48h0M396.89 271.1h0M398.72 270.47h0M378.9 295.05h0M400.11 298.52h0M384.4 293.22h0M384.67 274.7h0M397.87 281.65h0M383.42 277.11h0M403.09 288.34h0M401.94 300.26h0M387.79 303.76h0M396.07 301.85h0M397.68 296.64h0M377.92 302.4h0M403.03 306.04h0M396.2 287.16h0M397.17 289.78h0M397.9 277.26h0M397.14 284.37h0M401.82 296.92h0M402.35 278.24h0M402.63 287.88h0M389.61 290.35h0M395.87 308.08h0M401.31 298.91h0M391.49 286.96h0M392.5 278.97h0M398.95 279.98h0M381.71 297.5h0M379.53 302.96h0M401.21 299.54h0M399.34 297.18h0M397.4 297.09h0M398.19 290.9h0M393.93 305.27h0M386.06 272.38h0M403.66 290.51h0M397.21 279.6h0M402.75 283.89h0M399.58 273.22h0M393.67 299.67h0M390.66 296.84h0M384.7 306.83h0M401.44 286.31h0M398.9 275.26h0M392.18 272.82h0M395.04 281.33h0M395.64 273.68h0M396.13 301.98h0M395.46 273.6h0M402.65 277.97h0M395.83 302.58h0M378.23 287.4h0M413.95 288.27h0M414.79 292.37h0M411.69 290.36h0M412.88 292.33h0M413.59 294.08h0M413.19 289.4h0M405.69 258.04h0M428.18 290.02h0M448.2 276.52h0M426.41 289.98h0M436.14 301.98h0M449.01 282.19h0M434.61 293.61h0M428.28 299.53h0M440.79 292.99h0M431.08 294.78h0M464.98 279.07h0M427.53 289.31h0M448.92 277.33h0M441.71 272.87h0M436.62 290.02h0M429.66 301.39h0M445.78 275.4h0M434.79 291.56h0M435.61 289.39h0M443.27 288.74h0M459.51 279.92h0M427.53 299.33h0M450.43 274.42h0M431.59 287.75h0M428.92 294.64h0M455.85 271.39h0M449.47 287.14h0M426.16 286.16h0M443.97 280.48h0M464.33 280.97h0M432.25 288.83h0M448.65 280.25h0M462.72 278.27h0M448.82 272.83h0M436.01 303.25h0M432 292.31h0M435.07 294.76h0M440.57 279.19h0M407.9 253.6h0M408.29 254.2h0M408.37 254.08h0M410.41 252.77h0M405 256.65h0M404.4 256.48h0M402.28 257.17h0M405.89 259.78h0M405.17 262.42h0" stroke="#4f7aba" stroke-width="2.6" stroke-linecap="round" fill="none"/>
<path d="M392.95 280.26h0M395.65 272.81h0M392.49 300.16h0M386.72 302.09h0M404.09 301.53h0M402.65 284.66h0M385.57 283.9h0M375.98 294.59h0M378.51 305.08h0M388.11 307.34h0M379.55 277.33h0M396.22 273.52h0M382.61 292.78h0M386.35 303.15h0M385.97 307.05h0M401.05 295.37h0M397.25 289.56h0M377.75 284.87h0M391.63 278.9h0M392.07 277.16h0M398.24 283.6h0M378.24 284.99h0M388.04 307.14h0M401.38 283.85h0M399.24 294.74h0M382.58 295.43h0M387.15 303.65h0M379.14 278.67h0M401.7 288.08h0M399.86 294.86h0M382.24 305.79h0M406.03 293.24h0M390.19 302.38h0M405.51 302.14h0M382.26 295.17h0M378.85 283.92h0M384.51 303.1h0M379.54 288.61h0M378.87 284.5h0M379.85 286.2h0M386.18 276.04h0M384.69 290.25h0M392.05 296.49h0M400.2 307.25h0M378.72 299.66h0M387.87 305.56h0M378.87 280.73h0M381.16 303.66h0M389.08 275.37h0M406.23 297.99h0M376.1 287.21h0M408.77 276.65h0M409.96 286.99h0M397.43 277.35h0M380.47 283.15h0M383.42 301.9h0M397.72 280.86h0M399.31 302.58h0M384.55 283.47h0M380.49 280.77h0M381.9 295.89h0M400.49 298.72h0M389.1 303.14h0M394.58 282.62h0M402.91 303.56h0M380.97 280.71h0M385.86 302.32h0M379.77 287.66h0M379.85 284.82h0M378.9 305.16h0M402.38 284.96h0M388.58 276.43h0M376.06 292.39h0M387.01 302.92h0M410.42 279.08h0M380.94 299.81h0M376.92 293.65h0M400.83 271.01h0M385.18 305.81h0M379.56 297.12h0M383.99 305.3h0M392.54 304h0M385.5 302.38h0M403.2 274.83h0M405.66 289.93h0M398.45 285.74h0M386.36 303.52h0M396.24 277.41h0M385.49 299.86h0M378.6 286.87h0M381.86 285.16h0M386.73 295.54h0M406.33 292.83h0M397.76 275.34h0M376.46 286.63h0M375.8 298.05h0M390.75 302.32h0M388.59 278.18h0M406.22 277.01h0M378.27 297.12h0M381.39 300.66h0M382.94 298.95h0M382.41 298.52h0M381.1 282.38h0M398.39 298.95h0M401.87 295.93h0M375.74 298.79h0M387.36 300.38h0M399.22 270.62h0M399.24 278.52h0M380.92 280.03h0M380.36 285.87h0M382.39 303.57h0M399.21 303.58h0M417.48 295.55h0M410.99 288.34h0M417.41 298.04h0M418.56 296.45h0M414.71 292.15h0M411.47 287.04h0M412.76 290.72h0M423.48 280.05h0M416.75 302.06h0M464.53 279.36h0M414.59 287.84h0M453.58 298.34h0M427.7 279.98h0M436.87 303.23h0M434.45 302.6h0M445.06 284.19h0M466.3 282.04h0M437.47 296.45h0M436.7 287.21h0M447 277.56h0M441.65 299.52h0M435.56 291.74h0M427.32 290.83h0M444.14 297.1h0M453.62 272.36h0M445.5 283.4h0M440.43 289.45h0M441.9 290.11h0M435.99 287.91h0M462.23 281.23h0M466.09 279.36h0M430.61 302.14h0M450.13 285.46h0M456.85 285.62h0M450.94 296.46h0M428 287.99h0M442.45 287.75h0M446.76 275.3h0M445.98 282.39h0M443.49 281.78h0M426.48 289.95h0M444.17 297.86h0M432.9 293.16h0M436.2 286.42h0M447.98 279.35h0M461.56 279.46h0M430.84 297.73h0M443.92 287.57h0M451.05 277.06h0M441.92 296.46h0M442.54 292.65h0M455.14 289.76h0M450.1 276.44h0M431.15 281.14h0M450.55 271.31h0M430.62 309.29h0M429.53 297.88h0M442.39 296.94h0M444.13 283.63h0M455.99 275.12h0M458.08 274.57h0M430.6 294.51h0M426.23 303.48h0M430.64 300.96h0M451.72 275.74h0M456.16 272.34h0M443.98 281.94h0M451.3 270.72h0M429.24 296.31h0M425.66 280.6h0M454.2 278.11h0M459.37 282.87h0M428.94 301.74h0M457.87 279.45h0M435.8 295.22h0M445.11 289.17h0M443.47 277.45h0M454.27 290.52h0M437.62 296.36h0M451.49 271.28h0M455.76 282.86h0M448.92 295.93h0M459.81 274.8h0M425.49 279.79h0M437.11 278.91h0M455.87 274.59h0M432.07 303.05h0M429.03 309.86h0M433.09 303.01h0M436.7 292.73h0M447.53 275.68h0M444.33 287.28h0M429.88 289.5h0M429.04 303.05h0M451.79 268.83h0M443.44 290.3h0M431.1 310.52h0M437.34 301.73h0M426.91 280.22h0M464.47 287h0M444.43 285.09h0M428.01 305.52h0M458.76 280.08h0M459.72 277.67h0M430.99 304.01h0M428.92 293.07h0M464.98 281.54h0M441.58 279.07h0M442.07 297.37h0M433.14 315.42h0M434.03 293.13h0M439.73 285.25h0M452.18 288.9h0M447.65 301.38h0M429.92 287.76h0M459.15 269.73h0M445.18 272.95h0M449.18 289.77h0M427.13 294.02h0M392.35 298.85h0M408.8 254.13h0M409.47 252.38h0M408.21 251.53h0M408.55 252.72h0M399.91 258.56h0M403.81 256.68h0M400.99 257.33h0M401.18 256.57h0M401.52 255.91h0M405.13 260.67h0M404.57 262.03h0M406.23 260h0M410.5 260.36h0" stroke="#6876ae" stroke-width="2.6" stroke-linecap="round" fill="none"/>
<path d="M381.52 303.05h0M388.89 305.85h0M388.9 306.51h0M388.83 301.81h0M388.36 307.95h0M376.2 295.14h0M387.34 301.2h0M388.53 272h0M389.42 296.28h0M392.22 277.3h0M379.25 285.18h0M388.45 303.38h0M382.97 297.87h0M393.12 278.6h0M377.83 294.92h0M378.03 303.21h0M380.35 278.17h0M388.5 303.63h0M390.55 300.88h0M391.76 272.36h0M385.86 283.06h0M382.66 275.83h0M379.15 301.79h0M387.01 305.17h0M386.7 304.23h0M379.95 306.14h0M379.49 288.56h0M385.6 301.46h0M381.37 289.47h0M378.96 305.79h0M377.24 295.58h0M387.95 295.89h0M392.54 307.42h0M378.83 305.45h0M388.38 302.67h0M407.29 294.51h0M389.11 301.69h0M390.7 280.2h0M379.98 302.6h0M391.94 298.05h0M392.68 304.49h0M389.49 282.35h0M405.29 293.11h0M382.2 293.03h0M385.68 297.19h0M396.18 293.8h0M379.11 283.75h0M383.05 302.23h0M391.12 273.27h0M399.01 293.82h0M391.8 297.62h0M391.32 295.14h0M379.12 291.73h0M384.99 301.65h0M386.61 307.45h0M386.37 272.31h0M386.27 300.17h0M378.78 287.76h0M390.83 298.32h0M389.88 307.64h0M406.33 297.58h0M407.57 292.32h0M396.82 279.78h0M386.74 302.53h0M377.3 294.78h0M388.03 277.1h0M389.8 296.94h0M385.39 296.53h0M378.56 305.25h0M410.44 288.7h0M416.42 298.03h0M412.96 292.02h0M417.33 298.97h0M412.84 287.79h0M411.23 291.48h0M410.64 288.34h0M414.78 293.6h0M412.21 290.08h0M419.29 298.94h0M418.19 289.95h0M434.65 294.42h0M438.3 306.42h0M440.52 287.13h0M429.75 314.64h0M435.62 289h0M444.83 310.75h0M444.91 283.72h0M431.5 294.41h0M437.49 287.84h0M443.57 298.08h0M445.85 276.15h0M451.75 296.01h0M436.88 306.4h0M441.94 299.49h0M443.67 287.95h0M456.95 284.94h0M448.33 282.07h0M447.79 288.04h0M464.86 282.6h0M457.71 277.3h0M449.45 272h0M430.03 284.04h0M460.12 287.87h0M430.78 305.95h0M446.33 270.94h0M450.74 275.3h0M450.76 277.54h0M428.06 278.34h0M424.81 267.63h0M448.23 287.93h0M437.34 286.86h0M455.54 286.21h0M449.21 276.41h0M431.4 292.07h0M443.39 280.32h0M432.24 292.23h0M429.2 300.94h0M459.37 286.73h0M427.06 297.06h0M461.07 279.51h0M451.12 271.94h0M441.91 297.54h0M442.36 299.19h0M427.52 289.97h0M428.16 310.82h0M446.51 278.84h0M446.63 292.58h0M456.37 276.91h0M445.49 276.32h0M425.14 315.51h0M459.57 273.3h0M443.3 296.61h0M457.38 283.42h0M458.57 274.27h0M451.34 268.82h0M426.48 289.28h0M429.27 290.16h0M451.56 269.82h0M428.02 292.05h0M434.53 293.99h0M435.86 306.39h0M429.52 310.16h0M459.98 276.16h0M439.9 294.12h0M441.48 288.47h0M442.29 305.28h0M444.74 296.82h0M443.12 289.96h0M429.72 269.31h0M431.44 308.55h0M437.61 290.33h0M441.8 277.25h0M453.26 281.64h0M457.64 280.75h0M432.13 297.67h0M463.2 281.72h0M431.46 304.8h0M434.88 300.69h0M431.77 275.85h0M444.96 282.95h0M440.83 298.2h0M427.97 274.77h0M466.22 284.21h0M458.99 275.41h0M432.48 308.03h0M451.98 268.62h0M458.07 285.17h0M435.51 288.56h0M432.23 307.58h0M456.91 270.72h0M448.37 269.98h0M456.64 268.53h0M432.68 301.71h0M450.63 271.99h0M438.34 300.76h0M426.52 287.95h0M432.16 297.71h0M430.63 287.08h0M434.75 293.94h0M449.84 280.3h0M444.28 270.61h0M444.79 281.32h0M426.37 301.32h0M427.28 317.91h0M434.53 317.08h0M453.85 307.75h0M439.26 299.17h0M433.82 297.97h0M445.69 281.49h0M442 274.58h0M438.79 282.82h0M444.33 271.47h0M432.61 291.02h0M432.99 304.2h0M445.49 282.9h0M427.76 318.23h0M453.72 292.47h0" stroke="#7a72a3" stroke-width="2.6" stroke-linecap="round" fill="none"/>
<path d="M379.43 278.1h0M464.66 282.27h0M447.68 275.52h0M437.08 288.88h0M448.61 287.25h0M441.85 289.36h0M445.8 287.79h0M441.33 291.8h0M443.29 287.96h0M437.22 306.54h0M459.07 286.62h0M454.66 291.09h0M439.47 309.38h0M451.44 271.62h0M450.59 270.23h0M445.76 281.79h0M455.54 288.24h0M444.85 287.01h0M457.51 295.43h0M441.35 287.22h0M430.28 271.58h0M442.83 273.67h0M458.47 291.35h0M442.19 289.07h0M458.93 274.91h0M437.31 301.78h0M455.22 293.51h0M457.66 286.65h0M437.16 305.75h0M436.29 306.97h0M458.44 284.74h0M437.57 297.11h0M432.23 312.47h0M435.19 302.62h0M446.55 288.07h0M451.83 300.78h0M444.97 273.08h0M437.57 309.04h0M458.88 295.47h0M449.38 277.96h0M437.87 291.58h0M447.44 276.35h0M451.93 284.37h0M444.85 305.85h0M432.61 306.08h0M437.13 288.13h0M424.58 267.63h0M441.36 304.17h0M445.07 280.14h0M464.05 283.36h0M462.4 287.25h0M440.95 279.24h0M449.56 284.42h0M449.04 270.82h0M442.27 307.25h0M424.76 270.84h0M434.92 305.34h0M448.69 305.23h0M439.54 292.44h0M447.93 279.37h0M437.07 295.58h0M441.51 283.78h0M447.17 306.43h0M450.03 289.04h0M446.85 290.2h0M450.36 283.01h0M433.38 271.99h0M455.65 280.31h0M460.04 295.65h0M456.24 277.91h0M436 304.68h0M425.8 306.78h0M445.75 279.22h0M440.72 303.72h0M439.15 286.63h0M443.69 295.94h0M452.48 283.39h0" stroke="#896e97" stroke-width="2.6" stroke-linecap="round" fill="none"/>
<path d="M406.4 295.69h0M416.83 298.37h0M444.46 291.77h0M448.49 286.69h0M428.52 308.89h0M438.2 291.64h0M442.48 298.76h0M430.32 312.18h0M453.08 300.94h0M441.95 290.69h0M425.24 271.72h0M441.07 299.16h0M459.05 289.93h0M446 307.75h0M442.1 289.56h0M440.54 289.87h0M431.6 317.77h0M446.51 309.31h0M443.58 291.45h0M429.24 317.5h0M453.94 292.21h0M442.08 299.69h0M452.39 314.53h0M456.92 300.94h0M430.08 275.28h0M428.52 307.21h0M447.82 297.24h0M443.52 294.81h0M430.2 272.11h0M457.24 297.9h0M429.9 274.33h0M448.92 296.79h0M423.74 316.49h0M447 292.42h0M430.8 308.42h0M459.56 299.4h0M450.92 313.82h0M449.1 291.74h0M447.73 313.42h0M444.79 294.44h0M458.62 310.32h0M461.97 287.5h0M430.26 308.33h0" stroke="#96698c" stroke-width="2.6" stroke-linecap="round" fill="none"/>
<path d="M383.74 272.04h0M440.41 309.15h0M425.01 310.77h0M453.41 300.76h0M443.08 299.62h0M454.39 293.64h0M459.68 289.89h0M449.43 299.69h0M423.92 312.1h0M444.82 310.46h0M426.48 308.41h0M439.56 309.17h0M450.67 293.66h0M437.07 304.29h0M456.26 289.08h0M425.28 266.72h0M444.58 315.09h0M446.17 311.19h0M427.49 311.08h0M434.01 313.99h0M432.23 317.22h0M423.05 310.73h0M448.94 289.89h0M443.41 310.33h0M435.22 310.37h0M448.22 310.57h0M460.82 296.56h0M450.51 304.51h0M452.85 298.57h0M427.8 311.85h0M435.55 306.93h0M430.78 270.11h0M451.09 307.81h0M459.75 308.94h0M437.75 305.68h0M428.92 271.6h0M440.67 301.51h0" stroke="#a16480" stroke-width="2.6" stroke-linecap="round" fill="none"/>
<path d="M432.11 311.1h0M458.71 290.76h0M454.53 296.6h0M427.24 316.33h0M428.73 271.23h0M427.34 272.82h0M458.89 292.03h0M450.62 298.16h0M455.4 299.94h0M453.66 314.47h0M424.42 267.78h0M450.69 313.78h0M450.17 305.6h0" stroke="#ab5f75" stroke-width="2.6" stroke-linecap="round" fill="none"/>
<path d="M427.11 313.79h0M453.73 304.36h0M444.62 309.02h0M444.94 307.62h0M458.22 295.47h0M442.47 309.59h0M448.3 298.39h0M427.42 270.71h0M424.47 267.45h0M454.36 303.73h0M455.42 300.27h0M455.49 296.48h0M444.78 315.62h0M425.62 270.89h0M450.26 301.8h0M428.86 315.28h0M430.54 313.74h0M446.29 304.92h0M424.89 315.37h0M443.93 304.42h0" stroke="#b45a6a" stroke-width="2.6" stroke-linecap="round" fill="none"/>
<path d="M442.03 309.56h0M450.5 300.41h0M453.77 304.72h0M450.8 300.28h0M427.8 316.69h0" stroke="#bc545f" stroke-width="2.6" stroke-linecap="round" fill="none"/>
<path d="M442.64 315.38h0M446.01 305.8h0M456.19 299.8h0M456.45 299.18h0M455.79 301.96h0M451.4 313.12h0M452.81 307.53h0" stroke="#c34d54" stroke-width="2.6" stroke-linecap="round" fill="none"/>
<path d="M440.82 315.48h0M445.73 309.34h0M447.9 313.16h0M449.88 308.04h0M452.95 313.32h0M455.93 314.21h0" stroke="#ca4649" stroke-width="2.6" stroke-linecap="round" fill="none"/>
<path d="M443.22 310.27h0M448.39 308.99h0M445.72 310.27h0M458.96 312.62h0" stroke="#d13d3e" stroke-width="2.6" stroke-linecap="round" fill="none"/>
<path d="M453.66 316.04h0" stroke="#d73332" stroke-width="2.6" stroke-linecap="round" fill="none"/>
<path d="M451.55 313.66h0M449.71 311.73h0" stroke="#dd2726" stroke-width="2.6" stroke-linecap="round" fill="none"/>
<path d="M390.58 271.78h0M389.81 297.38h0M393.58 299.81h0M398.01 280.75h0M395.43 272.27h0M402.43 287.96h0M379.81 283.77h0M378.67 298.91h0M398.57 285.68h0M403.15 300.52h0M392.68 306.74h0M398.42 281.63h0M393.21 273.41h0M389.55 274.89h0M376.92 294.83h0M403.57 292.86h0M387.64 305.99h0M386.15 283.87h0M394.31 306.06h0M381.58 275.46h0M402.85 303.39h0M400.52 286.67h0M392.68 306.11h0M396.95 273.43h0M401.01 288.46h0M396.6 289.69h0M397.95 308.22h0M399.9 287.34h0M386.58 303.53h0M388.06 297.41h0M397.17 289.19h0M383.3 282.92h0M394.06 278.69h0M393.21 299.44h0M378.33 285.18h0M399.49 307.9h0M393.8 279.71h0M398.66 279.62h0M391.77 299.93h0M395.93 308.18h0M400.39 288.3h0M396.56 274.67h0M402.45 292.57h0M378.3 302.3h0M387.15 303.33h0M378.12 301.78h0M399.44 282.82h0M400.54 282.94h0M408.13 283.74h0M396.62 272.08h0M375.67 294.34h0M379.9 305.34h0M401.71 299.1h0M396.47 280.65h0M403.38 281.48h0M382.36 285.45h0M386.03 303.97h0M401.85 299.71h0M402.55 296.85h0M401.31 301.51h0M400.34 275.01h0M378.99 294.35h0M394.79 307.29h0M400.25 285.29h0M402.43 278.06h0M394.73 280.58h0M398.15 280.18h0M395.93 303.67h0M394.38 307.41h0M387.36 297.94h0M395.53 274.95h0M402.46 276.61h0M403.46 287.47h0M394.53 305.45h0M402.74 305.13h0M403.73 289.69h0M396.53 274.7h0M397.95 284.12h0M403.15 292.01h0M395.5 271.84h0M376.69 294.14h0M399.07 292.96h0M392.95 277.46h0M401.45 306.43h0M407.02 294.26h0M387.23 300.64h0M387.46 302.61h0M399.98 279.65h0M403.29 274.24h0M390.87 297.05h0M399.08 275.9h0M402.94 283.3h0M383.45 286.61h0M397.92 270.31h0M398.6 286.33h0M387.42 275.19h0M394.73 291.65h0M401.38 307.2h0M401.04 273.82h0M392.84 308.46h0M393.96 277.41h0M390.36 279.58h0M380.69 290.79h0M404.54 287.74h0M402.56 276.4h0M385.2 301.47h0M376.93 299.44h0M399.32 292.29h0M400.78 297.78h0M397.91 299.41h0M391.3 271.14h0M381.91 295.44h0M405.11 290.01h0M400.3 281.61h0M398.5 291.25h0M400.48 289.76h0M381.31 292.07h0M399.48 292.58h0M385.88 293.71h0M400.02 301.96h0M389.85 304.71h0M401.07 302.23h0M398.21 295.96h0M389.2 290.63h0M394.37 308.56h0M391.57 299.75h0M390.86 298.21h0M395.22 297.24h0M380.88 293.1h0M394.62 294.85h0M381.94 292.11h0M386.19 272.93h0M402.58 306.13h0M414 294.04h0M417.4 297.47h0M412.94 292.03h0M414.26 295.79h0M411.91 289.44h0M403.77 266.04h0M396.32 269.2h0M446.24 279.43h0M455.02 275.76h0M459.22 274.11h0M436.79 288.98h0M430.76 290.21h0M458.83 277.19h0M431.91 298.08h0M459.4 274.59h0M456.07 282.94h0M430.97 294.85h0M446.47 282.45h0M438.39 287.04h0M430.86 299.77h0M449.75 277.68h0M431.49 280.48h0M426.5 286.46h0M461.19 284.55h0M430.56 293.15h0M425.84 278.08h0M455.48 273.82h0M431.14 293.75h0M433.61 297.17h0M428.41 282.07h0M430.27 287.91h0M458.63 275.09h0M457.13 275h0M427.44 288.88h0M427.7 296.51h0M461.66 277.28h0M430.95 304.25h0M462.99 287.04h0M407.58 253.56h0M408.15 251.36h0M399.91 257.04h0M402.94 256.43h0M405.18 256.62h0M399.82 258.07h0M401.53 256.88h0M403.14 265.27h0M405.68 260.61h0" stroke="#4f7aba" stroke-width="2.6" stroke-linecap="round" fill="none"/>
<path d="M402.61 293.4h0M379.65 295.98h0M381.65 277.98h0M395.54 304.83h0M380.37 285.3h0M398.17 300.1h0M398.16 307.6h0M378.93 295.41h0M393 300.13h0M396.25 280.89h0M400.82 289.04h0M375.76 295.19h0M378.49 296.85h0M392.63 272.54h0M391.13 278.36h0M388.22 302.35h0M380 290.11h0M377.11 285.48h0M382.89 304.08h0M409.31 284.16h0M392.02 298.47h0M402.02 287.88h0M396.27 308.75h0M389.84 297.41h0M388.21 306.73h0M376.62 294.63h0M393.34 278.42h0M379.48 278.19h0M392.23 274.02h0M384.14 274.13h0M400.73 288.04h0M403.58 293.56h0M397.91 300.3h0M392.62 299.88h0M382.07 275.41h0M402.1 293.57h0M404.97 292.6h0M393.81 279.68h0M378.63 297.31h0M382.81 301.24h0M375.85 296.01h0M379.55 294.97h0M392.52 272.52h0M394.46 272.96h0M382.58 291.95h0M389.42 302.04h0M395.08 286.87h0M381.54 290.73h0M376.4 295.34h0M384.52 286.54h0M377.75 297.44h0M381.68 305.87h0M380.02 290.01h0M407.45 296.35h0M377.69 299.44h0M399.41 285.63h0M392.36 283.07h0M398.92 307.28h0M405.31 289.46h0M382.68 296.48h0M393.59 275.55h0M376.95 294.04h0M390.52 299.53h0M392.65 270.01h0M387.97 278.7h0M405.71 280.41h0M405.75 296.88h0M385.75 271.64h0M410.74 281.84h0M388.06 304.88h0M397.96 275.49h0M382.19 275.09h0M384.79 283.94h0M385.63 293.7h0M398.58 302.95h0M386.24 306.97h0M405.35 301.56h0M390.78 274.66h0M377.77 294.15h0M379.09 299.65h0M403.53 274.97h0M398.77 300.01h0M394.67 280.84h0M383.64 287.3h0M391.09 290.84h0M405.08 292.54h0M397.73 294.1h0M391.36 307.6h0M379.69 281.06h0M394.89 288.4h0M383.81 274.58h0M408.54 292.23h0M381.43 278.05h0M394.79 269.81h0M383.82 305.59h0M378.57 303.06h0M384.17 305.72h0M381.68 296.13h0M389.58 297.61h0M381.61 288.94h0M384.08 306.72h0M379.54 285.08h0M388.04 278.11h0M377.33 287.02h0M378.77 305.03h0M378.48 297.94h0M383.88 280.48h0M383.95 283.71h0M389.13 296.15h0M391.04 306.49h0M378.84 282.75h0M382.08 276.01h0M404.45 289.63h0M399.17 306.05h0M380.36 275.98h0M398.49 305.03h0M408.04 294.89h0M391.66 273.9h0M415.92 298.59h0M417.65 297.66h0M416.55 292.88h0M416.81 294.04h0M417.88 293.81h0M414.49 296.74h0M412.33 290.81h0M414.24 289.18h0M417.76 299.35h0M415.79 297.15h0M414.27 294.37h0M416.09 291.88h0M422.7 294.74h0M423.06 300.32h0M420.72 317.22h0M421.2 297.84h0M450.75 272.31h0M458.02 277.03h0M436.73 302.34h0M451.61 277.5h0M451.34 272.85h0M457.33 284.65h0M427.67 290.81h0M431.87 293.8h0M449.54 287.47h0M461.22 274.9h0M455.67 291.34h0M442.5 289.11h0M446.84 294.27h0M435.81 295.06h0M444.97 272.17h0M428.01 287.95h0M432.34 293.56h0M450.7 273.57h0M461.15 280.7h0M443.04 283.64h0M427.83 309.22h0M456.68 274.02h0M451.98 272.98h0M435.2 289.7h0M435.23 288.18h0M434.13 295.76h0M447.46 278.24h0M429.89 298.81h0M433.66 292.7h0M453.23 291.5h0M441.67 299.34h0M428.22 288.49h0M432.86 292.3h0M457.45 284.59h0M431.22 298.77h0M436.3 303.01h0M456.4 275.43h0M459.91 274.59h0M427.85 296.39h0M436.32 288.79h0M431.1 297.89h0M427.47 299.36h0M431.95 298.13h0M427.62 271.01h0M456.54 285.5h0M431.69 293.35h0M446.88 291.18h0M441.85 299.52h0M436.56 288.81h0M432.13 292.27h0M428.11 292.11h0M435.68 289.07h0M452.67 288.95h0M424.61 312.07h0M456.82 275.58h0M447.27 279.97h0M457.33 285.35h0M427.21 302.26h0M443.61 297.23h0M429.88 283.77h0M428.58 292.1h0M431.64 292.15h0M449.15 302.93h0M454.69 275.77h0M429.31 287.55h0M457.41 281.1h0M426.41 285.85h0M429.12 303.92h0M428.58 292.31h0M449.1 271.16h0M446.91 289.66h0M447.14 291.73h0M441.52 302.4h0M443.41 277.33h0M456.04 282.06h0M436.5 273.01h0M425.99 305.13h0M432.87 285.86h0M460.34 277.4h0M434.86 311.57h0M450.18 292.62h0M462.24 287.17h0M462.62 280.4h0M431.05 294.84h0M445.44 273.78h0M441.96 280.22h0M429.99 291.52h0M425.16 308.44h0M460.71 275.84h0M436.51 290.88h0M431.62 302.5h0M434.67 307.08h0M436.93 295.45h0M451 271.62h0M441.72 288.08h0M448.9 282.23h0M447.91 283.93h0M427.01 295.16h0M428.78 294.27h0M451.12 276.06h0M453.53 273.07h0M439.18 294.34h0M443.61 288.46h0M429.38 311.94h0M459.6 279.22h0M429.08 311.84h0M449.61 286.68h0M428.29 281.21h0M428.09 283.56h0M456.27 283.93h0M459.59 273.51h0M419.94 296.32h0M409.2 254.47h0M409.56 251.12h0M409.42 254.91h0M409 253.04h0M407.89 252.31h0M408.07 252.99h0M400.16 256.79h0M400.7 256.32h0M400.23 258.06h0M406.11 258.97h0M406.48 261.12h0M403.79 263.57h0M405.72 261.88h0M407.77 259.99h0M408.58 256.57h0M408.58 261.62h0" stroke="#6876ae" stroke-width="2.6" stroke-linecap="round" fill="none"/>
<path d="M392.95 281.32h0M375.74 294.35h0M386.4 302.7h0M377.81 296.89h0M388.57 304.26h0M407.59 275.64h0M404.62 300.76h0M391.27 278.25h0M379.17 299.99h0M392.42 277.81h0M382.26 273.51h0M392.94 299.26h0M393.35 307.38h0M387.08 302.76h0M381.08 289.34h0M392.33 270.23h0M387.65 306.04h0M378.46 284.56h0M387.01 302.16h0M384.58 298.83h0M392.45 272.35h0M389.75 275.06h0M393.41 280.46h0M407.02 295.03h0M382.39 306.86h0M391.91 278.62h0M390.37 274.56h0M383.77 295.87h0M390.01 299.44h0M376.97 287.15h0M380.32 294.34h0M392.58 306.71h0M384.56 282.24h0M390.89 298.13h0M378.52 289.3h0M375.92 292.43h0M389.4 304.31h0M384.8 303.56h0M375.24 295.4h0M378.65 291.68h0M377.26 299.9h0M377.89 303.57h0M383.07 281.81h0M387.47 302.29h0M384.29 289.22h0M402.79 306.39h0M384.46 272.3h0M393.28 307.66h0M392.88 299.79h0M381.28 306.39h0M411.83 283.22h0M384.31 272.45h0M392.86 277.3h0M379.98 283.36h0M389.65 298.68h0M386.15 296.36h0M393.19 306.23h0M416.69 297.15h0M416.35 295.5h0M415.62 296.02h0M416.3 292.86h0M418 297.28h0M412.13 291.31h0M415.76 291.39h0M416.75 282.58h0M423.9 285.74h0M436.86 302.85h0M466.15 281.4h0M428.97 291.98h0M435.56 289.3h0M436.6 291.08h0M447.99 297.88h0M446.52 283.01h0M433.33 292.64h0M457.7 275.68h0M450.91 276.93h0M447.94 282.4h0M436.78 290.63h0M449.12 287.03h0M426.52 300.86h0M453.09 271.71h0M434.91 303.36h0M431.56 299.7h0M443.16 273.36h0M446.86 284.34h0M456.71 277.09h0M424.66 271.78h0M445.36 281.28h0M436.37 305.81h0M426.94 290.05h0M430.44 298.91h0M443.56 288.45h0M451.68 269.61h0M455.25 268.3h0M442.16 273.48h0M456.67 277.1h0M449.5 276.83h0M428 295.48h0M459.92 279.81h0M432.84 292.19h0M443.96 287.94h0M441.51 282.6h0M436.4 306.64h0M436.3 302.27h0M443.88 283.23h0M441.14 285.78h0M429.45 302.28h0M427.91 313.12h0M429.76 289.44h0M426.98 288.17h0M447.5 276.49h0M443.14 290.03h0M458.93 274.29h0M440.5 298.93h0M455.75 281.83h0M426.98 308.89h0M442.1 290.94h0M447.34 282.9h0M440.67 293.04h0M427.4 311.42h0M448.52 276.9h0M447.55 291.93h0M458.81 288.48h0M433.28 300.66h0M438.53 279.78h0M432.66 299.22h0M450.38 296.11h0M443.58 282.51h0M428.59 318.3h0M451.99 295.6h0M456.43 292.52h0M442.05 287.64h0M450.94 281.7h0M429.6 287.21h0M437.42 307.27h0M427.71 288.05h0M428.15 312.71h0M441.41 297.14h0M438.84 298.04h0M451.7 281.15h0M442.37 289.2h0M451.78 297.94h0M456.29 310.47h0M458.73 278.64h0M436.74 299.18h0M459.38 275.58h0M426.28 286.94h0M428.83 291.89h0M442.51 300.68h0M455.75 293.12h0M454.96 279.14h0M431.39 302.47h0M434.81 289.57h0M431.36 277.9h0M460.36 273.3h0M430.59 276.36h0M427.66 302.38h0M455.57 315.41h0M429.43 277.91h0M451.16 274.17h0M433.15 273.96h0M454.33 280.35h0M434.15 272.38h0M430.34 272.64h0M443.77 283.33h0M425.58 276.36h0M428.32 298.95h0M452.44 269.32h0M429.13 304.63h0M425.47 305.73h0M410.74 256.46h0M415.85 285.31h0" stroke="#7a72a3" stroke-width="2.6" stroke-linecap="round" fill="none"/>
<path d="M398.32 278.63h0M384.13 276.43h0M395.49 272.4h0M447.25 292h0M438.8 287.93h0M447.24 290.96h0M457.51 275.99h0M430.63 273.46h0M465.46 280.86h0M455.86 312.96h0M457.19 275.12h0M443.45 273.22h0M446.38 291.6h0M450.83 309.99h0M458.35 285.65h0M451.09 278.78h0M452.77 299.17h0M456.42 288.13h0M455.2 290.47h0M457.55 284.4h0M451.23 277.09h0M459.64 274.1h0M447.69 290.57h0M441.88 290.92h0M430.95 311.94h0M436.66 303.33h0M431.56 308.07h0M455.7 289.7h0M448.21 272.73h0M462.51 276.11h0M440.52 298.9h0M457.79 276.09h0M445.23 286.96h0M452.55 304.08h0M436.28 293.11h0M445.01 305.09h0M447.49 276.84h0M444.92 287.14h0M446.91 289.46h0M458.53 306.76h0M436.85 296.11h0M448.77 271.64h0M460.85 274.69h0M443.23 289.39h0M449.47 273.27h0M435.94 305.29h0M442.82 298.94h0M454.31 280.97h0M442.03 288.17h0M456.03 268.69h0M446.85 283.99h0M449.02 292.55h0M450.79 298.4h0M439.95 310.99h0M430.18 271.59h0M451.56 284.23h0M453.26 276.62h0M442.86 281.59h0M426.06 306.96h0M453.6 280.98h0M441.08 286.05h0M439.31 298.13h0M462.56 284.4h0M453.44 271.75h0M450.92 287.12h0M430.96 311.29h0M439.91 291.7h0M459.91 296.66h0M463.21 284.4h0M431.83 309.62h0M450.22 293.51h0M447.84 284.11h0M449.19 291.13h0M437.17 274.34h0M446.22 276.52h0M439.59 291.75h0M435.08 271.86h0M439.75 285.52h0M456.48 277.52h0M450.23 295.47h0M408.94 253.06h0" stroke="#896e97" stroke-width="2.6" stroke-linecap="round" fill="none"/>
<path d="M384.55 272.88h0M375.89 295.11h0M380.49 286.46h0M458.16 290.59h0M431.11 314.31h0M446.62 308.6h0M430.71 272.71h0M437.92 305.21h0M441.92 289.22h0M428.31 276.79h0M453.46 291.04h0M442.44 297.64h0M448.25 309.35h0M431.38 311.67h0M452.11 314.04h0M430.2 307.46h0M443.86 291.88h0M457.78 290.06h0M440.59 287.4h0M453.21 291.78h0M426.36 271.72h0M442.13 298.08h0M444.17 296.39h0M441.75 315.83h0M426.77 270.84h0M428.29 269.35h0M441.92 292.19h0M436.45 309.81h0M465.7 285.27h0M437.84 301.56h0M448.03 290.81h0M455 293.71h0M446.95 311.72h0M447.09 289.2h0M445.92 311.87h0M445.08 304.16h0M428.19 268.55h0M430.01 274.33h0M448.56 295.73h0M460.14 301.28h0M432.75 308.31h0M443.6 292.53h0" stroke="#96698c" stroke-width="2.6" stroke-linecap="round" fill="none"/>
<path d="M442.76 296.84h0M441.39 300.58h0M440.13 307.74h0M453.35 305.79h0M424.8 314.73h0M447.31 293.39h0M451.2 303h0M438.41 305.05h0M455.43 288.51h0M440.83 315.73h0M445.35 308.87h0M426.5 271.03h0M426.59 312.62h0M440.91 314.79h0M457.47 289.75h0M456.1 310h0M424 268.32h0M444.25 295.69h0M460.07 296.73h0M456.67 312.85h0M441.78 310.09h0M425.21 312.4h0M426.7 313.15h0M434.07 309.6h0M439.64 316.24h0" stroke="#a16480" stroke-width="2.6" stroke-linecap="round" fill="none"/>
<path d="M440.03 308.82h0M444.97 306.96h0M449.96 311.36h0M453.84 295.26h0M460.21 307.74h0M456.37 292.32h0M454.13 299.83h0M451.08 296.76h0M445.98 310.32h0M460.73 295.29h0M455.11 303.67h0M449.13 312.07h0M449.45 293.86h0M431.14 312.54h0M425.09 317.69h0M438.39 307.77h0M455.34 297.35h0M444.96 296.24h0M452.06 301.1h0M451.97 308.49h0M457.54 290.2h0M454.3 292.44h0M455.78 290.95h0M438.67 313.39h0" stroke="#ab5f75" stroke-width="2.6" stroke-linecap="round" fill="none"/>
<path d="M426.94 313.57h0M459.19 302.4h0M439.44 309.16h0M448.92 299.62h0M458.02 302.69h0M426.69 269.55h0M428.25 316.73h0M460.07 297.26h0M426.16 269.29h0M444.97 306.56h0M439.41 310.52h0M430.86 315.5h0M429.11 317.14h0M436.63 310.07h0" stroke="#b45a6a" stroke-width="2.6" stroke-linecap="round" fill="none"/>
<path d="M450.66 300.59h0M445.16 310.19h0M451.79 311.95h0M454.26 298.46h0M439.39 315.4h0M456.73 297.64h0" stroke="#bc545f" stroke-width="2.6" stroke-linecap="round" fill="none"/>
<path d="M447.4 310.3h0M445.33 310.58h0M449.86 304.87h0M451.84 310.75h0M459.69 299.3h0M452.89 314.15h0M456.55 306.71h0" stroke="#c34d54" stroke-width="2.6" stroke-linecap="round" fill="none"/>
<path d="M443.58 310.2h0M442.99 308.85h0M442.29 311.45h0" stroke="#ca4649" stroke-width="2.6" stroke-linecap="round" fill="none"/>
<path d="M449.85 309.9h0M447.13 308.75h0" stroke="#d13d3e" stroke-width="2.6" stroke-linecap="round" fill="none"/>
<path d="M446.68 310.31h0M458.32 305.31h0M457.59 312.33h0" stroke="#d73332" stroke-width="2.6" stroke-linecap="round" fill="none"/>
<path d="M460.46 305.86h0M448.37 313.8h0" stroke="#dd2726" stroke-width="2.6" stroke-linecap="round" fill="none"/>
<path d="M393.09 297.91h0M399.69 282.41h0M377.98 294.3h0M403.16 301.26h0M403.29 285.21h0M398.24 298.81h0M378.44 283.87h0M377 294.86h0M397.36 278.24h0M399.25 286.35h0M395.27 273.44h0M386.28 306.99h0M397.17 288h0M402.58 283.95h0M397.32 288.98h0M400.13 283.49h0M380.17 285.59h0M386.93 301.25h0M388.33 306.17h0M389.17 302.65h0M384.58 292.4h0M377.56 302.3h0M394.25 308.19h0M393.93 274.5h0M403.74 292.53h0M399.06 289.3h0M399.82 282.87h0M402.75 285.6h0M401.93 293.06h0M381.31 291.34h0M387.27 296.49h0M395.54 273.52h0M393.81 306.32h0M398.48 306.23h0M393.94 278.31h0M396.61 282.15h0M394.82 279.64h0M394.64 272.24h0M380.27 284.31h0M377.1 293.89h0M378.74 285.47h0M396.9 307.09h0M388.39 303.78h0M401.67 289.37h0M395.26 289.91h0M384.34 301.63h0M394.91 278.99h0M378.61 296.64h0M400.7 288.63h0M405.13 292.82h0M389.42 296.04h0M397.47 280.67h0M378.45 295.82h0M389.54 274.07h0M392.77 278.55h0M393.98 271.68h0M385.87 302.34h0M403.62 293.85h0M396.59 280.61h0M389.26 303.67h0M395.32 293.51h0M400.1 281.87h0M399.9 278.78h0M396.06 293.14h0M387.75 295.08h0M380.32 285.06h0M402.93 290.48h0M401.59 284.39h0M387.62 303.42h0M397.69 277.46h0M383.69 285.94h0M396.71 298.58h0M395.83 292.72h0M399.59 291.44h0M399.87 274.85h0M395.6 300.17h0M390.31 301.62h0M380.4 295.02h0M396 287.02h0M379.11 283.53h0M393.69 273.26h0M395.47 278.71h0M400.56 283.69h0M403.91 294.57h0M395.19 291.56h0M397.86 288.36h0M383.57 282.71h0M403.04 302.16h0M395.14 271.69h0M395.42 292.67h0M375.76 293.53h0M378.73 293.33h0M399.04 289.73h0M397.45 301.4h0M404.16 303.14h0M392.3 301.84h0M388.85 298.53h0M395.88 285.42h0M402.6 306.37h0M398.19 296.75h0M397.6 273.48h0M396.44 303.32h0M402.84 305.15h0M385.17 298.24h0M400.22 271.61h0M398.42 286.99h0M386.74 302.79h0M377.66 299.8h0M379.79 280.51h0M382.9 300.11h0M382.27 286.31h0M392.93 299.31h0M404.51 298.73h0M400.34 282.24h0M401.83 275.02h0M403.77 287.63h0M406.91 291.41h0M398.23 299.99h0M381.36 290.01h0M394.97 273.46h0M375.7 291.17h0M386.76 296.44h0M394.63 280.93h0M397.87 293.8h0M400.12 273.95h0M393.95 302.39h0M401.78 285.92h0M399.27 279.61h0M401.18 283.31h0M395.86 271.86h0M404.12 301.37h0M389.21 277.99h0M403.43 275.94h0M396.36 286.74h0M413.4 293.34h0M417.12 298.68h0M417.02 292.07h0M415.07 292.48h0M422.28 283.63h0M427.64 291.35h0M427.47 297.5h0M448.24 272.9h0M447.79 278h0M435.08 293.87h0M446.09 279.75h0M434.04 295.28h0M433.74 302.94h0M429.58 302.66h0M463.15 281.87h0M426.45 289.94h0M453.99 282.97h0M430.23 301.37h0M447.4 276.5h0M427.46 279.51h0M429.11 291.92h0M455.54 268.41h0M436.36 286.97h0M435.05 287.43h0M427.63 303.09h0M429.11 296.12h0M447.82 285.82h0M461.95 282.16h0M426.64 290.1h0M448.07 276.18h0M450.61 272.24h0M426.4 291.18h0M446.04 285.58h0M430.34 299.65h0M430.43 299.36h0M432.17 290.34h0M427.74 305.6h0M436.04 286.35h0M441.02 273.72h0M429.21 285.85h0M454.38 272.29h0M433.6 299.69h0M432.87 299.23h0M459.02 280.31h0M438.97 275.83h0M434.82 287.45h0M452.55 268.45h0M409.47 250.8h0M408.92 253.07h0M409.43 253.5h0M409.76 254.46h0M399.46 257.24h0M399.45 257.81h0M405.78 261.3h0M404.45 262.25h0M411.22 258.04h0" stroke="#4f7aba" stroke-width="2.6" stroke-linecap="round" fill="none"/>
<path d="M402.24 284.64h0M386.86 297.59h0M405.23 292.27h0M401.74 288.05h0M392.7 298.18h0M380.98 296.28h0M375.86 293.61h0M384.26 306.01h0M404.03 301.33h0M386.49 303.27h0M378.5 293.16h0M392.47 277.29h0M395.16 282.78h0M392.39 271.02h0M389.93 271.78h0M386.61 297.02h0M391.7 299.12h0M392.15 279.48h0M385.26 291h0M387.66 303.17h0M379.5 285.6h0M379.87 278.47h0M391.7 282.6h0M390.15 270.83h0M402.55 284.54h0M401.54 283.69h0M393.67 279.23h0M378.9 277.92h0M384.7 291.69h0M394.6 306.17h0M375.79 295.48h0M377.17 284.01h0M377.83 293.86h0M375.25 295.45h0M390.21 276.1h0M386.86 303.75h0M386.71 304.41h0M388.5 304.82h0M389.71 305.55h0M391.61 298.68h0M386.99 296.98h0M396.46 307.74h0M390.94 270.67h0M380.5 281.07h0M386.59 294.59h0M393.01 289.05h0M389.59 278.83h0M377.3 295.51h0M382.56 289.48h0M397.03 291.11h0M411.09 277.34h0M402.15 292.1h0M403.82 293.75h0M384.77 288.7h0M408.21 291.1h0M392.63 298.66h0M381.28 286.69h0M380.32 292.36h0M403.55 300.15h0M398.2 301.23h0M391.57 301.65h0M393.44 274.08h0M391.18 273.54h0M399.34 297.19h0M396.21 301.29h0M384.8 300.48h0M381 300.34h0M383.81 298h0M378.44 284.28h0M381.57 293h0M389.87 305.13h0M388.65 299.56h0M384.84 300.45h0M391.35 272.74h0M413.51 280.32h0M396.85 277.74h0M385.82 275h0M382.48 286.43h0M399.29 276.17h0M382.25 300.91h0M379.21 289.81h0M383.98 279.36h0M398.7 281.62h0M383.04 280.75h0M379.17 301.4h0M406.58 289.38h0M408.86 287.3h0M382 276.38h0M389.03 271.7h0M392.96 286.5h0M408.73 284.84h0M381.28 285.1h0M399.61 303.71h0M391.7 295.76h0M381.52 276.24h0M401.85 274.51h0M396.79 298.96h0M399.72 291.57h0M389.82 297.27h0M402.08 288.5h0M383.34 295.65h0M384.74 290.35h0M405.67 287.73h0M417.17 293.99h0M411.2 291.69h0M412.76 287.14h0M416.07 297.78h0M414.5 291.7h0M412.67 290.93h0M416.59 299.38h0M413.38 288.87h0M419.14 297.28h0M418.42 295.41h0M412.93 289.69h0M399.92 260.99h0M402.33 267.94h0M423.48 276.73h0M425.83 314.48h0M420.3 316.22h0M420 292.05h0M443.86 281.21h0M444.26 287.57h0M450.09 272.42h0M430.76 273.15h0M428.61 299.21h0M434.82 294.48h0M427.77 291.74h0M450.55 276.16h0M428.69 301.96h0M426.69 290.53h0M450.45 287.17h0M454.57 274.95h0M431.62 294.49h0M449.31 277.98h0M450.79 271.59h0M448.96 283.58h0M429.83 301.7h0M426.38 277.28h0M426.38 302.99h0M439.24 289.35h0M446.56 281.43h0M432.63 292.14h0M422.75 311.01h0M428.62 295.68h0M430.9 290.9h0M442.59 291.03h0M445.93 271.94h0M448.14 285.85h0M441.54 291.97h0M458.27 274.47h0M430.22 309.6h0M448.45 291.57h0M436.87 297.65h0M431.43 291.32h0M465.44 282.08h0M430.26 295.86h0M444.24 282.55h0M453.15 272.9h0M454.34 275.74h0M448.91 275.49h0M434.32 293.53h0M450.71 298.7h0M430.58 291.37h0M449.42 282.26h0M435.33 297.91h0M436.58 292.46h0M461.65 275.5h0M451.24 271.77h0M430.59 313.57h0M464.61 280h0M431.77 301.25h0M429.58 300.6h0M461.09 275.61h0M457.56 275.58h0M430.64 295.29h0M459.34 286.26h0M461.49 286.89h0M440.76 274.56h0M452.84 282.81h0M452.95 278.64h0M455.91 277.71h0M430.25 284.09h0M438.69 289.29h0M456.37 268.36h0M447.64 274.48h0M433.72 290.85h0M430.81 284.94h0M449.39 269.52h0M445.18 281.47h0M430.52 291.73h0M430.25 311.9h0M450.29 285.35h0M441.13 284.26h0M426.61 305.34h0M427.19 296.77h0M465.73 280.83h0M441.11 274.74h0M432.75 305.06h0M429.57 283.31h0M438.68 293.79h0M436.62 291.06h0M428.57 298.94h0M437.32 305.14h0M444.49 291.29h0M442.63 274.76h0M454.51 284.17h0M452.41 292.73h0M440.79 280.91h0M434.5 290.54h0M457.17 275.23h0M427.22 280.24h0M442.13 277.94h0M448.81 283.59h0M429.99 300.01h0M429.28 296.17h0M429.69 304.61h0M464.21 281.97h0M433.67 294.12h0M432.5 300.25h0M456.36 268.55h0M441.73 309.12h0M429.08 283.75h0M429.07 292.6h0M447.49 289.12h0M426.67 273.5h0M429.32 273.6h0M446.72 290.77h0M413.51 278h0M415.37 292.32h0M409.4 250.8h0M408.48 254.75h0M410.13 251.67h0M409.71 250.92h0M409.04 253.26h0M409.15 252.69h0M402.09 256.38h0M401.57 256.67h0M405.2 256.27h0M405.98 259.89h0M406.47 257.57h0" stroke="#6876ae" stroke-width="2.6" stroke-linecap="round" fill="none"/>
<path d="M406.23 297.95h0M400.71 287.77h0M390.19 276.14h0M375.6 293.73h0M385.42 304.16h0M389.27 307.7h0M382.86 273.12h0M380.91 305.26h0M392.06 280.82h0M389.03 297.26h0M386.93 300.77h0M387.16 302.52h0M389.84 302.75h0M391.95 278.92h0M388.71 298.2h0M383.2 275.08h0M390.25 306.05h0M391.62 271.95h0M391.4 299.39h0M389.44 302.23h0M390.39 299.6h0M390.41 272.22h0M389.1 280.03h0M378.34 284.68h0M387.49 280.45h0M404.94 300.15h0M386.33 278.58h0M407.05 291.09h0M386.08 304.63h0M382.59 288.38h0M390.44 271.65h0M375.31 294.72h0M409.34 288.76h0M404.9 297.4h0M382.78 274.71h0M390.99 280.41h0M383.27 296.47h0M387.85 304.88h0M408.84 278.44h0M388.47 280.81h0M404.8 291.86h0M383.95 277.84h0M385.2 280.83h0M404.91 288.65h0M386.91 286.4h0M379.19 297.97h0M408.64 282.04h0M387.91 307.92h0M408.68 287.6h0M383.85 299.24h0M384.2 301.19h0M389.71 304.84h0M408.07 292.76h0M412.86 290.6h0M414.1 296.45h0M414.09 295.44h0M413.97 291.52h0M415.6 291.03h0M415.3 291.04h0M414.55 290.34h0M414.61 294.01h0M416.83 298.61h0M415 294.87h0M411.44 287.3h0M413.67 294.2h0M419.4 301h0M446.83 288.04h0M443.1 310.66h0M441.05 289.38h0M449.14 291.46h0M441.75 289.91h0M454.33 285.02h0M444.49 309.7h0M457.48 278.18h0M431.18 294.58h0M456.2 285.18h0M442.18 284.52h0M458.21 286.8h0M426.25 268.84h0M451.08 299.91h0M443.36 285.91h0M433.05 291.19h0M447.67 275.26h0M437.61 287.68h0M438.72 286.3h0M438.46 309.82h0M453.54 292.6h0M456.39 294.7h0M434.64 301.85h0M432.55 293.45h0M456.04 269.93h0M459.92 275.51h0M436.93 297.22h0M435.87 288.31h0M438.32 286.89h0M432.66 311.47h0M445.92 277.81h0M448.2 287.74h0M459.19 276.82h0M447.53 286.82h0M430.51 298.25h0M464.4 282.64h0M430.48 307.93h0M442.54 272.89h0M460.86 280.41h0M448.99 270.45h0M429.36 314.66h0M451.91 271.63h0M437.25 288.04h0M445.72 309.55h0M439.26 303.63h0M431.38 304.33h0M438.58 295.63h0M441 277.29h0M451.73 283.48h0M443.93 272.14h0M432.96 299.62h0M449.8 303.22h0M453.02 288.93h0M432.37 293.86h0M432.98 293.31h0M435.58 309.36h0M447.13 288.15h0M458.64 280.78h0M443.32 297.3h0M461.1 273.97h0M433.53 298.83h0M426.48 282.19h0M445.59 286h0M451.02 283.28h0M455.86 269.98h0M432.38 299.2h0M453.39 298.32h0M434.02 304.36h0M457.59 270.64h0M458.51 280.72h0M441.3 275.57h0M446.12 279.78h0M454.51 268.4h0M433.12 311.47h0M461.45 283.87h0M462.17 291.13h0M426.23 272.45h0M443.05 309.28h0M436.7 289.9h0M433.99 310.91h0M439.54 288.45h0M431.23 289.4h0M432.9 313.98h0M455.57 304.26h0M443.02 278.65h0M461.92 274.97h0M434.45 299.54h0M442.46 284.1h0M443.17 307.24h0M453.69 283.97h0M444.7 283.64h0M444.7 309.75h0M446.57 282.53h0M432.62 294.54h0M459.36 282.81h0M437.44 275.81h0M441.79 295.24h0M428.3 280.97h0M408.09 252.18h0" stroke="#7a72a3" stroke-width="2.6" stroke-linecap="round" fill="none"/>
<path d="M380.27 277.87h0M406.53 297.14h0M453.81 294.54h0M448.18 284.41h0M441.81 289.68h0M431.46 310.96h0M449.82 298h0M446.82 286.93h0M427.93 276.47h0M441.68 289.22h0M443.97 286.59h0M460.62 281.17h0M442.01 299.41h0M449.99 286.93h0M424.41 314.04h0M430.9 313.48h0M447.4 281.27h0M439.35 298.01h0M447.34 277.08h0M450.42 276.53h0M442.65 291.43h0M449.37 275.85h0M433.21 310.44h0M455.13 281.77h0M448.18 286.72h0M441.74 289.41h0M428.72 269.78h0M441.38 294.02h0M446.9 273.02h0M448.29 283.85h0M441.49 281.52h0M448.49 286.15h0M443.45 291.02h0M463.26 280.68h0M434.29 306.77h0M451.97 273.63h0M454.1 314.47h0M429.81 308.29h0M452.6 279.27h0M454.02 290.13h0M424.87 310.22h0M433.69 307.42h0M438.41 297.31h0M451.25 307.4h0M460.16 279.12h0M464.04 279.72h0M459.56 285.32h0M443.22 290.45h0M428.1 274.86h0M450.93 282.05h0M454.03 269.47h0M453.06 283.38h0M439 297.55h0M447.06 297.22h0M450.1 286.79h0M451.39 291.72h0M461.91 280.39h0M441.05 309.91h0M443.59 285.25h0M432.32 307.48h0M433.09 313.52h0M429.5 306.93h0M447.17 278.76h0M458.92 305.92h0M449.88 292.09h0M450.53 281.21h0M447.71 283.29h0M430.21 307.47h0M439.39 308.71h0M454.27 290.33h0M464.49 285.49h0M424.72 272.09h0M436.6 315.47h0M458.96 312.65h0M465.52 280.55h0M441.17 275.12h0M431.44 310.44h0M431.57 313.17h0M407.75 251.58h0" stroke="#896e97" stroke-width="2.6" stroke-linecap="round" fill="none"/>
<path d="M393.23 278.82h0M381.17 305.85h0M445.98 307.7h0M437.81 306.83h0M426.49 270.61h0M455.02 287.41h0M449.2 290.24h0M449.76 288.39h0M447.79 290.54h0M447.64 306.32h0M429.11 307.77h0M452.87 304.4h0M446.68 310.75h0M445.64 310.16h0M442.51 289.77h0M429.52 317.81h0M447.19 291.54h0M442.18 299.07h0M435.57 306.48h0M443.29 291.17h0M456.2 288.9h0M458.15 295.75h0M433.01 274.68h0M428.01 316.14h0M443.49 289.03h0M449.95 308.53h0M437.58 291.25h0M430.29 277.54h0M460.41 297.58h0M427.64 271.43h0M439.32 296.79h0M450.45 288.75h0M431.11 316.98h0M432.43 313.17h0M425.03 270.21h0M427.09 308.14h0M447.8 302.48h0M449.14 294.63h0M459.99 299.99h0M430.13 309.74h0M447.78 303.98h0M449.78 286.62h0M432 315.89h0M406.17 307.06h0M407.2 275.31h0M404.79 261.29h0" stroke="#96698c" stroke-width="2.6" stroke-linecap="round" fill="none"/>
<path d="M453.87 297.88h0M454.72 291.3h0M456.63 291.75h0M446.5 310.05h0M454.38 314.62h0M452.69 291.74h0M458.69 287.8h0M453.95 313.74h0M454.55 293.17h0M437.62 306.67h0M425.8 309.55h0M428.8 268.94h0M453.55 297.49h0M451.65 301.1h0M452.13 287.5h0M442.54 305.55h0M439.93 304.87h0M446.45 316.18h0M441.53 310.48h0M453.53 315.18h0M438.26 312.35h0M444.36 314.9h0M428.18 314.81h0M425.59 275.59h0M446.18 299.11h0M443.73 297.17h0M448.41 298.9h0M425.99 272.33h0M428.33 273.45h0M436.67 307.07h0M426.29 315.32h0M426.39 267.36h0M447.6 292.67h0M458.34 305.95h0M457.32 290.29h0" stroke="#a16480" stroke-width="2.6" stroke-linecap="round" fill="none"/>
<path d="M429.73 271.82h0M442.63 308.77h0M458.24 304.55h0M425.88 310.14h0M450.53 310.97h0M453.51 293.06h0M452.91 295.51h0M425.71 312.2h0M425.48 268.11h0M427.41 271.66h0M452.92 291.99h0M451.9 313.47h0M451.36 292.33h0M460.96 299.38h0M434.83 310.19h0M454.13 309.36h0M461.11 297.63h0M447.38 310.51h0M457.34 298.15h0M454.72 298.58h0M460.38 300.07h0M426.97 311.29h0M455.1 292.28h0M455.31 307.87h0M410.03 254.03h0M399.52 258.07h0" stroke="#ab5f75" stroke-width="2.6" stroke-linecap="round" fill="none"/>
<path d="M448.21 310.34h0M439.61 309.35h0M452.9 299.3h0M441.59 308.34h0M459.56 301.45h0M442.55 308.19h0M446.7 309.84h0M452.34 301.08h0M452.47 297.1h0M424.89 312.93h0M451.91 299.21h0M444.14 310.43h0M448.47 311.21h0M427.31 315.74h0M458.07 290.98h0M440.1 314.1h0M430.06 269.18h0M430.23 316.13h0M457.76 294.5h0M434.3 314.91h0M453.68 297.82h0" stroke="#b45a6a" stroke-width="2.6" stroke-linecap="round" fill="none"/>
<path d="M452.96 298.54h0M445.38 308.2h0M444.5 309.18h0M446.79 311.38h0M458.76 301.83h0M458.69 306.45h0M446.88 308.41h0M456.61 305.83h0M450.73 308.18h0M429.93 317.88h0M432.41 317.44h0M457.34 295.1h0" stroke="#bc545f" stroke-width="2.6" stroke-linecap="round" fill="none"/>
<path d="M444.06 307.75h0M460.75 299.99h0M461.77 297.31h0M437.92 314.31h0M451.66 304.81h0M457.75 298.61h0" stroke="#c34d54" stroke-width="2.6" stroke-linecap="round" fill="none"/>
<path d="M445.92 309.71h0M454.17 310.32h0M451.61 312.4h0M458.07 313.65h0M448.37 307.3h0" stroke="#ca4649" stroke-width="2.6" stroke-linecap="round" fill="none"/>
<path d="M460.43 304.94h0M450.04 311.84h0M458.18 303.94h0M453.4 314.78h0M460.29 304.44h0M457.42 311.12h0M459.66 304.76h0" stroke="#d13d3e" stroke-width="2.6" stroke-linecap="round" fill="none"/>
<path d="M452.76 313.29h0M444.94 313.53h0" stroke="#d73332" stroke-width="2.6" stroke-linecap="round" fill="none"/>
<path d="M455.4 314.21h0M452.96 311.73h0M453.62 312.8h0" stroke="#dd2726" stroke-width="2.6" stroke-linecap="round" fill="none"/>
<text x="421.8" y="236.3" font-size="9.3" text-anchor="middle" font-weight="bold" fill="#111" textLength="105.6" lengthAdjust="spacingAndGlyphs">proinflammatory_score</text>
<defs><linearGradient id="cgF" x1="0" y1="1" x2="0" y2="0"><stop offset="0" stop-color="#3e7cc0"/><stop offset="0.1" stop-color="#6676b0"/><stop offset="0.2" stop-color="#7f719f"/><stop offset="0.3" stop-color="#926a8f"/><stop offset="0.4" stop-color="#a2647f"/><stop offset="0.5" stop-color="#af5c70"/><stop offset="0.6" stop-color="#bb5460"/><stop offset="0.7" stop-color="#c64b51"/><stop offset="0.8" stop-color="#cf4041"/><stop offset="0.9" stop-color="#d83231"/><stop offset="1" stop-color="#e01e20"/></linearGradient></defs>
<rect x="484" y="261.8" width="9.2" height="45.9" fill="url(#cgF)"/>
<line x1="484" y1="297.02" x2="485.8" y2="297.02" stroke="#fff" stroke-width="0.5"/>
<line x1="491.4" y1="297.02" x2="493.2" y2="297.02" stroke="#fff" stroke-width="0.5"/>
<text x="497.5" y="299.42" font-size="6.6" fill="#222">10</text>
<line x1="484" y1="286.02" x2="485.8" y2="286.02" stroke="#fff" stroke-width="0.5"/>
<line x1="491.4" y1="286.02" x2="493.2" y2="286.02" stroke="#fff" stroke-width="0.5"/>
<text x="497.5" y="288.42" font-size="6.6" fill="#222">20</text>
<line x1="484" y1="275.01" x2="485.8" y2="275.01" stroke="#fff" stroke-width="0.5"/>
<line x1="491.4" y1="275.01" x2="493.2" y2="275.01" stroke="#fff" stroke-width="0.5"/>
<text x="497.5" y="277.41" font-size="6.6" fill="#222">30</text>
<line x1="484" y1="264" x2="485.8" y2="264" stroke="#fff" stroke-width="0.5"/>
<line x1="491.4" y1="264" x2="493.2" y2="264" stroke="#fff" stroke-width="0.5"/>
<text x="497.5" y="266.4" font-size="6.6" fill="#222">40</text>
<line x1="368.6" y1="398" x2="368.6" y2="478.65" stroke="#6a6a6a" stroke-width="0.9"/>
<line x1="368.15" y1="478.2" x2="477.4" y2="478.2" stroke="#6a6a6a" stroke-width="0.9"/>
<line x1="366.9" y1="401.4" x2="368.6" y2="401.4" stroke="#222" stroke-width="0.5"/>
<text x="365" y="403.9" font-size="7" text-anchor="end" fill="#222">6</text>
<line x1="366.9" y1="416.2" x2="368.6" y2="416.2" stroke="#222" stroke-width="0.5"/>
<text x="365" y="418.7" font-size="7" text-anchor="end" fill="#222">4</text>
<line x1="366.9" y1="431.2" x2="368.6" y2="431.2" stroke="#222" stroke-width="0.5"/>
<text x="365" y="433.7" font-size="7" text-anchor="end" fill="#222">2</text>
<line x1="366.9" y1="445.6" x2="368.6" y2="445.6" stroke="#222" stroke-width="0.5"/>
<text x="365" y="448.1" font-size="7" text-anchor="end" fill="#222">0</text>
<line x1="366.9" y1="460.3" x2="368.6" y2="460.3" stroke="#222" stroke-width="0.5"/>
<text x="365" y="462.8" font-size="7" text-anchor="end" fill="#222">−2</text>
<line x1="366.9" y1="475" x2="368.6" y2="475" stroke="#222" stroke-width="0.5"/>
<text x="365" y="477.5" font-size="7" text-anchor="end" fill="#222">−4</text>
<line x1="392.2" y1="478.2" x2="392.2" y2="479.9" stroke="#222" stroke-width="0.5"/>
<text x="392.2" y="487.4" font-size="7" text-anchor="middle" fill="#222">−5</text>
<line x1="423" y1="478.2" x2="423" y2="479.9" stroke="#222" stroke-width="0.5"/>
<text x="423" y="487.4" font-size="7" text-anchor="middle" fill="#222">0</text>
<line x1="454.1" y1="478.2" x2="454.1" y2="479.9" stroke="#222" stroke-width="0.5"/>
<text x="454.1" y="487.4" font-size="7" text-anchor="middle" fill="#222">5</text>
<text x="423" y="497.6" font-size="8.6" text-anchor="middle" fill="#111">UMAP_1</text>
<text transform="translate(355.2,438.5) rotate(-90)" font-size="8.6" text-anchor="middle" fill="#111">UMAP_2</text>
<path d="M395.8 459.39h0M393.21 433.4h0M397.89 445.16h0M376.99 450.96h0M396.65 428.61h0M393.49 455.96h0M405.09 457.33h0M403.65 440.46h0M376.98 450.39h0M382.52 458.85h0M397.43 430.04h0M397.91 445.68h0M404.66 457.36h0M397.41 460.69h0M383.96 452.96h0M395.77 463.89h0M393.11 433.69h0M389.11 463.14h0M389.83 457.61h0M385.1 459.23h0M389.36 463.75h0M399.92 438.34h0M398.04 456.62h0M397.22 429.32h0M388.34 457h0M383.49 452.54h0M399.75 440.12h0M383.39 452.41h0M394.68 434.32h0M400.82 439.12h0M403.47 444.32h0M390.42 452.08h0M393.22 433.1h0M380.25 440.98h0M389.45 459.18h0M389.98 452.34h0M395.32 437.19h0M383.97 453.67h0M395.44 455.29h0M395.8 434.44h0M378.83 450.72h0M379.03 459.01h0M381.35 433.97h0M389.5 459.43h0M386.97 462.85h0M391.55 456.68h0M401.82 442.73h0M400.43 437.46h0M402.05 451.17h0M398.25 445.36h0M378.75 440.67h0M392.76 428.16h0M397.18 439.1h0M392.63 434.7h0M381.24 433.98h0M397.45 440.62h0M400.1 433.99h0M399.24 439.4h0M383.66 431.63h0M405.17 448.92h0M379.24 440.79h0M389.04 462.94h0M402.38 439.65h0M397.17 438.48h0M390.39 428.7h0M400.24 450.54h0M397.47 438.31h0M399.41 435.65h0M380.95 461.94h0M383.07 451.31h0M402.7 443.88h0M400.86 450.66h0M383.24 461.59h0M391.19 458.18h0M406.51 457.94h0M383.26 450.97h0M398.2 445.83h0M379.85 439.72h0M379.96 461.59h0M380.54 444.41h0M378.25 450.54h0M378.24 451.38h0M379.87 440.3h0M394.75 426.37h0M398.44 440.43h0M379.55 434.44h0M397.89 436.49h0M382.41 462.11h0M404.03 449.87h0M380.85 442h0M387.18 431.84h0M379.83 461.25h0M393.05 452.29h0M402.48 455.43h0M407.4 451.49h0M401.2 463.05h0M402.76 457.22h0M398.74 425.58h0M388.87 461.36h0M393.68 460.29h0M390.49 438.15h0M379.87 436.53h0M403.52 440.65h0M394.8 463.11h0M395.02 457.38h0M382.16 459.46h0M390.08 431.17h0M383.2 448.83h0M397.18 449.6h0M396.76 452h0M404.72 454.37h0M403.35 431.41h0M395.24 453.17h0M400.9 462.93h0M398.43 433.15h0M380.11 439.55h0M397.55 455.3h0M398.26 458.33h0M403.16 433.52h0M398.72 436.66h0M392.12 429.07h0M399.51 442.79h0M400.01 449.62h0M403.46 435.19h0M392.22 457.77h0M392.8 453.42h0M400.31 458.38h0M385.55 439.27h0M395.47 440.85h0M395.64 435.62h0M401.49 454.52h0M400.28 462.67h0M386.17 439.34h0M392.32 450.94h0M390.1 458.94h0M395.58 438.42h0M403.91 459.36h0M391.92 426.21h0M386.86 458.12h0M403.13 453.85h0M395.96 456.28h0M397.89 426.9h0M399.72 426.27h0M380.77 443.46h0M401.11 454.32h0M380.85 440.62h0M398.87 437.45h0M384.42 432.91h0M404.09 444.14h0M379.9 460.96h0M402.94 456.06h0M387.61 463.25h0M388.79 459.56h0M403.38 440.76h0M387.37 428.11h0M389.58 432.23h0M397.07 457.65h0M398.68 452.44h0M388.01 458.72h0M411.42 434.88h0M381.94 455.61h0M384.74 427.84h0M378.92 458.2h0M404.03 461.84h0M397.2 442.96h0M401.83 426.81h0M398.17 445.58h0M393.54 459.8h0M404.2 430.63h0M406.66 445.73h0M398.9 433.06h0M398.14 440.17h0M399.45 441.54h0M402.82 452.72h0M403.35 434.04h0M397.24 433.21h0M391.83 454.12h0M403.63 443.68h0M390.61 446.15h0M379.6 442.67h0M396.87 463.88h0M402.31 454.71h0M390.88 463.44h0M387.73 451.34h0M393.5 434.77h0M399.95 435.78h0M407.33 448.63h0M398.76 431.14h0M382.71 453.3h0M380.53 458.76h0M402.21 455.34h0M400.34 452.98h0M389.59 433.98h0M407.22 432.81h0M398.4 452.89h0M382.39 456.46h0M399.19 446.7h0M394.93 461.07h0M408.57 448.12h0M383.41 454.32h0M397.82 435.58h0M387.06 428.18h0M399.39 454.75h0M404.66 446.31h0M398.21 435.4h0M403.75 439.69h0M400.58 429.02h0M402.87 451.73h0M376.74 454.59h0M394.67 455.47h0M391.66 452.64h0M402.44 442.11h0M378.3 450.58h0M389.03 432.9h0M399.9 431.06h0M393.18 428.62h0M400.22 426.42h0M400.24 434.32h0M381.36 441.67h0M396.04 437.13h0M396.64 429.48h0M397.13 457.78h0M400.21 459.38h0M396.46 429.4h0M403.65 433.77h0M396.83 458.38h0M414.95 444.07h0M415.79 448.17h0M418.33 454.77h0M413.84 443.59h0M419.56 452.25h0M412.23 447.28h0M411.64 444.14h0M415.71 447.95h0M415.78 449.4h0M412.47 442.84h0M413.21 445.88h0M420.29 454.74h0M406.69 413.84h0M419.19 445.75h0M435.65 450.22h0M437.87 459.03h0M444.08 455.42h0M441.52 442.93h0M446.8 443.59h0M446.06 439.99h0M435.61 449.41h0M432.5 450.21h0M438.49 443.64h0M432.08 450.58h0M436.56 447.54h0M429.52 464.69h0M428.32 446.63h0M452.44 427.42h0M465.86 438.4h0M458.71 433.1h0M451.59 426.03h0M454.62 428.16h0M446.76 437.59h0M431.03 439.84h0M442.35 443.02h0M446.5 439.2h0M436.99 443.71h0M463.23 437.03h0M443.83 429.47h0M443.19 444.87h0M431.61 457.94h0M425.81 423.43h0M457.85 441.42h0M459.93 430.71h0M429 443.79h0M443.45 443.55h0M442.95 446.49h0M450.21 432.21h0M458.66 442.45h0M437.62 445.82h0M444.39 436.12h0M430.66 457.19h0M438.16 461.55h0M462.07 435.31h0M437.2 442.22h0M438.57 452.91h0M435.79 447.36h0M448.98 435.15h0M436.61 445.19h0M447.63 448.38h0M436.19 458.42h0M442.92 452.26h0M432.15 436.94h0M460.51 435.72h0M430.53 453.68h0M441.54 445.67h0M430.27 445.96h0M456.99 430.92h0M435.53 449.79h0M431.6 450.31h0M431.64 456.76h0M430.52 465.96h0M460.98 431.96h0M448.44 432.15h0M457.16 428.14h0M428.53 455.13h0M452.3 426.52h0M429.52 463.01h0M430.24 452.11h0M426.66 436.4h0M424.05 466.53h0M438.13 443.93h0M438.61 446.13h0M454.26 437.44h0M456.85 427.19h0M431.2 427.91h0M429.94 457.54h0M458.64 436.55h0M436.8 451.02h0M450.47 442.94h0M427.16 441.96h0M450.04 426.62h0M446.11 444.97h0M432.77 431.65h0M444.47 433.25h0M452.98 424.42h0M452.49 427.08h0M459.07 440.97h0M456.76 438.66h0M426.49 435.59h0M436.51 444.36h0M433.07 458.85h0M457.91 426.52h0M449.37 425.78h0M433.25 444.63h0M427.52 443.75h0M445.33 443.08h0M433.16 453.51h0M435.75 449.74h0M430.88 445.3h0M452.79 424.63h0M442.51 439.58h0M445.28 426.41h0M445.79 437.12h0M427.37 457.12h0M451.03 444.84h0M429.01 461.32h0M459.76 435.88h0M460.72 433.47h0M437.01 459.05h0M431.99 459.81h0M440.26 454.97h0M446.69 437.29h0M443 430.38h0M443.07 453.17h0M445.33 427.27h0M433.61 446.82h0M433 448.11h0M433.99 460h0M436.07 450.56h0M430.92 443.56h0M441.72 459.52h0M440.15 442.43h0M431.26 464.13h0M453.48 439.19h0M393.35 454.65h0M409.8 409.93h0M409.29 410h0M410.47 408.18h0M409.37 409.88h0M409.55 408.52h0M411.41 408.57h0M400.91 414.36h0M406 412.45h0M405.4 412.28h0M404.81 412.48h0M403.28 412.97h0M401.99 413.13h0M402.18 412.37h0M402.52 411.71h0M406.89 415.58h0M406.13 416.47h0M407.23 415.8h0M406.17 418.22h0M411.5 416.16h0" stroke="#4f7aba" stroke-width="2.6" stroke-linecap="round" fill="none"/>
<path d="M393.95 436.06h0M387.72 457.89h0M386.57 439.7h0M393.12 427.04h0M391.94 462.08h0M392.79 454.83h0M394.39 433.43h0M379.51 460.88h0M389.89 461.65h0M385.59 439.11h0M376.45 451.04h0M389.9 462.31h0M380.55 433.13h0M377.2 450.94h0M382.18 451.7h0M389.53 427.8h0M383.61 448.58h0M387.24 462.7h0M387.35 458.95h0M394.12 434.4h0M383.68 431.2h0M393.07 432.96h0M386.86 438.86h0M380.15 457.59h0M388.01 460.97h0M383.58 451.23h0M388.15 459.45h0M387.7 460.03h0M380.14 434.47h0M380.49 444.36h0M393.88 433.5h0M407.03 449.04h0M386.6 457.26h0M382.37 445.27h0M385.51 458.9h0M380.73 441.13h0M388.95 451.69h0M393.54 463.22h0M385.69 446.05h0M408.29 450.31h0M390.11 457.49h0M391.7 436h0M379.72 455.46h0M380.98 458.4h0M392.94 453.85h0M406.29 448.91h0M386.68 452.99h0M407.23 453.79h0M392.16 463.04h0M392.59 454.47h0M377.1 443.01h0M409.77 432.45h0M410.96 442.79h0M379.98 440.09h0M384.05 458.03h0M381.47 438.95h0M384.42 457.7h0M381.49 436.57h0M382.9 451.69h0M382.32 452.01h0M380.12 447.53h0M381.97 436.51h0M379.9 450.85h0M385.4 449.02h0M385.67 430.5h0M385.99 457.45h0M377.06 448.19h0M377.92 449.45h0M386.18 461.61h0M387.27 455.97h0M380.43 433.9h0M380.56 452.92h0M384.99 461.1h0M379.78 443.56h0M386.5 458.18h0M387.36 459.32h0M386.49 455.66h0M382.86 440.96h0M392.49 442.76h0M377.46 442.43h0M376.8 453.85h0M391.75 458.12h0M407.33 453.38h0M379.27 452.92h0M383.94 454.75h0M382.1 438.18h0M388.36 456.18h0M385.7 462.63h0M387.74 458.33h0M381.92 435.83h0M383.39 459.37h0M390.8 452.74h0M386.39 452.33h0M379.56 461.05h0M379.23 443.2h0M418.48 451.35h0M411.44 444.5h0M417.42 453.83h0M411.99 444.14h0M413.96 447.82h0M412.69 446.16h0M418.41 453.84h0M413.88 448.13h0M414.59 449.88h0M417.83 454.17h0M414.19 445.2h0M413.76 446.52h0M424.48 435.85h0M417.75 457.86h0M465.53 435.16h0M415.59 443.64h0M441.41 464.95h0M426.01 466.57h0M448.68 431.32h0M429.18 445.82h0M428.7 435.78h0M449.2 432.32h0M438.08 444.68h0M435.45 458.4h0M427.41 445.78h0M450.01 437.99h0M433.11 466.9h0M467.3 437.84h0M429.28 455.33h0M436.62 444.8h0M441.79 448.79h0M445.91 439.52h0M444.29 443.76h0M437.7 443.01h0M449.49 442.49h0M442.65 455.32h0M460.07 442.42h0M444.67 443.75h0M449.33 437.87h0M448.79 443.84h0M445.14 452.9h0M428.53 445.11h0M456.54 444.04h0M431.78 461.75h0M441.43 445.25h0M442.9 445.91h0M445.62 464.82h0M447.33 426.74h0M451.74 431.1h0M451.76 433.34h0M429.06 434.14h0M442.71 428.67h0M451.13 441.26h0M456.54 442.01h0M432.4 447.87h0M445.82 466.26h0M446.98 438.19h0M426.24 427.52h0M427.48 445.75h0M433.24 448.03h0M430.2 456.74h0M428.06 452.86h0M452.12 427.74h0M433.9 448.96h0M443.64 471.18h0M428.52 445.77h0M431.84 453.53h0M438.07 460.09h0M454.77 460.52h0M429.16 466.62h0M443.47 465.39h0M444.92 443.37h0M446.49 432.12h0M452.05 432.86h0M426.14 471.31h0M456.14 445.56h0M460.57 429.1h0M451.1 432.24h0M452.83 456.58h0M447 463.55h0M445.97 428.88h0M458.38 439.22h0M459.57 430.07h0M451.55 427.11h0M452.34 424.62h0M427.48 445.08h0M452.56 425.62h0M445.13 439.43h0M459.88 451.27h0M429.02 447.85h0M450.38 433.76h0M427.23 459.28h0M426.28 422.52h0M443.08 455.49h0M440.9 449.92h0M442.48 444.27h0M443.29 461.08h0M445.74 452.62h0M444.12 445.76h0M431.08 431.08h0M451.43 430.22h0M432.59 443.55h0M444.52 450.61h0M442.8 433.05h0M429.92 450.44h0M425.58 423.43h0M465.05 439.16h0M433.13 453.47h0M441.83 454h0M467.22 440.01h0M444.97 436.28h0M465.33 436.77h0M449.92 452.59h0M460.81 430.6h0M456.87 430.39h0M433.23 463.38h0M430.03 465.66h0M433.68 457.51h0M449.69 461.03h0M434.09 458.81h0M440.54 448.24h0M451.63 427.79h0M439.34 456.56h0M437.7 448.53h0M431.63 442.88h0M438.07 451.38h0M449.65 436.05h0M431.8 464.22h0M430.04 458.85h0M463.72 434.07h0M450.84 436.1h0M425.42 423.58h0M449.82 428.63h0M461.82 452.36h0M427.91 436.02h0M445.43 440.89h0M435.53 472.88h0M451.36 438.81h0M428.8 467.65h0M429.92 448.87h0M434.82 453.77h0M456.65 436.11h0M461.04 451.45h0M435.03 448.93h0M457.24 433.71h0M446.75 435.02h0M460.15 425.53h0M446.18 428.75h0M450.18 445.57h0M428.13 449.82h0M444.69 451.74h0M408.9 409.4h0M405.57 417.83h0" stroke="#6876ae" stroke-width="2.6" stroke-linecap="round" fill="none"/>
<path d="M389.38 458.47h0M465.66 438.07h0M449.61 443.05h0M442.85 445.16h0M437.14 457.78h0M454.41 456.56h0M442.33 447.6h0M438.47 452.25h0M444.22 466.07h0M444.57 453.88h0M465.98 434.87h0M446.85 431.95h0M448 433.36h0M442.94 455.29h0M450.45 427.8h0M460.68 445.69h0M461.12 443.67h0M454.73 460.16h0M449.92 433.13h0M431.28 427.38h0M450.43 455.49h0M467.09 435.16h0M424.92 467.9h0M438.31 457.58h0M438.34 442.66h0M447.76 431.1h0M444.49 437.58h0M446.78 431.2h0M437.29 462.77h0M459.44 440.54h0M462.56 435.26h0M447.51 434.64h0M457.37 432.71h0M447.55 443.87h0M443.54 448.45h0M460.05 445.73h0M444.27 444.54h0M443.39 452.74h0M459.08 430.37h0M438.87 447.38h0M452.72 431.54h0M428.49 466.88h0M452.93 440.17h0M444.98 437.74h0M433.61 461.88h0M446.72 466.07h0M448.82 453.04h0M429.73 427.03h0M455.2 433.91h0M460.37 438.67h0M428.34 428.62h0M458.87 435.25h0M446.07 435.94h0M464.2 437.52h0M441.95 435.04h0M450.56 440.22h0M449.94 445.69h0M432.46 460.6h0M435.88 456.49h0M445.96 438.75h0M455.27 446.32h0M459.99 431.21h0M433.48 463.83h0M438.62 452.16h0M449.92 451.73h0M438.11 434.71h0M435.92 461.14h0M457.64 424.33h0M448.93 435.17h0M454.66 470.27h0M456.79 457.76h0M448.53 431.48h0M448 448.22h0M448.17 462.23h0M438.34 457.53h0M447.85 446h0M426.62 426.69h0M465.98 437.34h0M442.58 434.87h0M439.79 438.62h0M450.1 447.54h0M437 460.48h0M440.73 441.05h0M441.57 434.99h0M446.49 438.7h0M438.75 461.48h0" stroke="#7a72a3" stroke-width="2.6" stroke-linecap="round" fill="none"/>
<path d="M443.03 465.36h0M445.46 447.57h0M451.5 456.21h0M437.88 462.2h0M455.66 446.89h0M457.95 440.74h0M439.2 447.44h0M445.85 442.81h0M458.51 451.23h0M459.47 447.15h0M449.23 443.73h0M445.17 453.66h0M445.94 463.42h0M460.37 442.53h0M427.48 464.21h0M440.56 464.97h0M442.91 453.34h0M442.07 454.96h0M428.42 426.51h0M443.1 445.36h0M444.58 447.25h0M430.24 473.3h0M436.86 462.19h0M457.26 444.88h0M453.39 470.33h0M433.23 473.02h0M463.4 443.05h0M428.97 430.57h0M436.22 466.17h0M430.9 430.13h0M459.89 447.83h0M451.62 453.96h0M444.44 446.1h0M432.1 466.32h0M465.47 442.8h0M429.86 471.08h0M451.17 461.4h0M434.38 427.79h0M447.29 460.72h0M431.78 425.91h0M426.8 462.58h0M445.79 450.24h0" stroke="#896e97" stroke-width="2.6" stroke-linecap="round" fill="none"/>
<path d="M439.3 462.22h0M428.11 469.59h0M438.22 462.34h0M455.39 449.44h0M440.47 465.18h0M443.48 454.56h0M451.94 452.26h0M431.32 467.98h0M443.36 454.99h0M451.67 449.46h0M444.3 452.41h0M449.3 454.19h0M431.62 465.09h0M441.82 471.28h0M454.94 448.01h0M445.58 470.89h0M447.17 466.99h0M455.53 452.4h0M445.85 461.65h0M430.72 425.11h0M432.44 464.35h0M442.36 459.97h0M458.24 453.7h0M424.74 472.29h0M445.78 471.42h0M428.28 473.71h0M436.55 462.73h0M452.09 463.61h0M453.18 444.7h0M462.97 443.3h0M454.72 448.27h0M425.89 471.17h0M444.93 460.22h0M441.67 457.31h0M409.21 407.33h0" stroke="#96698c" stroke-width="2.6" stroke-linecap="round" fill="none"/>
<path d="M430.75 470.44h0M452.75 451.81h0M456.22 449.31h0M459.22 451.27h0M433.23 468.27h0M459.71 446.56h0M447.01 461.6h0M438.57 464.84h0M451.8 456.08h0M435.01 469.79h0M425.47 423.25h0M454.66 471.84h0M450.71 467.53h0M425.76 426.64h0M453.85 454.37h0M451.26 457.6h0M431.54 469.54h0M448.65 457.18h0M428.76 474.03h0M429.92 427.4h0" stroke="#a16480" stroke-width="2.6" stroke-linecap="round" fill="none"/>
<path d="M454.58 454.14h0M454.08 456.74h0M455.36 459.53h0M443.27 463.05h0M456.4 455.74h0M451.92 469.62h0M434.14 471.22h0" stroke="#ab5f75" stroke-width="2.6" stroke-linecap="round" fill="none"/>
<path d="M445.83 466.55h0M432.6 473.57h0M452.55 469.46h0M428.24 472.13h0M448.9 468.96h0M450.88 463.84h0M456.49 452.28h0M428.8 472.49h0M451.51 460.31h0M452.4 468.92h0" stroke="#b45a6a" stroke-width="2.6" stroke-linecap="round" fill="none"/>
<path d="M457.92 456.74h0M457.19 455.6h0M457.45 454.98h0M456.42 456.07h0M444.41 466.13h0M449.22 466.37h0M460.56 455.2h0M453.81 463.33h0" stroke="#bc545f" stroke-width="2.6" stroke-linecap="round" fill="none"/>
<path d="M449.39 464.79h0M447.51 465.11h0M446.73 465.14h0M451.69 469.58h0" stroke="#c34d54" stroke-width="2.6" stroke-linecap="round" fill="none"/>
<path d="M454.85 463.55h0" stroke="#ca4649" stroke-width="2.6" stroke-linecap="round" fill="none"/>
<path d="M453.95 469.12h0M456.93 470.01h0M460.75 464.74h0" stroke="#d13d3e" stroke-width="2.6" stroke-linecap="round" fill="none"/>
<path d="M459.96 468.42h0M448.73 469.22h0" stroke="#d73332" stroke-width="2.6" stroke-linecap="round" fill="none"/>
<path d="M459.62 466.12h0" stroke="#dd2726" stroke-width="2.6" stroke-linecap="round" fill="none"/>
<path d="M403.61 449.2h0M394.58 455.61h0M380.65 451.78h0M382.65 433.78h0M399.01 436.55h0M396.43 428.07h0M396.54 460.63h0M403.43 443.76h0M381.37 441.1h0M399.17 455.9h0M379.67 454.71h0M399.16 463.4h0M399.57 441.48h0M404.15 456.32h0M399.32 434.43h0M393.68 462.54h0M399.42 437.43h0M393.95 437.12h0M394 455.93h0M397.25 436.69h0M394.21 429.21h0M401.82 444.84h0M376.76 450.99h0M376.74 450.15h0M390.55 430.69h0M404.57 448.66h0M379.49 452.65h0M393.63 428.34h0M378.81 452.69h0M381 445.91h0M387.15 439.67h0M395.31 461.86h0M378.11 441.28h0M403.85 459.19h0M401.52 442.47h0M383.89 459.88h0M393.68 461.91h0M397.95 429.23h0M402.01 444.26h0M397.6 445.49h0M403.02 443.68h0M398.95 464.02h0M380.17 455.79h0M400.9 443.14h0M397.27 464.55h0M387.58 459.33h0M390.84 453.21h0M398.17 444.99h0M383.26 429.31h0M394.34 434.22h0M380.48 433.99h0M393.94 455.06h0M393.23 429.82h0M385.14 429.93h0M394.21 455.24h0M401.73 443.84h0M379.33 440.98h0M400.49 463.7h0M404.58 449.36h0M398.91 456.1h0M394.8 435.51h0M399.66 435.42h0M388.08 458.56h0M382.08 445.14h0M396.93 463.98h0M401.39 444.1h0M403.1 449.37h0M405.97 448.4h0M393.33 426.03h0M397.56 430.47h0M388.65 461.84h0M403.45 448.37h0M394.81 435.48h0M388.15 459.13h0M400.44 438.62h0M383.81 457.04h0M379.46 440.36h0M401.54 438.74h0M376.85 451.81h0M397.62 427.88h0M388.01 457.96h0M395.46 428.76h0M376.67 450.14h0M380.9 461.14h0M402.71 454.9h0M397.47 436.45h0M393.45 428.15h0M390.42 457.84h0M404.38 437.28h0M387.03 459.77h0M402.85 455.51h0M403.55 452.65h0M402.31 457.31h0M401.34 430.81h0M379.99 450.15h0M396.08 442.67h0M385.52 442.34h0M394.41 436.26h0M395.79 463.09h0M381.02 445.81h0M408.02 450.83h0M401.25 441.09h0M383.39 462.66h0M403.43 433.86h0M408.45 452.15h0M395.73 436.38h0M400.41 441.43h0M392.91 434.42h0M399.15 435.98h0M393.36 438.87h0M396.93 459.47h0M395.38 463.21h0M391.37 430.36h0M384.77 451.67h0M396.53 430.75h0M377.97 442.95h0M403.46 432.41h0M404.46 443.27h0M399.92 463.08h0M406.31 445.26h0M395.53 461.25h0M394.59 431.35h0M403.74 460.93h0M404.73 445.49h0M397.53 430.5h0M377.95 449.84h0M398.95 439.92h0M391.52 455.33h0M393.65 425.81h0M404.15 447.81h0M388.97 434.5h0M396.5 427.64h0M400.07 448.76h0M376.92 448.23h0M390.4 460.11h0M385.13 432.23h0M402.45 462.23h0M411.74 437.64h0M389.06 460.68h0M398.96 431.29h0M400.98 435.45h0M404.29 430.04h0M386.63 449.5h0M391.87 452.85h0M400.08 431.7h0M403.94 439.1h0M384.45 442.41h0M399.58 458.75h0M406.35 457.36h0M398.92 426.11h0M404.53 430.77h0M399.77 455.81h0M399.6 442.13h0M395.67 436.64h0M384.64 443.1h0M388.42 430.99h0M392.09 446.64h0M406.08 448.34h0M395.73 447.45h0M398.73 449.9h0M392.36 463.4h0M380.69 436.86h0M395.89 444.2h0M403.79 462.19h0M402.38 463h0M382.43 433.85h0M402.04 429.62h0M381.49 442.26h0M394.96 433.21h0M391.36 435.38h0M381.69 446.59h0M395.79 425.61h0M405.54 443.54h0M384.82 461.39h0M403.56 432.2h0M386.2 457.27h0M377.93 455.24h0M400.32 448.09h0M393.88 455.59h0M396.49 428.2h0M382.68 451.93h0M401.78 453.58h0M398.91 455.21h0M392.3 426.94h0M382.91 451.24h0M380.54 440.88h0M378.33 442.82h0M379.77 460.83h0M401.3 437.41h0M399.5 447.05h0M401.48 445.56h0M400.48 448.38h0M384.88 436.28h0M382.28 462.19h0M401.02 457.76h0M390.85 460.51h0M392.04 462.29h0M402.07 458.03h0M412.83 439.02h0M399.21 451.76h0M379.84 438.55h0M385.31 428.25h0M395.37 464.36h0M392.57 455.55h0M380.98 439.16h0M390.65 454.48h0M400.17 461.85h0M391.86 454.01h0M396.22 453.04h0M395.62 450.65h0M399.49 460.83h0M392.66 429.7h0M387.19 428.73h0M417.69 452.95h0M416.62 451.82h0M417.3 448.66h0M419 453.08h0M413.33 446.61h0M415.24 444.98h0M418.76 455.15h0M415 449.84h0M418.4 453.27h0M413.94 447.83h0M416.79 452.95h0M415.26 451.59h0M417.09 447.68h0M404.77 421.84h0M417.75 438.38h0M424.9 441.54h0M424.06 456.12h0M458.33 440.45h0M428.67 446.61h0M462.22 430.7h0M456.67 447.14h0M429.97 447.78h0M466.46 436.66h0M436.56 445.1h0M437.6 446.88h0M434.33 448.44h0M451.91 432.73h0M436.81 450.86h0M456.02 431.56h0M445.97 427.97h0M427.52 456.66h0M462.15 436.5h0M444.04 439.44h0M459.35 441.45h0M452.09 434.58h0M457.68 429.82h0M454.09 427.51h0M436.2 445.5h0M435.13 451.56h0M457.71 432.89h0M446.36 437.08h0M437.37 461.61h0M431.44 454.71h0M452.68 425.41h0M460.22 429.91h0M443.16 429.28h0M457.67 432.9h0M430.89 454.61h0M434.66 448.5h0M431.76 446.01h0M433.86 448.1h0M433.84 447.99h0M442.51 438.4h0M446.23 442.76h0M457.4 431.23h0M460.4 430.39h0M437.32 444.59h0M428.47 455.16h0M432.95 453.93h0M439.39 442.84h0M432.69 449.15h0M443.13 453.88h0M433.13 448.07h0M456.75 437.63h0M461.85 430.49h0M429.11 447.91h0M450.47 429.07h0M441.67 448.84h0M428.4 467.22h0M457.82 431.38h0M428.21 458.06h0M430.88 439.57h0M443.82 454.74h0M455.31 436.77h0M462.19 440.35h0M430.31 443.35h0M431.56 448.95h0M444.58 438.31h0M430.12 459.72h0M452.99 451.4h0M443.05 443.44h0M442.52 458.2h0M426.84 433.88h0M430.6 443.01h0M432.14 449.55h0M434.61 452.97h0M428.71 443.85h0M426.99 460.93h0M454.6 436.78h0M463.62 436.2h0M445.25 451.49h0M431.27 443.71h0M450.45 449.66h0M442.96 436.02h0M430.99 447.32h0M440.31 453.93h0M437.74 454.98h0M429.83 447.69h0M440.91 447.5h0M443.51 456.48h0M464.21 440.2h0M432.39 458.27h0M432.62 458.3h0M435.67 462.88h0M428.7 452.31h0M428.01 450.96h0M429.78 450.07h0M431.95 460.05h0M428.66 458.18h0M448.84 439.91h0M452.12 431.86h0M430.43 433.71h0M436.08 427.66h0M440.75 441.32h0M429.32 454.75h0M453.44 425.12h0M430.13 460.43h0M420.94 452.12h0M410.56 406.92h0M410.42 410.71h0M410 408.84h0M408.89 408.11h0M409.94 408.86h0M409.07 408.79h0M409.15 407.16h0M401.16 412.59h0M401.7 412.12h0M403.94 412.23h0M406.18 412.42h0M401.23 413.86h0M400.82 413.87h0M402.53 412.68h0M407.11 414.77h0M404.14 421.07h0M407.48 416.92h0M404.79 419.37h0M406.72 417.68h0M406.68 416.41h0M408.77 415.79h0M409.58 412.37h0M409.58 417.42h0" stroke="#4f7aba" stroke-width="2.6" stroke-linecap="round" fill="none"/>
<path d="M390.81 453.18h0M380.81 439.57h0M379.93 451.21h0M377.92 450.63h0M387.4 458.5h0M388.64 461.79h0M392.13 434.16h0M389.22 458.15h0M389.57 460.06h0M382.58 431.26h0M408.59 431.44h0M410.31 439.96h0M393.02 454.27h0M405.62 456.56h0M392.27 434.05h0M389.21 462.53h0M377.62 450.43h0M389.06 453.21h0M393.42 433.61h0M384.3 438.72h0M393.62 455.68h0M394.35 463.18h0M392.77 455.73h0M383.07 431.21h0M379.3 458.1h0M379.12 457.58h0M379.63 453.11h0M380.55 450.77h0M409.13 439.54h0M393.52 428.32h0M383.58 447.75h0M385.58 454.63h0M390.75 430.86h0M383.36 441.25h0M382.54 446.53h0M377.4 451.14h0M378.75 453.24h0M382.68 461.67h0M391.01 455.24h0M388.36 453.74h0M381.32 450.14h0M393.58 462.51h0M385.56 438.04h0M383.68 452.28h0M391.89 453.93h0M379.52 445.1h0M385.55 428.68h0M406.71 436.21h0M406.75 452.68h0M393.95 433.26h0M385.8 459.36h0M386.75 427.44h0M376.24 451.2h0M408.02 450.06h0M388.23 456.44h0M383.19 430.89h0M388.46 458.41h0M379.65 447.48h0M385.79 439.74h0M378.26 455.7h0M378.89 459.37h0M387.24 462.77h0M391.78 430.46h0M384.07 437.61h0M378.77 449.95h0M388.47 458.09h0M380.09 455.45h0M376.89 450.91h0M385.29 445.02h0M384.81 430.38h0M409.54 448.03h0M385.46 428.1h0M393.84 464.26h0M394.28 463.46h0M385.17 461.52h0M390.58 453.41h0M382.61 444.74h0M385.08 462.52h0M406.11 445.81h0M389.04 433.91h0M379.48 453.74h0M382.31 447.87h0M386.88 449.51h0M384.95 439.51h0M390.13 451.95h0M390.2 446.43h0M383.08 431.81h0M393.86 433.1h0M405.45 445.43h0M387.15 452.16h0M381.88 448.9h0M381.36 431.78h0M394.19 462.03h0M409.04 450.69h0M382.94 447.91h0M417.35 451.3h0M416.92 454.39h0M418.65 453.46h0M417.55 448.68h0M417.81 449.84h0M418.88 449.61h0M415.49 452.54h0M413.13 447.11h0M415.27 450.17h0M412.91 445.24h0M416.76 447.19h0M423.7 450.54h0M421.72 473.02h0M422.2 453.64h0M451.75 428.11h0M447.24 435.23h0M459.02 432.83h0M452.34 428.65h0M439.8 443.73h0M448.24 446.76h0M432.87 449.6h0M431.63 429.26h0M450.54 443.27h0M431.71 428.51h0M443.5 444.91h0M447.52 438.81h0M447.84 450.07h0M448.94 438.2h0M437.78 446.43h0M448.4 466.1h0M429.01 443.75h0M458.19 430.92h0M433.34 449.36h0M451.7 429.37h0M444.45 429.02h0M457.42 443.93h0M458.55 440.2h0M432.56 455.5h0M436.23 443.98h0M460.64 429.9h0M444.16 429.16h0M442.39 456.38h0M443.44 453.44h0M447.86 440.14h0M449.25 465.15h0M432.56 463.87h0M449.21 428.53h0M427.94 445.85h0M456.25 424.1h0M459.02 458.49h0M437.79 444.78h0M450.5 432.63h0M432.38 467.47h0M429.22 444.29h0M429 451.28h0M448.31 449.19h0M431.2 463.26h0M458.79 431.89h0M432.22 454.57h0M437.3 458.81h0M437.4 462.44h0M432.91 453.88h0M437.28 448.91h0M441.59 443.2h0M456.43 444.31h0M428.85 452.19h0M444.88 439.03h0M448.49 432.64h0M432.1 453.69h0M430.45 458.08h0M431.97 450.65h0M444.58 466h0M447.47 438.25h0M457.54 441.3h0M431.86 455.57h0M430.76 445.24h0M427.98 443.97h0M448.5 432.29h0M444.14 445.83h0M437.56 444.61h0M449.77 427.44h0M445.17 452.19h0M443.1 446.74h0M436.68 444.87h0M448.34 438.7h0M453.67 444.75h0M449.52 432.7h0M432.49 436.28h0M441.91 470.59h0M436.94 461.09h0M429.58 447.9h0M432.64 447.95h0M427.5 442.26h0M434.28 456.46h0M455.69 431.57h0M433.66 455.02h0M466.7 441.07h0M427.41 441.65h0M448.13 464.55h0M429.59 474.1h0M429.58 448.11h0M449.03 446.61h0M444.41 433.13h0M451.79 454.2h0M440.95 466.79h0M457.04 437.86h0M431.18 427.39h0M454.26 432.42h0M443.86 437.39h0M442.41 452.94h0M433.87 441.66h0M435.86 467.37h0M432.05 450.64h0M446.44 429.58h0M429.41 437.87h0M452.7 436.95h0M443.37 445h0M460.38 431.38h0M427.28 442.74h0M454.44 427.55h0M461.71 431.64h0M460.91 452.46h0M432.83 465.42h0M437.51 446.68h0M433.75 464.11h0M435.81 445.37h0M460.69 455.1h0M432.36 433.7h0M428.44 444.68h0M461.36 429.1h0M442.72 443.88h0M462.66 433.08h0M449.9 438.03h0M431.59 432.16h0M448.91 439.73h0M454.53 428.87h0M456.78 446.75h0M447.22 432.32h0M440.59 447.55h0M460.6 435.02h0M427.7 468.95h0M435.15 428.18h0M463.99 442.84h0M457.48 433.32h0M444.77 439.13h0M426.58 432.16h0M429.29 437.01h0M429.09 439.36h0M460.59 429.31h0M426.47 461.53h0M411.74 412.26h0M416.85 441.11h0M408.58 409.36h0M400.91 412.84h0" stroke="#6876ae" stroke-width="2.6" stroke-linecap="round" fill="none"/>
<path d="M397.32 425h0M437.73 458.14h0M452.61 433.3h0M459.16 446.39h0M427.94 469.37h0M458.51 431.79h0M467.15 437.2h0M442.92 445.02h0M458.7 431.48h0M429.31 432.59h0M454.84 451.06h0M452.98 428.78h0M435.91 459.16h0M452.23 432.89h0M448.69 446.37h0M437.66 459.13h0M448.46 434.04h0M463.51 431.91h0M458.45 440.39h0M460.92 435.61h0M441.52 454.7h0M444.96 443.74h0M439.41 460.85h0M459.83 432.99h0M444.86 447.68h0M458.78 445.86h0M437.3 458.07h0M460.91 430.39h0M457.07 438.74h0M442.14 441.58h0M445.92 442.94h0M428.62 426.81h0M437.85 451.91h0M442.85 455.32h0M459.93 430.09h0M446.35 464.67h0M444.23 445.19h0M450.75 433.48h0M448.27 435.77h0M458.33 441.15h0M459.81 444.28h0M439.53 435.58h0M458.41 436.9h0M443.03 443.97h0M457.03 424.49h0M461.73 451.09h0M450.1 426.96h0M447.85 439.79h0M457.43 448.32h0M448.14 447.53h0M451.94 437.5h0M450.02 448.35h0M456.48 429.62h0M457.73 453.44h0M456 449.51h0M438.42 463.07h0M427.16 425.09h0M429.15 468.51h0M427.06 462.76h0M461.34 433.2h0M439.84 453.84h0M442.08 441.85h0M459.63 430.89h0M448.09 445h0M446.92 467.67h0M458.13 430.8h0M459.73 434.44h0M463.56 440.2h0M426.09 473.49h0M455.96 434.94h0M442.78 465.89h0M437.93 451.25h0M452 427.42h0M444.6 448.33h0M450.19 446.93h0M458.54 446h0M438.17 430.14h0M455.3 448.24h0M444.61 444.26h0M426.21 468.2h0M452.16 429.97h0M455.33 436.15h0M450.61 442.48h0M435.07 465.4h0M431.34 428.44h0M457.27 439.73h0M451.23 451.27h0" stroke="#7a72a3" stroke-width="2.6" stroke-linecap="round" fill="none"/>
<path d="M391.58 427.58h0M395.06 434.49h0M378.69 455.24h0M377.69 449.94h0M379.57 458.86h0M403.58 461.93h0M437.86 458.65h0M447.62 464.4h0M438.92 461.01h0M445.97 462.76h0M451.66 456.39h0M450.12 442.83h0M447.38 447.4h0M428.83 465.02h0M456.2 446.27h0M442.88 446.72h0M446.33 466.38h0M440.44 464.96h0M444.56 444.25h0M449.92 455.42h0M442.67 455.14h0M427.36 427.52h0M447.91 445.26h0M441.83 471.53h0M455.13 455.63h0M427.98 464.69h0M427.5 426.83h0M429.29 425.15h0M444.61 453.03h0M442.92 447.99h0M437.45 465.61h0M455.26 454.26h0M438.84 457.36h0M447.91 445.46h0M452.56 440.03h0M437.5 428.81h0M463.24 442.97h0M426.16 464.24h0M429.19 424.35h0M451.92 442.92h0M431.96 467.09h0M431.01 430.13h0M445.96 452.04h0M457.67 468.65h0M449.56 451.53h0M451.22 449.31h0M440.18 450.14h0M434.15 429.76h0" stroke="#896e97" stroke-width="2.6" stroke-linecap="round" fill="none"/>
<path d="M448.25 447.8h0M443.76 452.64h0M453.77 454.97h0M454.46 446.84h0M460.19 458.2h0M425.66 427.58h0M456.7 445.5h0M441.13 463.54h0M454.23 447.3h0M425.8 470.53h0M454.21 447.58h0M457.37 448.12h0M428.91 468.92h0M447.88 446.98h0M441.5 454.73h0M427.77 426.64h0M458.47 445.55h0M448.55 447.73h0M450.15 458.73h0M451.38 451.91h0M456.11 459.47h0M440.39 471.2h0M451.18 448.42h0M452.78 453.74h0M432.14 468.34h0M439.39 463.57h0M456.75 448.92h0M431.86 471.3h0M439.67 469.19h0M410.2 410.27h0" stroke="#96698c" stroke-width="2.6" stroke-linecap="round" fill="none"/>
<path d="M432.11 470.11h0M431.95 467.74h0M461.46 461.66h0M452.08 452.56h0M425.61 467.87h0M427.59 468.42h0M450.86 460.67h0M425 424.12h0M461.07 452.53h0M446.08 459.96h0M445.97 462.36h0M456.34 453.15h0M440.41 466.32h0M430.38 467.74h0M430.08 467.64h0" stroke="#a16480" stroke-width="2.6" stroke-linecap="round" fill="none"/>
<path d="M448.99 453.68h0M446.16 465.99h0M452.2 458.8h0M427.69 425.35h0M446.98 466.12h0M447.95 467.52h0M453.06 456.9h0M430.11 472.94h0M437.63 465.87h0" stroke="#ab5f75" stroke-width="2.6" stroke-linecap="round" fill="none"/>
<path d="M441.03 464.62h0M447.68 466.11h0M453.11 469.84h0M446.01 460.89h0M459.53 462.56h0M443.99 464.65h0M450.85 465.7h0M457.1 465.8h0M429.25 472.53h0M443.29 467.25h0M450.13 467.87h0M461.07 453.06h0M461.14 457.08h0M453.89 469.95h0" stroke="#b45a6a" stroke-width="2.6" stroke-linecap="round" fill="none"/>
<path d="M450.96 467.16h0M454.35 461.59h0M453.55 459.88h0M452.79 467.75h0" stroke="#bc545f" stroke-width="2.6" stroke-linecap="round" fill="none"/>
<path d="M451.83 465.79h0M442.75 471.63h0M459.32 461.11h0M440.64 472.04h0" stroke="#c34d54" stroke-width="2.6" stroke-linecap="round" fill="none"/>
<path d="M456.86 468.76h0M449.37 469.6h0" stroke="#ca4649" stroke-width="2.6" stroke-linecap="round" fill="none"/>
<path d="M457.29 466.27h0M452.84 466.55h0M452.97 464.29h0M456.57 471.21h0M457.55 462.51h0M458.59 468.13h0" stroke="#d13d3e" stroke-width="2.6" stroke-linecap="round" fill="none"/>
<path d="M461.21 463.54h0" stroke="#d73332" stroke-width="2.6" stroke-linecap="round" fill="none"/>
<path d="M394.09 453.71h0M400.69 438.21h0M378.98 450.1h0M403.24 440.44h0M404.16 457.06h0M404.29 441.01h0M399.24 454.61h0M378 450.66h0M401.71 443.57h0M402.74 443.85h0M376.6 449.53h0M393.7 453.98h0M398.36 434.04h0M400.25 442.15h0M396.27 429.24h0M398.17 443.8h0M394.23 434.62h0M403.58 439.75h0M376.86 449.41h0M398.32 444.78h0M401.13 439.29h0M393.06 436.62h0M385.26 461.81h0M381.17 441.39h0M405.03 457.13h0M379.5 448.96h0M387.93 457.05h0M389.33 461.97h0M390.17 458.45h0M393.47 433.09h0M395.25 463.99h0M390.03 453.06h0M394.93 430.3h0M396.16 438.58h0M404.74 448.33h0M400.06 445.1h0M393.39 426.82h0M400.82 438.67h0M403.75 441.4h0M402.93 448.86h0M387.61 452.82h0M382.31 447.14h0M388.27 452.29h0M392.7 454.92h0M396.54 429.32h0M388.16 458.32h0M394.81 462.12h0M399.48 462.03h0M394.94 434.11h0M386.26 446.8h0M397.61 437.95h0M395.82 435.44h0M380.87 434.27h0M395.64 428.04h0M391.15 426.63h0M403.55 440.34h0M378.1 449.69h0M379.74 441.27h0M402.54 439.49h0M397.9 462.89h0M394.67 435.03h0M389.39 459.58h0M395.6 461.97h0M402.67 445.17h0M396.26 445.71h0M385.34 457.43h0M395.91 434.79h0M389.71 454h0M401.7 444.43h0M387.71 460.21h0M389.5 460.62h0M398.47 436.47h0M390.54 429.87h0M390.71 461.35h0M392.61 454.48h0M394.98 427.48h0M397.46 463.54h0M386.87 458.14h0M404.62 449.65h0M391.25 461.85h0M392.62 427.75h0M397.59 436.41h0M390.26 459.47h0M396.32 449.31h0M390.44 458.03h0M401.1 437.67h0M391.39 455.4h0M400.9 434.58h0M397.06 448.94h0M394.01 444.85h0M388.75 450.88h0M381.32 440.86h0M403.93 446.28h0M378.3 451.31h0M402.59 440.19h0M391.41 428.02h0M388.62 459.22h0M398.69 433.26h0M397.71 454.38h0M396.83 448.52h0M398.03 446.91h0M400.59 447.24h0M400.87 430.65h0M412.09 433.14h0M381.4 450.82h0M403.15 447.9h0M405.94 455.95h0M397 442.82h0M380.11 439.33h0M394.69 429.06h0M404.82 449.55h0M385.77 444.5h0M409.21 446.9h0M381.32 448.16h0M383.59 444.18h0M391.44 427.45h0M404.55 455.95h0M396.47 434.51h0M401.56 439.49h0M404.91 450.37h0M396.19 447.36h0M398.86 444.16h0M405.9 453.2h0M399.2 457.03h0M394.44 429.88h0M384.27 452.27h0M400.34 452.99h0M397.21 457.09h0M404.04 457.96h0M396.14 427.49h0M385.8 456.28h0M396.42 448.47h0M376.76 449.33h0M379.73 449.13h0M400.04 445.53h0M405.16 458.94h0M388.85 460.68h0M396.88 441.22h0M390.87 460.93h0M409.84 434.24h0M403.6 462.17h0M389.47 436.61h0M399.19 452.55h0M398.6 429.28h0M385.84 456.25h0M397.44 459.12h0M403.84 460.95h0M414.51 436.12h0M397.85 433.54h0M401.22 427.41h0M386.82 430.8h0M399.42 442.79h0M383.48 442.23h0M400.29 431.97h0M405.91 444.45h0M387.91 442.2h0M380.79 436.31h0M383.25 456.71h0M380.21 445.61h0M393.93 455.11h0M405.51 454.53h0M401.34 438.04h0M399.7 437.42h0M404.77 443.43h0M384.04 436.55h0M409.64 437.84h0M407.91 447.21h0M380.17 457.2h0M407.58 445.18h0M399.23 455.79h0M409.86 443.1h0M395.97 429.26h0M383 432.18h0M387.76 452.24h0M395.63 436.73h0M409.68 443.4h0M382.28 440.9h0M400.61 459.51h0M398.87 449.6h0M401.12 429.75h0M394.95 458.19h0M402.85 430.31h0M397.79 454.76h0M400.72 447.37h0M384.85 455.04h0M402.78 441.72h0M400.27 435.41h0M385.2 456.99h0M403.08 444.3h0M384.34 451.45h0M402.18 439.11h0M396.86 427.66h0M390.71 460.64h0M405.12 457.17h0M390.21 433.79h0M385.74 446.15h0M404.43 431.74h0M397.36 442.54h0M409.07 448.56h0M418.17 449.79h0M418.12 454.48h0M415.1 452.25h0M413.76 442.94h0M414.97 447.32h0M418.02 447.87h0M415.5 447.5h0M413.67 446.73h0M417.59 455.18h0M417.83 454.41h0M416 450.67h0M412.44 443.1h0M414.67 450h0M413.93 445.49h0M400.92 416.79h0M403.33 423.74h0M424.48 432.53h0M423.28 439.43h0M426.83 470.28h0M421.3 472.02h0M421 447.85h0M444.86 437.01h0M428.64 447.15h0M454.81 450.34h0M449.18 440.21h0M428.93 432.27h0M451.45 442.97h0M432.62 450.29h0M461.62 436.97h0M442.05 445.18h0M448.79 433.8h0M427.38 458.79h0M464.15 437.67h0M447.56 437.23h0M432.18 450.38h0M427.45 445.74h0M454.99 438.77h0M443.59 446.83h0M446.93 427.74h0M431.23 457.17h0M434.05 446.99h0M448.4 432.3h0M448.67 431.06h0M448.34 432.88h0M451.42 432.33h0M459.27 430.27h0M449.45 447.37h0M459.69 443.6h0M432.43 447.12h0M456.13 437.57h0M431.26 451.66h0M435.64 457.65h0M454.15 428.7h0M449.91 431.29h0M435.32 449.33h0M442.74 445.21h0M437.36 442.77h0M428.63 458.89h0M439.32 442.69h0M447.9 428.82h0M452.24 427.57h0M460.19 432.62h0M462.95 437.96h0M427.64 445.9h0M431.51 454.05h0M442.49 437.32h0M449.49 441.95h0M465.61 435.8h0M449.99 426.25h0M430.58 456.4h0M431.34 455.45h0M452.97 429.43h0M431.64 451.09h0M434.01 430.48h0M456.91 433.51h0M452.73 439.28h0M444.93 427.94h0M433.96 455.42h0M431.25 439.89h0M438.58 447.05h0M465.04 435.52h0M433.98 449.11h0M451.93 437.85h0M434.72 446.65h0M450.39 425.32h0M451.45 444.55h0M454.06 439.18h0M435.02 460.16h0M459.51 436.52h0M427.61 461.14h0M428.19 452.57h0M466.73 436.63h0M442.11 430.54h0M430.21 441.65h0M429.57 454.74h0M433.32 463.28h0M434.6 455.49h0M440.54 444.25h0M432.23 445.2h0M444.02 434.45h0M462.92 430.77h0M435.45 455.34h0M430.69 460.41h0M465.21 437.77h0M433.5 456.05h0M457.36 424.35h0M448.6 448.47h0M430.08 439.55h0M439.97 431.63h0M430.07 448.4h0M435.82 443.25h0M460.36 438.61h0M427.67 429.3h0M438.44 431.61h0M453.55 424.25h0M450.78 442.42h0M429.3 436.77h0M414.51 433.8h0M410.4 406.6h0M410.47 406.6h0M411.03 409.83h0M411.13 407.47h0M409.09 407.98h0M410.71 406.72h0M410.04 409.06h0M410.43 409.3h0M408.75 407.38h0M400.46 413.04h0M403.09 412.18h0M400.52 413.87h0M402.57 412.47h0M400.45 413.61h0M406.2 412.07h0M406.78 417.1h0M405.79 417.09h0M405.45 418.05h0M407.47 413.37h0" stroke="#4f7aba" stroke-width="2.6" stroke-linecap="round" fill="none"/>
<path d="M387.86 453.39h0M407.23 453.75h0M406.23 448.07h0M379.44 439.67h0M391.19 431.94h0M381.27 433.67h0M390.27 463.5h0M387.28 462.79h0M381.98 452.08h0M383.86 428.92h0M381.91 461.06h0M387.49 459.07h0M385.58 448.2h0M390.93 427.58h0M382.17 461.65h0M387.93 456.57h0M390.84 458.55h0M393.15 435.28h0M388.66 458.97h0M380.5 441.4h0M392.95 434.72h0M392.7 438.4h0M381.27 440.11h0M379.9 433.72h0M385.7 447.49h0M376.79 451.28h0M378.17 439.81h0M378.83 449.66h0M379.61 452.44h0M376.25 451.25h0M391.21 431.9h0M387.86 459.55h0M406.13 448.62h0M390.42 451.84h0M379.45 451.62h0M393.77 434.35h0M387.99 452.78h0M384.2 430.88h0M391.94 426.47h0M392.4 455.19h0M381.5 436.87h0M387.59 450.39h0M390.59 434.63h0M383.56 445.28h0M390.1 435.83h0M384.69 441.74h0M379.34 440.48h0M388.49 436.25h0M396.6 455.97h0M391.31 457.42h0M387.33 434.38h0M408.05 446.89h0M393.63 454.46h0M382.28 442.49h0M387.08 460.43h0M376.31 450.52h0M410.34 444.56h0M384.57 438.51h0M383.78 430.51h0M391.99 436.21h0M392.57 457.45h0M392.18 429.34h0M382 456.14h0M393.3 457.64h0M389.85 454.33h0M384.81 453.8h0M379.44 440.08h0M382.57 448.8h0M405.8 447.66h0M384.95 433.64h0M389.65 455.36h0M386.17 454.04h0M392.35 428.54h0M386.2 436.63h0M387.74 458.59h0M378.66 455.6h0M407.53 452.94h0M383.9 455.91h0M383.27 442.11h0M380.19 453.77h0M384.98 435.16h0M382.36 445.81h0M376.7 446.97h0M388.91 463.72h0M390.03 427.5h0M393.96 442.3h0M409.73 440.64h0M392.7 451.56h0M382.52 432.04h0M390.82 453.07h0M406.67 443.53h0M414.4 449.14h0M412.2 447.49h0M413.86 446.4h0M415.09 451.24h0M417.07 453.58h0M416.6 446.83h0M416.3 446.84h0M414.38 444.67h0M415.55 446.14h0M420.14 453.08h0M415.61 449.81h0M419.42 451.21h0M416.07 448.28h0M420.4 456.8h0M428.47 453.3h0M449.24 428.7h0M429.61 455.01h0M435.82 450.28h0M428.77 447.54h0M451.55 431.96h0M429.69 457.76h0M447.82 442.73h0M446.98 463.5h0M427.69 446.33h0M455.57 430.75h0M442.68 445.02h0M444.97 442.39h0M451.79 427.39h0M456.02 443.21h0M436.08 449.67h0M430.83 457.5h0M447.09 435.55h0M435.04 451.08h0M450.2 446.04h0M442.75 445.71h0M434.74 458.74h0M430.58 458.46h0M455.33 440.82h0M458.48 433.98h0M433.63 447.94h0M423.75 466.81h0M429.62 451.48h0M457.63 447.55h0M443.18 440.32h0M431.9 446.7h0M427.25 424.64h0M453.87 460.2h0M428.46 435.31h0M447.68 466.55h0M439.72 442.1h0M443.65 447.23h0M437.87 453.45h0M430.11 447.72h0M433.55 449.25h0M457.04 425.73h0M460.92 431.31h0M455.34 431.54h0M436.87 444.11h0M431.58 447.17h0M436.05 443.23h0M438.62 462.47h0M436.33 453.71h0M443.51 445.57h0M430.11 451.92h0M437.58 448.26h0M443.18 454.87h0M449.29 439.65h0M454.55 453.29h0M443.54 428.69h0M461.86 436.21h0M427.4 446.98h0M432.77 457.05h0M457.2 444.7h0M431.43 455.16h0M441.76 430.36h0M453.84 438.61h0M432.38 460.13h0M453.6 435.07h0M439.58 451.43h0M459.07 446.78h0M444.49 444.83h0M433.17 446.14h0M461.16 434.92h0M431.06 424.98h0M433.37 449.66h0M461.41 453.38h0M428.74 461.4h0M436.58 465.16h0M428.64 427.23h0M448.13 443.95h0M431.81 440.74h0M446.18 437.27h0M434.53 454.63h0M431.52 447.53h0M427.48 437.99h0M458.34 450.9h0M456.86 425.78h0M433.38 455h0M437.04 442.15h0M451.29 441.15h0M442.13 440.06h0M448.06 453.02h0M462.91 436.19h0M429.18 470.61h0M442.3 431.37h0M442.02 429.52h0M433.75 460.86h0M430.57 439.11h0M437.62 446.86h0M428.09 463.94h0M434.12 467.27h0M448.8 458.28h0M443.63 430.56h0M455.51 439.97h0M462.45 439.67h0M441.79 436.71h0M434.09 469.32h0M455.38 428.09h0M435.5 446.34h0M427.23 428.25h0M450.14 450.43h0M428.22 436.04h0M443.13 433.74h0M437.7 445.7h0M434.99 466.71h0M429.33 429.25h0M430.99 455.81h0M433.87 455.03h0M451.53 437.01h0M430.28 451.97h0M431.21 463.27h0M455.27 446.13h0M443.46 439.9h0M434.67 449.92h0M425.72 427.89h0M431.13 465.54h0M466.52 436.35h0M442.73 464.92h0M433.62 450.34h0M442.17 430.92h0M442.79 451.04h0M416.37 448.12h0M410.15 408.49h0M410.76 410.26h0M412.22 413.84h0" stroke="#6876ae" stroke-width="2.6" stroke-linecap="round" fill="none"/>
<path d="M402.83 430.82h0M451.09 428.22h0M445.06 463.55h0M442.81 445.48h0M447.83 443.84h0M432.46 466.76h0M449.21 466.14h0M450.82 453.8h0M438.81 462.63h0M450.31 433.78h0M449.96 439.38h0M450.76 444.19h0M448.79 446.34h0M427.38 433.08h0M450.99 442.73h0M440.24 445.15h0M431.9 469.28h0M448.4 437.07h0M440.35 453.81h0M443.55 463.99h0M438.61 443.48h0M431.22 465.4h0M450.37 431.65h0M453.69 447.54h0M456.54 424.21h0M457.39 450.5h0M466.44 437.88h0M445.24 438.35h0M449.18 442.52h0M437.93 453.02h0M450.42 438.06h0M426.8 465.35h0M429.72 425.58h0M442.38 449.82h0M446.92 433.61h0M462.65 431.3h0M449.2 443.54h0M448.19 447.34h0M465.4 438.44h0M444.45 446.82h0M449.07 431.98h0M451.61 428.04h0M459.76 457.63h0M436.57 462.28h0M452.91 427.43h0M447.04 441.38h0M464.26 436.48h0M462.09 431.41h0M458.56 431.38h0M438.25 443.84h0M460.34 442.06h0M462.49 442.69h0M440.26 459.43h0M453.95 434.44h0M442 433.09h0M443.54 461.35h0M439.69 445.09h0M460.56 441.12h0M454.02 444.73h0M444.22 446.25h0M457.37 424.16h0M448.64 430.28h0M459.64 436.58h0M430.93 473.68h0M462.1 429.77h0M446.59 441.8h0M452.02 439.08h0M455.03 425.27h0M440 453.35h0M462.11 453.43h0M432.11 472.78h0M458.59 426.44h0M458.76 450.3h0M447.12 435.58h0M455.51 424.2h0M453.41 448.53h0M452.66 460.61h0M455.72 454.38h0M458.17 431.03h0M430.5 462.73h0M448.17 434.56h0M449.81 439.39h0M450.88 447.89h0M448.71 439.09h0M456.31 463.67h0M427.29 471.12h0M444.17 463.04h0M427.39 423.16h0M454.69 439.77h0M460.02 436.11h0M445.7 439.44h0M447.57 438.33h0M447.72 446.57h0M408.2 431.11h0M409.48 410.55h0" stroke="#7a72a3" stroke-width="2.6" stroke-linecap="round" fill="none"/>
<path d="M386.42 459.96h0M378.56 458.1h0M398.45 457.2h0M445.26 443.37h0M455.72 447.1h0M450.14 447.26h0M443.01 455.21h0M426.88 465.94h0M430.11 463.57h0M454.51 448.86h0M442.59 464.14h0M460.56 457.25h0M457.2 440.98h0M459.21 442.6h0M444.36 441.71h0M449.14 441.65h0M442.54 447.77h0M446.38 464h0M454.54 448.4h0M455.55 448.97h0M451.71 454.5h0M426.71 468h0M425.89 468.73h0M426.48 423.91h0M448.82 441.62h0M448.53 442.62h0M447.79 467.18h0M453.92 447.79h0M431.48 463.73h0M431.59 469.37h0M435.29 462.57h0M444.29 446.97h0M430.81 464.09h0M459.15 451.55h0M428.31 471.54h0M453.13 443.3h0M454.4 470.58h0M439.41 453.11h0M452.25 463.2h0M431.29 433.34h0M451.73 463.98h0M440.32 452.59h0M431.25 467.7h0M439.26 468.15h0M451.1 442.59h0M433.43 468.97h0M426.59 431.39h0M444.59 441.05h0M458.34 453.95h0M439.68 449.59h0M447.18 454.91h0M445.49 447.09h0M449.41 454.7h0M427.97 467.09h0M426.99 428.13h0M460.99 455.79h0M440.39 464.51h0M465.49 441.29h0M437.6 471.27h0M459.34 461.75h0M448.49 444.92h0M407.17 462.86h0M406.98 415.69h0" stroke="#896e97" stroke-width="2.6" stroke-linecap="round" fill="none"/>
<path d="M430.73 427.62h0M443.63 464.57h0M454.87 453.68h0M431.76 428.95h0M440.61 465.15h0M427.49 426.41h0M453.9 455.1h0M434.21 466.24h0M433.66 467.27h0M429.01 471.94h0M455.02 445.93h0M425.87 466.02h0M434.69 463.22h0M440.93 460.67h0M429.1 430.66h0M462.77 453.11h0M444.32 453.1h0M435.83 465.99h0M452.39 447.52h0M438.32 460.94h0M463.17 446.93h0M444.73 452.97h0M460.66 460.56h0M456.57 460.06h0M437.67 462.87h0M458.32 446.09h0M430.32 429.4h0M458.75 454.41h0M409.92 408.87h0" stroke="#96698c" stroke-width="2.6" stroke-linecap="round" fill="none"/>
<path d="M453.96 454.34h0M459.24 460.35h0M452.08 455.71h0M453.34 456.88h0M453.76 469.09h0M446.64 465.96h0M452.91 455.01h0M428.41 427.46h0M429.8 424.74h0M452.65 456.9h0M455.1 470.27h0M452.36 448.13h0M450.95 464.33h0M461.75 455.79h0M457.61 461.63h0M442.53 466.28h0M426.03 426.01h0M456.1 448.08h0M432.44 466.24h0M454.62 468.6h0M433 471.69h0" stroke="#a16480" stroke-width="2.6" stroke-linecap="round" fill="none"/>
<path d="M451.53 466.77h0M425.41 469.84h0M453.91 451.31h0M439.46 465.62h0M453.47 452.9h0M445.5 464.98h0M458.42 466.92h0M454.39 454.12h0M448.38 466.31h0M445.36 470.7h0M444.05 465.08h0M435.3 470.71h0M433.9 469.78h0M459.96 468.45h0M432.57 468.97h0M454.68 453.62h0" stroke="#ab5f75" stroke-width="2.6" stroke-linecap="round" fill="none"/>
<path d="M461.43 460.74h0M444.1 466.46h0M447.5 465.85h0M430.52 473.61h0M430.36 470.46h0M441.1 469.9h0M450.8 459.02h0M447.88 464.21h0M461.96 455.18h0M433.41 473.24h0M431.23 471.93h0M454.53 470.98h0M442.05 465.71h0M459.92 461.72h0M445.7 465.55h0M448.78 459.78h0" stroke="#b45a6a" stroke-width="2.6" stroke-linecap="round" fill="none"/>
<path d="M448.64 462.12h0M445.49 465.5h0M447.7 465.64h0M452.9 469.27h0M445.14 466.23h0M438.92 470.11h0M461.38 455.87h0M449.37 463.1h0" stroke="#bc545f" stroke-width="2.6" stroke-linecap="round" fill="none"/>
<path d="M454.95 469.54h0M449.47 467.01h0M459.18 459.74h0M446.72 465.35h0M461.29 460.24h0M455.17 466.12h0M452.61 468.2h0" stroke="#c34d54" stroke-width="2.6" stroke-linecap="round" fill="none"/>
<path d="M446.92 465.51h0M456.4 470.01h0M459.07 469.45h0" stroke="#ca4649" stroke-width="2.6" stroke-linecap="round" fill="none"/>
<path d="M451.04 467.64h0M459.69 462.25h0M445.94 469.33h0M447.45 471.98h0M455.13 465.16h0M453.96 467.53h0" stroke="#d13d3e" stroke-width="2.6" stroke-linecap="round" fill="none"/>
<path d="M455.38 470.42h0" stroke="#d73332" stroke-width="2.6" stroke-linecap="round" fill="none"/>
<text x="422.8" y="391.5" font-size="9.3" text-anchor="middle" font-weight="bold" fill="#111" textLength="81.6" lengthAdjust="spacingAndGlyphs">chemokine_score</text>
<defs><linearGradient id="cgJ" x1="0" y1="1" x2="0" y2="0"><stop offset="0" stop-color="#3e7cc0"/><stop offset="0.1" stop-color="#6676b0"/><stop offset="0.2" stop-color="#7f719f"/><stop offset="0.3" stop-color="#926a8f"/><stop offset="0.4" stop-color="#a2647f"/><stop offset="0.5" stop-color="#af5c70"/><stop offset="0.6" stop-color="#bb5460"/><stop offset="0.7" stop-color="#c64b51"/><stop offset="0.8" stop-color="#cf4041"/><stop offset="0.9" stop-color="#d83231"/><stop offset="1" stop-color="#e01e20"/></linearGradient></defs>
<rect x="485.8" y="416.8" width="9.6" height="46.4" fill="url(#cgJ)"/>
<line x1="485.8" y1="455.23" x2="487.6" y2="455.23" stroke="#fff" stroke-width="0.5"/>
<line x1="493.6" y1="455.23" x2="495.4" y2="455.23" stroke="#fff" stroke-width="0.5"/>
<text x="498.5" y="457.63" font-size="6.6" fill="#222">10</text>
<line x1="485.8" y1="445.62" x2="487.6" y2="445.62" stroke="#fff" stroke-width="0.5"/>
<line x1="493.6" y1="445.62" x2="495.4" y2="445.62" stroke="#fff" stroke-width="0.5"/>
<text x="498.5" y="448.02" font-size="6.6" fill="#222">20</text>
<line x1="485.8" y1="436.01" x2="487.6" y2="436.01" stroke="#fff" stroke-width="0.5"/>
<line x1="493.6" y1="436.01" x2="495.4" y2="436.01" stroke="#fff" stroke-width="0.5"/>
<text x="498.5" y="438.41" font-size="6.6" fill="#222">30</text>
<line x1="485.8" y1="426.41" x2="487.6" y2="426.41" stroke="#fff" stroke-width="0.5"/>
<line x1="493.6" y1="426.41" x2="495.4" y2="426.41" stroke="#fff" stroke-width="0.5"/>
<text x="498.5" y="428.81" font-size="6.6" fill="#222">40</text>
</svg></body></html>
